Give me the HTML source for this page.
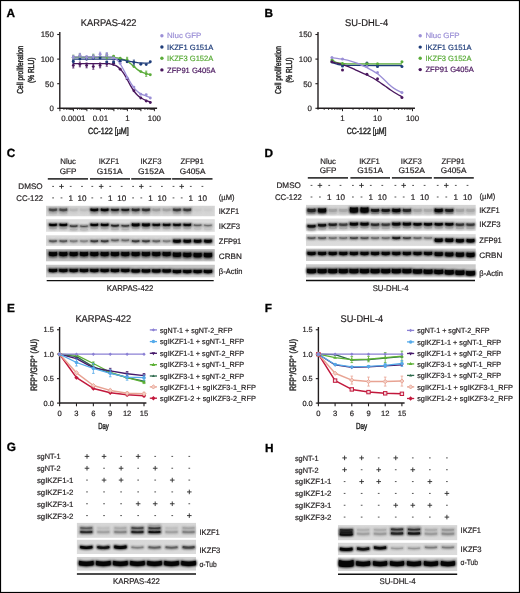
<!DOCTYPE html>
<html><head><meta charset="utf-8"><style>
html,body{margin:0;padding:0;background:#fff;}
svg{display:block;will-change:transform;}
text{font-family:"Liberation Sans", sans-serif;text-rendering:geometricPrecision;}
</style></head><body>
<svg width="520" height="593" viewBox="0 0 520 593">
<rect width="520" height="593" fill="#fff"/>
<text x="6.60" y="17.30" font-size="11.8" font-weight="bold" fill="#000" stroke="#000" stroke-width="0.3">A</text>
<text x="264.60" y="17.20" font-size="11.8" font-weight="bold" fill="#000" stroke="#000" stroke-width="0.3">B</text>
<text x="6.80" y="157.20" font-size="11.8" font-weight="bold" fill="#000" stroke="#000" stroke-width="0.3">C</text>
<text x="264.60" y="157.00" font-size="11.8" font-weight="bold" fill="#000" stroke="#000" stroke-width="0.3">D</text>
<text x="7.10" y="312.00" font-size="11.8" font-weight="bold" fill="#000" stroke="#000" stroke-width="0.3">E</text>
<text x="264.80" y="312.00" font-size="11.8" font-weight="bold" fill="#000" stroke="#000" stroke-width="0.3">F</text>
<text x="6.80" y="451.10" font-size="11.8" font-weight="bold" fill="#000" stroke="#000" stroke-width="0.3">G</text>
<text x="264.90" y="451.50" font-size="11.8" font-weight="bold" fill="#000" stroke="#000" stroke-width="0.3">H</text>
<line x1="59.80" y1="32.00" x2="59.80" y2="108.90" stroke="#231f20" stroke-width="1.4"/>
<line x1="57.20" y1="108.30" x2="59.80" y2="108.30" stroke="#231f20" stroke-width="1.1"/>
<text x="53.80" y="111.10" font-size="7.9" text-anchor="end" fill="#231f20" stroke="#231f20" stroke-width="0.2">0</text>
<line x1="57.20" y1="83.70" x2="59.80" y2="83.70" stroke="#231f20" stroke-width="1.1"/>
<text x="53.80" y="86.50" font-size="7.9" text-anchor="end" fill="#231f20" stroke="#231f20" stroke-width="0.2">50</text>
<line x1="57.20" y1="59.10" x2="59.80" y2="59.10" stroke="#231f20" stroke-width="1.1"/>
<text x="53.80" y="61.90" font-size="7.9" text-anchor="end" fill="#231f20" stroke="#231f20" stroke-width="0.2">100</text>
<line x1="57.20" y1="34.50" x2="59.80" y2="34.50" stroke="#231f20" stroke-width="1.1"/>
<text x="53.80" y="37.30" font-size="7.9" text-anchor="end" fill="#231f20" stroke="#231f20" stroke-width="0.2">150</text>
<line x1="59.10" y1="108.30" x2="157.10" y2="108.30" stroke="#231f20" stroke-width="1.5"/>
<line x1="59.90" y1="108.30" x2="59.90" y2="111.20" stroke="#231f20" stroke-width="1.0"/>
<line x1="63.96" y1="108.30" x2="63.96" y2="110.00" stroke="#231f20" stroke-width="0.8"/>
<line x1="66.34" y1="108.30" x2="66.34" y2="110.00" stroke="#231f20" stroke-width="0.8"/>
<line x1="68.03" y1="108.30" x2="68.03" y2="110.00" stroke="#231f20" stroke-width="0.8"/>
<line x1="69.34" y1="108.30" x2="69.34" y2="110.00" stroke="#231f20" stroke-width="0.8"/>
<line x1="70.41" y1="108.30" x2="70.41" y2="110.00" stroke="#231f20" stroke-width="0.8"/>
<line x1="71.31" y1="108.30" x2="71.31" y2="110.00" stroke="#231f20" stroke-width="0.8"/>
<line x1="72.09" y1="108.30" x2="72.09" y2="110.00" stroke="#231f20" stroke-width="0.8"/>
<line x1="72.78" y1="108.30" x2="72.78" y2="110.00" stroke="#231f20" stroke-width="0.8"/>
<line x1="73.40" y1="108.30" x2="73.40" y2="111.20" stroke="#231f20" stroke-width="1.0"/>
<line x1="77.46" y1="108.30" x2="77.46" y2="110.00" stroke="#231f20" stroke-width="0.8"/>
<line x1="79.84" y1="108.30" x2="79.84" y2="110.00" stroke="#231f20" stroke-width="0.8"/>
<line x1="81.53" y1="108.30" x2="81.53" y2="110.00" stroke="#231f20" stroke-width="0.8"/>
<line x1="82.84" y1="108.30" x2="82.84" y2="110.00" stroke="#231f20" stroke-width="0.8"/>
<line x1="83.91" y1="108.30" x2="83.91" y2="110.00" stroke="#231f20" stroke-width="0.8"/>
<line x1="84.81" y1="108.30" x2="84.81" y2="110.00" stroke="#231f20" stroke-width="0.8"/>
<line x1="85.59" y1="108.30" x2="85.59" y2="110.00" stroke="#231f20" stroke-width="0.8"/>
<line x1="86.28" y1="108.30" x2="86.28" y2="110.00" stroke="#231f20" stroke-width="0.8"/>
<line x1="86.90" y1="108.30" x2="86.90" y2="111.20" stroke="#231f20" stroke-width="1.0"/>
<line x1="90.96" y1="108.30" x2="90.96" y2="110.00" stroke="#231f20" stroke-width="0.8"/>
<line x1="93.34" y1="108.30" x2="93.34" y2="110.00" stroke="#231f20" stroke-width="0.8"/>
<line x1="95.03" y1="108.30" x2="95.03" y2="110.00" stroke="#231f20" stroke-width="0.8"/>
<line x1="96.34" y1="108.30" x2="96.34" y2="110.00" stroke="#231f20" stroke-width="0.8"/>
<line x1="97.41" y1="108.30" x2="97.41" y2="110.00" stroke="#231f20" stroke-width="0.8"/>
<line x1="98.31" y1="108.30" x2="98.31" y2="110.00" stroke="#231f20" stroke-width="0.8"/>
<line x1="99.09" y1="108.30" x2="99.09" y2="110.00" stroke="#231f20" stroke-width="0.8"/>
<line x1="99.78" y1="108.30" x2="99.78" y2="110.00" stroke="#231f20" stroke-width="0.8"/>
<line x1="100.40" y1="108.30" x2="100.40" y2="111.20" stroke="#231f20" stroke-width="1.0"/>
<line x1="104.46" y1="108.30" x2="104.46" y2="110.00" stroke="#231f20" stroke-width="0.8"/>
<line x1="106.84" y1="108.30" x2="106.84" y2="110.00" stroke="#231f20" stroke-width="0.8"/>
<line x1="108.53" y1="108.30" x2="108.53" y2="110.00" stroke="#231f20" stroke-width="0.8"/>
<line x1="109.84" y1="108.30" x2="109.84" y2="110.00" stroke="#231f20" stroke-width="0.8"/>
<line x1="110.91" y1="108.30" x2="110.91" y2="110.00" stroke="#231f20" stroke-width="0.8"/>
<line x1="111.81" y1="108.30" x2="111.81" y2="110.00" stroke="#231f20" stroke-width="0.8"/>
<line x1="112.59" y1="108.30" x2="112.59" y2="110.00" stroke="#231f20" stroke-width="0.8"/>
<line x1="113.28" y1="108.30" x2="113.28" y2="110.00" stroke="#231f20" stroke-width="0.8"/>
<line x1="113.90" y1="108.30" x2="113.90" y2="111.20" stroke="#231f20" stroke-width="1.0"/>
<line x1="117.96" y1="108.30" x2="117.96" y2="110.00" stroke="#231f20" stroke-width="0.8"/>
<line x1="120.34" y1="108.30" x2="120.34" y2="110.00" stroke="#231f20" stroke-width="0.8"/>
<line x1="122.03" y1="108.30" x2="122.03" y2="110.00" stroke="#231f20" stroke-width="0.8"/>
<line x1="123.34" y1="108.30" x2="123.34" y2="110.00" stroke="#231f20" stroke-width="0.8"/>
<line x1="124.41" y1="108.30" x2="124.41" y2="110.00" stroke="#231f20" stroke-width="0.8"/>
<line x1="125.31" y1="108.30" x2="125.31" y2="110.00" stroke="#231f20" stroke-width="0.8"/>
<line x1="126.09" y1="108.30" x2="126.09" y2="110.00" stroke="#231f20" stroke-width="0.8"/>
<line x1="126.78" y1="108.30" x2="126.78" y2="110.00" stroke="#231f20" stroke-width="0.8"/>
<line x1="127.40" y1="108.30" x2="127.40" y2="111.20" stroke="#231f20" stroke-width="1.0"/>
<line x1="131.46" y1="108.30" x2="131.46" y2="110.00" stroke="#231f20" stroke-width="0.8"/>
<line x1="133.84" y1="108.30" x2="133.84" y2="110.00" stroke="#231f20" stroke-width="0.8"/>
<line x1="135.53" y1="108.30" x2="135.53" y2="110.00" stroke="#231f20" stroke-width="0.8"/>
<line x1="136.84" y1="108.30" x2="136.84" y2="110.00" stroke="#231f20" stroke-width="0.8"/>
<line x1="137.91" y1="108.30" x2="137.91" y2="110.00" stroke="#231f20" stroke-width="0.8"/>
<line x1="138.81" y1="108.30" x2="138.81" y2="110.00" stroke="#231f20" stroke-width="0.8"/>
<line x1="139.59" y1="108.30" x2="139.59" y2="110.00" stroke="#231f20" stroke-width="0.8"/>
<line x1="140.28" y1="108.30" x2="140.28" y2="110.00" stroke="#231f20" stroke-width="0.8"/>
<line x1="140.90" y1="108.30" x2="140.90" y2="111.20" stroke="#231f20" stroke-width="1.0"/>
<line x1="144.96" y1="108.30" x2="144.96" y2="110.00" stroke="#231f20" stroke-width="0.8"/>
<line x1="147.34" y1="108.30" x2="147.34" y2="110.00" stroke="#231f20" stroke-width="0.8"/>
<line x1="149.03" y1="108.30" x2="149.03" y2="110.00" stroke="#231f20" stroke-width="0.8"/>
<line x1="150.34" y1="108.30" x2="150.34" y2="110.00" stroke="#231f20" stroke-width="0.8"/>
<line x1="151.41" y1="108.30" x2="151.41" y2="110.00" stroke="#231f20" stroke-width="0.8"/>
<line x1="152.31" y1="108.30" x2="152.31" y2="110.00" stroke="#231f20" stroke-width="0.8"/>
<line x1="153.09" y1="108.30" x2="153.09" y2="110.00" stroke="#231f20" stroke-width="0.8"/>
<line x1="153.78" y1="108.30" x2="153.78" y2="110.00" stroke="#231f20" stroke-width="0.8"/>
<line x1="154.40" y1="108.30" x2="154.40" y2="111.20" stroke="#231f20" stroke-width="1.0"/>
<text x="73.40" y="121.20" font-size="7.9" text-anchor="middle" fill="#231f20" stroke="#231f20" stroke-width="0.2">0.0001</text>
<text x="100.40" y="121.20" font-size="7.9" text-anchor="middle" fill="#231f20" stroke="#231f20" stroke-width="0.2">0.01</text>
<text x="127.40" y="121.20" font-size="7.9" text-anchor="middle" fill="#231f20" stroke="#231f20" stroke-width="0.2">1</text>
<text x="154.40" y="121.20" font-size="7.9" text-anchor="middle" fill="#231f20" stroke="#231f20" stroke-width="0.2">100</text>
<text x="88.00" y="134.2" font-size="9.0" textLength="40.7" lengthAdjust="spacingAndGlyphs" fill="#2a2a2a" stroke="#2a2a2a" stroke-width="0.45">CC-122 [µM]</text>
<text x="80.80" y="26.30" font-size="9.8" textLength="55.7" lengthAdjust="spacingAndGlyphs" fill="#231f20" stroke="#231f20" stroke-width="0.2">KARPAS-422</text>
<text transform="translate(22.60,69.70) rotate(-90)" x="0" y="0" font-size="8.6" text-anchor="middle" textLength="48.0" lengthAdjust="spacingAndGlyphs" fill="#2a2a2a" stroke="#2a2a2a" stroke-width="0.45">Cell proliferation</text>
<text transform="translate(33.60,70.30) rotate(-90)" x="0" y="0" font-size="8.6" text-anchor="middle" textLength="25.3" lengthAdjust="spacingAndGlyphs" fill="#2a2a2a" stroke="#2a2a2a" stroke-width="0.45">(% RLU)</text>
<path d="M73.30,63.60 C78.75,63.60 99.88,63.55 106.00,63.60 C112.12,63.65 108.67,63.70 110.00,63.90 C111.33,64.10 112.75,64.35 114.00,64.80 C115.25,65.25 116.42,65.83 117.50,66.60 C118.58,67.37 119.42,68.20 120.50,69.40 C121.58,70.60 122.90,72.17 124.00,73.80 C125.10,75.43 126.02,77.23 127.10,79.20 C128.18,81.17 129.37,83.63 130.50,85.60 C131.63,87.57 132.73,89.40 133.90,91.00 C135.07,92.60 136.35,94.07 137.50,95.20 C138.65,96.33 139.35,96.90 140.80,97.80 C142.25,98.70 144.62,99.92 146.20,100.60 C147.78,101.28 149.62,101.68 150.30,101.90" fill="none" stroke="#4a175e" stroke-width="1.35" stroke-linejoin="round"/>
<path d="M73.30,57.20 C79.08,57.22 101.22,57.23 108.00,57.30 C114.78,57.37 112.00,57.42 114.00,57.60 C116.00,57.78 118.33,58.07 120.00,58.40 C121.67,58.73 122.82,59.17 124.00,59.60 C125.18,60.03 126.02,60.33 127.10,61.00 C128.18,61.67 129.37,62.67 130.50,63.60 C131.63,64.53 132.73,65.60 133.90,66.60 C135.07,67.60 136.35,68.77 137.50,69.60 C138.65,70.43 139.35,70.93 140.80,71.60 C142.25,72.27 144.62,73.10 146.20,73.60 C147.78,74.10 149.62,74.43 150.30,74.60" fill="none" stroke="#5bac3a" stroke-width="1.35" stroke-linejoin="round"/>
<path d="M73.30,59.10 C79.42,59.12 102.55,59.13 110.00,59.20 C117.45,59.27 115.67,59.33 118.00,59.50 C120.33,59.67 122.00,59.90 124.00,60.20 C126.00,60.50 128.00,60.93 130.00,61.30 C132.00,61.67 134.17,62.12 136.00,62.40 C137.83,62.68 139.30,62.88 141.00,63.00 C142.70,63.12 144.65,63.13 146.20,63.10 C147.75,63.07 149.62,62.85 150.30,62.80" fill="none" stroke="#1f3d7a" stroke-width="1.35" stroke-linejoin="round"/>
<path d="M73.30,56.80 C79.08,56.80 101.55,56.75 108.00,56.80 C114.45,56.85 110.75,56.80 112.00,57.10 C113.25,57.40 114.42,57.88 115.50,58.60 C116.58,59.32 117.50,60.17 118.50,61.40 C119.50,62.63 120.50,64.30 121.50,66.00 C122.50,67.70 123.57,69.83 124.50,71.60 C125.43,73.37 126.10,74.77 127.10,76.60 C128.10,78.43 129.37,80.77 130.50,82.60 C131.63,84.43 132.73,86.13 133.90,87.60 C135.07,89.07 136.35,90.37 137.50,91.40 C138.65,92.43 139.35,93.03 140.80,93.80 C142.25,94.57 144.62,95.37 146.20,96.00 C147.78,96.63 149.62,97.33 150.30,97.60" fill="none" stroke="#9b8fd6" stroke-width="1.35" stroke-linejoin="round"/>
<line x1="73.30" y1="62.80" x2="73.30" y2="68.00" stroke="#4a175e" stroke-width="0.8"/>
<line x1="72.20" y1="62.80" x2="74.40" y2="62.80" stroke="#4a175e" stroke-width="0.8"/>
<line x1="72.20" y1="68.00" x2="74.40" y2="68.00" stroke="#4a175e" stroke-width="0.8"/>
<circle cx="73.30" cy="65.40" r="1.45" fill="#4a175e"/>
<line x1="79.90" y1="62.00" x2="79.90" y2="66.80" stroke="#4a175e" stroke-width="0.8"/>
<line x1="78.80" y1="62.00" x2="81.00" y2="62.00" stroke="#4a175e" stroke-width="0.8"/>
<line x1="78.80" y1="66.80" x2="81.00" y2="66.80" stroke="#4a175e" stroke-width="0.8"/>
<circle cx="79.90" cy="64.40" r="1.45" fill="#4a175e"/>
<line x1="86.60" y1="63.00" x2="86.60" y2="67.80" stroke="#4a175e" stroke-width="0.8"/>
<line x1="85.50" y1="63.00" x2="87.70" y2="63.00" stroke="#4a175e" stroke-width="0.8"/>
<line x1="85.50" y1="67.80" x2="87.70" y2="67.80" stroke="#4a175e" stroke-width="0.8"/>
<circle cx="86.60" cy="65.40" r="1.45" fill="#4a175e"/>
<line x1="93.30" y1="64.00" x2="93.30" y2="69.20" stroke="#4a175e" stroke-width="0.8"/>
<line x1="92.20" y1="64.00" x2="94.40" y2="64.00" stroke="#4a175e" stroke-width="0.8"/>
<line x1="92.20" y1="69.20" x2="94.40" y2="69.20" stroke="#4a175e" stroke-width="0.8"/>
<circle cx="93.30" cy="66.60" r="1.45" fill="#4a175e"/>
<line x1="100.10" y1="63.00" x2="100.10" y2="67.80" stroke="#4a175e" stroke-width="0.8"/>
<line x1="99.00" y1="63.00" x2="101.20" y2="63.00" stroke="#4a175e" stroke-width="0.8"/>
<line x1="99.00" y1="67.80" x2="101.20" y2="67.80" stroke="#4a175e" stroke-width="0.8"/>
<circle cx="100.10" cy="65.40" r="1.45" fill="#4a175e"/>
<line x1="106.80" y1="61.40" x2="106.80" y2="66.20" stroke="#4a175e" stroke-width="0.8"/>
<line x1="105.70" y1="61.40" x2="107.90" y2="61.40" stroke="#4a175e" stroke-width="0.8"/>
<line x1="105.70" y1="66.20" x2="107.90" y2="66.20" stroke="#4a175e" stroke-width="0.8"/>
<circle cx="106.80" cy="63.80" r="1.45" fill="#4a175e"/>
<line x1="113.60" y1="61.00" x2="113.60" y2="65.40" stroke="#4a175e" stroke-width="0.8"/>
<line x1="112.50" y1="61.00" x2="114.70" y2="61.00" stroke="#4a175e" stroke-width="0.8"/>
<line x1="112.50" y1="65.40" x2="114.70" y2="65.40" stroke="#4a175e" stroke-width="0.8"/>
<circle cx="113.60" cy="63.20" r="1.45" fill="#4a175e"/>
<circle cx="120.20" cy="69.20" r="1.45" fill="#4a175e"/>
<circle cx="127.10" cy="78.90" r="1.45" fill="#4a175e"/>
<circle cx="133.90" cy="90.70" r="1.45" fill="#4a175e"/>
<circle cx="140.80" cy="98.00" r="1.45" fill="#4a175e"/>
<circle cx="146.20" cy="101.00" r="1.45" fill="#4a175e"/>
<circle cx="150.30" cy="102.50" r="1.45" fill="#4a175e"/>
<line x1="73.30" y1="55.20" x2="73.30" y2="59.20" stroke="#5bac3a" stroke-width="0.8"/>
<line x1="72.20" y1="55.20" x2="74.40" y2="55.20" stroke="#5bac3a" stroke-width="0.8"/>
<line x1="72.20" y1="59.20" x2="74.40" y2="59.20" stroke="#5bac3a" stroke-width="0.8"/>
<circle cx="73.30" cy="57.20" r="1.45" fill="#5bac3a"/>
<line x1="79.90" y1="53.80" x2="79.90" y2="58.20" stroke="#5bac3a" stroke-width="0.8"/>
<line x1="78.80" y1="53.80" x2="81.00" y2="53.80" stroke="#5bac3a" stroke-width="0.8"/>
<line x1="78.80" y1="58.20" x2="81.00" y2="58.20" stroke="#5bac3a" stroke-width="0.8"/>
<circle cx="79.90" cy="56.00" r="1.45" fill="#5bac3a"/>
<circle cx="86.60" cy="57.20" r="1.45" fill="#5bac3a"/>
<line x1="93.30" y1="54.20" x2="93.30" y2="58.20" stroke="#5bac3a" stroke-width="0.8"/>
<line x1="92.20" y1="54.20" x2="94.40" y2="54.20" stroke="#5bac3a" stroke-width="0.8"/>
<line x1="92.20" y1="58.20" x2="94.40" y2="58.20" stroke="#5bac3a" stroke-width="0.8"/>
<circle cx="93.30" cy="56.20" r="1.45" fill="#5bac3a"/>
<circle cx="100.10" cy="57.00" r="1.45" fill="#5bac3a"/>
<line x1="106.80" y1="53.40" x2="106.80" y2="58.60" stroke="#5bac3a" stroke-width="0.8"/>
<line x1="105.70" y1="53.40" x2="107.90" y2="53.40" stroke="#5bac3a" stroke-width="0.8"/>
<line x1="105.70" y1="58.60" x2="107.90" y2="58.60" stroke="#5bac3a" stroke-width="0.8"/>
<circle cx="106.80" cy="56.00" r="1.45" fill="#5bac3a"/>
<circle cx="113.60" cy="56.20" r="1.45" fill="#5bac3a"/>
<circle cx="120.20" cy="58.20" r="1.45" fill="#5bac3a"/>
<line x1="127.10" y1="57.30" x2="127.10" y2="62.10" stroke="#5bac3a" stroke-width="0.8"/>
<line x1="126.00" y1="57.30" x2="128.20" y2="57.30" stroke="#5bac3a" stroke-width="0.8"/>
<line x1="126.00" y1="62.10" x2="128.20" y2="62.10" stroke="#5bac3a" stroke-width="0.8"/>
<circle cx="127.10" cy="59.70" r="1.45" fill="#5bac3a"/>
<circle cx="133.90" cy="66.60" r="1.45" fill="#5bac3a"/>
<circle cx="140.80" cy="71.60" r="1.45" fill="#5bac3a"/>
<line x1="146.20" y1="71.10" x2="146.20" y2="76.30" stroke="#5bac3a" stroke-width="0.8"/>
<line x1="145.10" y1="71.10" x2="147.30" y2="71.10" stroke="#5bac3a" stroke-width="0.8"/>
<line x1="145.10" y1="76.30" x2="147.30" y2="76.30" stroke="#5bac3a" stroke-width="0.8"/>
<circle cx="146.20" cy="73.70" r="1.45" fill="#5bac3a"/>
<circle cx="150.30" cy="74.80" r="1.45" fill="#5bac3a"/>
<line x1="73.30" y1="59.70" x2="73.30" y2="62.90" stroke="#1f3d7a" stroke-width="0.8"/>
<line x1="72.20" y1="59.70" x2="74.40" y2="59.70" stroke="#1f3d7a" stroke-width="0.8"/>
<line x1="72.20" y1="62.90" x2="74.40" y2="62.90" stroke="#1f3d7a" stroke-width="0.8"/>
<circle cx="73.30" cy="61.30" r="1.45" fill="#1f3d7a"/>
<circle cx="79.90" cy="59.10" r="1.45" fill="#1f3d7a"/>
<circle cx="86.60" cy="59.20" r="1.45" fill="#1f3d7a"/>
<circle cx="93.30" cy="58.50" r="1.45" fill="#1f3d7a"/>
<circle cx="100.10" cy="58.00" r="1.45" fill="#1f3d7a"/>
<circle cx="106.80" cy="62.00" r="1.45" fill="#1f3d7a"/>
<circle cx="113.60" cy="62.00" r="1.45" fill="#1f3d7a"/>
<circle cx="120.20" cy="61.20" r="1.45" fill="#1f3d7a"/>
<circle cx="127.10" cy="61.80" r="1.45" fill="#1f3d7a"/>
<line x1="133.90" y1="60.10" x2="133.90" y2="64.90" stroke="#1f3d7a" stroke-width="0.8"/>
<line x1="132.80" y1="60.10" x2="135.00" y2="60.10" stroke="#1f3d7a" stroke-width="0.8"/>
<line x1="132.80" y1="64.90" x2="135.00" y2="64.90" stroke="#1f3d7a" stroke-width="0.8"/>
<circle cx="133.90" cy="62.50" r="1.45" fill="#1f3d7a"/>
<circle cx="140.80" cy="64.30" r="1.45" fill="#1f3d7a"/>
<circle cx="146.20" cy="64.60" r="1.45" fill="#1f3d7a"/>
<circle cx="150.30" cy="61.80" r="1.45" fill="#1f3d7a"/>
<line x1="73.30" y1="55.40" x2="73.30" y2="59.00" stroke="#9b8fd6" stroke-width="0.8"/>
<line x1="72.20" y1="55.40" x2="74.40" y2="55.40" stroke="#9b8fd6" stroke-width="0.8"/>
<line x1="72.20" y1="59.00" x2="74.40" y2="59.00" stroke="#9b8fd6" stroke-width="0.8"/>
<circle cx="73.30" cy="57.20" r="1.45" fill="#9b8fd6"/>
<line x1="79.90" y1="53.30" x2="79.90" y2="57.30" stroke="#9b8fd6" stroke-width="0.8"/>
<line x1="78.80" y1="53.30" x2="81.00" y2="53.30" stroke="#9b8fd6" stroke-width="0.8"/>
<line x1="78.80" y1="57.30" x2="81.00" y2="57.30" stroke="#9b8fd6" stroke-width="0.8"/>
<circle cx="79.90" cy="55.30" r="1.45" fill="#9b8fd6"/>
<line x1="86.60" y1="55.60" x2="86.60" y2="59.20" stroke="#9b8fd6" stroke-width="0.8"/>
<line x1="85.50" y1="55.60" x2="87.70" y2="55.60" stroke="#9b8fd6" stroke-width="0.8"/>
<line x1="85.50" y1="59.20" x2="87.70" y2="59.20" stroke="#9b8fd6" stroke-width="0.8"/>
<circle cx="86.60" cy="57.40" r="1.45" fill="#9b8fd6"/>
<line x1="93.30" y1="54.70" x2="93.30" y2="58.70" stroke="#9b8fd6" stroke-width="0.8"/>
<line x1="92.20" y1="54.70" x2="94.40" y2="54.70" stroke="#9b8fd6" stroke-width="0.8"/>
<line x1="92.20" y1="58.70" x2="94.40" y2="58.70" stroke="#9b8fd6" stroke-width="0.8"/>
<circle cx="93.30" cy="56.70" r="1.45" fill="#9b8fd6"/>
<line x1="100.10" y1="52.20" x2="100.10" y2="56.20" stroke="#9b8fd6" stroke-width="0.8"/>
<line x1="99.00" y1="52.20" x2="101.20" y2="52.20" stroke="#9b8fd6" stroke-width="0.8"/>
<line x1="99.00" y1="56.20" x2="101.20" y2="56.20" stroke="#9b8fd6" stroke-width="0.8"/>
<circle cx="100.10" cy="54.20" r="1.45" fill="#9b8fd6"/>
<line x1="106.80" y1="52.60" x2="106.80" y2="56.60" stroke="#9b8fd6" stroke-width="0.8"/>
<line x1="105.70" y1="52.60" x2="107.90" y2="52.60" stroke="#9b8fd6" stroke-width="0.8"/>
<line x1="105.70" y1="56.60" x2="107.90" y2="56.60" stroke="#9b8fd6" stroke-width="0.8"/>
<circle cx="106.80" cy="54.60" r="1.45" fill="#9b8fd6"/>
<circle cx="113.60" cy="57.90" r="1.45" fill="#9b8fd6"/>
<circle cx="120.20" cy="63.40" r="1.45" fill="#9b8fd6"/>
<circle cx="127.10" cy="78.00" r="1.45" fill="#9b8fd6"/>
<circle cx="133.90" cy="87.10" r="1.45" fill="#9b8fd6"/>
<circle cx="140.80" cy="94.30" r="1.45" fill="#9b8fd6"/>
<circle cx="146.20" cy="94.80" r="1.45" fill="#9b8fd6"/>
<circle cx="150.30" cy="98.00" r="1.45" fill="#9b8fd6"/>
<circle cx="161.90" cy="35.70" r="1.7" fill="#9b8fd6"/>
<text x="167.10" y="38.40" font-size="7.6" textLength="34.2" lengthAdjust="spacingAndGlyphs" fill="#9b8fd6" stroke="#9b8fd6" stroke-width="0.2">Nluc GFP</text>
<circle cx="161.90" cy="47.00" r="1.7" fill="#1f3d7a"/>
<text x="167.10" y="49.70" font-size="7.6" textLength="46.2" lengthAdjust="spacingAndGlyphs" fill="#1f3d7a" stroke="#1f3d7a" stroke-width="0.2">IKZF1 G151A</text>
<circle cx="161.90" cy="58.30" r="1.7" fill="#5bac3a"/>
<text x="167.10" y="61.00" font-size="7.6" textLength="46.2" lengthAdjust="spacingAndGlyphs" fill="#5bac3a" stroke="#5bac3a" stroke-width="0.2">IKZF3 G152A</text>
<circle cx="161.90" cy="69.90" r="1.7" fill="#4a175e"/>
<text x="167.10" y="72.60" font-size="7.6" textLength="48.4" lengthAdjust="spacingAndGlyphs" fill="#4a175e" stroke="#4a175e" stroke-width="0.2">ZFP91 G405A</text>
<line x1="318.00" y1="32.00" x2="318.00" y2="108.90" stroke="#231f20" stroke-width="1.4"/>
<line x1="315.40" y1="108.30" x2="318.00" y2="108.30" stroke="#231f20" stroke-width="1.1"/>
<text x="312.00" y="111.10" font-size="7.9" text-anchor="end" fill="#231f20" stroke="#231f20" stroke-width="0.2">0</text>
<line x1="315.40" y1="83.70" x2="318.00" y2="83.70" stroke="#231f20" stroke-width="1.1"/>
<text x="312.00" y="86.50" font-size="7.9" text-anchor="end" fill="#231f20" stroke="#231f20" stroke-width="0.2">50</text>
<line x1="315.40" y1="59.10" x2="318.00" y2="59.10" stroke="#231f20" stroke-width="1.1"/>
<text x="312.00" y="61.90" font-size="7.9" text-anchor="end" fill="#231f20" stroke="#231f20" stroke-width="0.2">100</text>
<line x1="315.40" y1="34.50" x2="318.00" y2="34.50" stroke="#231f20" stroke-width="1.1"/>
<text x="312.00" y="37.30" font-size="7.9" text-anchor="end" fill="#231f20" stroke="#231f20" stroke-width="0.2">150</text>
<line x1="317.30" y1="108.30" x2="414.95" y2="108.30" stroke="#231f20" stroke-width="1.5"/>
<line x1="318.04" y1="108.30" x2="318.04" y2="110.00" stroke="#231f20" stroke-width="0.8"/>
<line x1="324.20" y1="108.30" x2="324.20" y2="110.00" stroke="#231f20" stroke-width="0.8"/>
<line x1="328.57" y1="108.30" x2="328.57" y2="110.00" stroke="#231f20" stroke-width="0.8"/>
<line x1="331.96" y1="108.30" x2="331.96" y2="110.00" stroke="#231f20" stroke-width="0.8"/>
<line x1="334.74" y1="108.30" x2="334.74" y2="110.00" stroke="#231f20" stroke-width="0.8"/>
<line x1="337.08" y1="108.30" x2="337.08" y2="110.00" stroke="#231f20" stroke-width="0.8"/>
<line x1="339.11" y1="108.30" x2="339.11" y2="110.00" stroke="#231f20" stroke-width="0.8"/>
<line x1="340.90" y1="108.30" x2="340.90" y2="110.00" stroke="#231f20" stroke-width="0.8"/>
<line x1="342.50" y1="108.30" x2="342.50" y2="111.20" stroke="#231f20" stroke-width="1.0"/>
<line x1="353.04" y1="108.30" x2="353.04" y2="110.00" stroke="#231f20" stroke-width="0.8"/>
<line x1="359.20" y1="108.30" x2="359.20" y2="110.00" stroke="#231f20" stroke-width="0.8"/>
<line x1="363.57" y1="108.30" x2="363.57" y2="110.00" stroke="#231f20" stroke-width="0.8"/>
<line x1="366.96" y1="108.30" x2="366.96" y2="110.00" stroke="#231f20" stroke-width="0.8"/>
<line x1="369.74" y1="108.30" x2="369.74" y2="110.00" stroke="#231f20" stroke-width="0.8"/>
<line x1="372.08" y1="108.30" x2="372.08" y2="110.00" stroke="#231f20" stroke-width="0.8"/>
<line x1="374.11" y1="108.30" x2="374.11" y2="110.00" stroke="#231f20" stroke-width="0.8"/>
<line x1="375.90" y1="108.30" x2="375.90" y2="110.00" stroke="#231f20" stroke-width="0.8"/>
<line x1="377.50" y1="108.30" x2="377.50" y2="111.20" stroke="#231f20" stroke-width="1.0"/>
<line x1="388.04" y1="108.30" x2="388.04" y2="110.00" stroke="#231f20" stroke-width="0.8"/>
<line x1="394.20" y1="108.30" x2="394.20" y2="110.00" stroke="#231f20" stroke-width="0.8"/>
<line x1="398.57" y1="108.30" x2="398.57" y2="110.00" stroke="#231f20" stroke-width="0.8"/>
<line x1="401.96" y1="108.30" x2="401.96" y2="110.00" stroke="#231f20" stroke-width="0.8"/>
<line x1="404.74" y1="108.30" x2="404.74" y2="110.00" stroke="#231f20" stroke-width="0.8"/>
<line x1="407.08" y1="108.30" x2="407.08" y2="110.00" stroke="#231f20" stroke-width="0.8"/>
<line x1="409.11" y1="108.30" x2="409.11" y2="110.00" stroke="#231f20" stroke-width="0.8"/>
<line x1="410.90" y1="108.30" x2="410.90" y2="110.00" stroke="#231f20" stroke-width="0.8"/>
<line x1="412.50" y1="108.30" x2="412.50" y2="111.20" stroke="#231f20" stroke-width="1.0"/>
<text x="342.50" y="121.20" font-size="7.9" text-anchor="middle" fill="#231f20" stroke="#231f20" stroke-width="0.2">1</text>
<text x="377.50" y="121.20" font-size="7.9" text-anchor="middle" fill="#231f20" stroke="#231f20" stroke-width="0.2">10</text>
<text x="412.50" y="121.20" font-size="7.9" text-anchor="middle" fill="#231f20" stroke="#231f20" stroke-width="0.2">100</text>
<text x="346.70" y="134.2" font-size="9.0" textLength="39.8" lengthAdjust="spacingAndGlyphs" fill="#2a2a2a" stroke="#2a2a2a" stroke-width="0.45">CC-122 [µM]</text>
<text x="345.00" y="26.30" font-size="9.8" textLength="43.2" lengthAdjust="spacingAndGlyphs" fill="#231f20" stroke="#231f20" stroke-width="0.2">SU-DHL-4</text>
<text transform="translate(281.20,70.00) rotate(-90)" x="0" y="0" font-size="8.6" text-anchor="middle" textLength="48.0" lengthAdjust="spacingAndGlyphs" fill="#2a2a2a" stroke="#2a2a2a" stroke-width="0.45">Cell proliferation</text>
<text transform="translate(292.30,70.20) rotate(-90)" x="0" y="0" font-size="8.6" text-anchor="middle" textLength="25.3" lengthAdjust="spacingAndGlyphs" fill="#2a2a2a" stroke="#2a2a2a" stroke-width="0.45">(% RLU)</text>
<path d="M332.00,62.60 C332.83,62.87 335.25,63.80 337.00,64.20 C338.75,64.60 339.50,64.80 342.50,65.00 C345.50,65.20 345.08,65.32 355.00,65.40 C364.92,65.48 394.17,65.48 402.00,65.50" fill="none" stroke="#1f3d7a" stroke-width="1.35" stroke-linejoin="round"/>
<path d="M332.00,59.40 C332.67,59.90 334.25,61.72 336.00,62.40 C337.75,63.08 339.33,63.25 342.50,63.50 C345.67,63.75 345.08,63.83 355.00,63.90 C364.92,63.97 394.17,63.90 402.00,63.90" fill="none" stroke="#5bac3a" stroke-width="1.35" stroke-linejoin="round"/>
<path d="M332.00,57.80 C332.83,57.88 335.25,58.07 337.00,58.30 C338.75,58.53 340.33,58.78 342.50,59.20 C344.67,59.62 347.58,60.13 350.00,60.80 C352.42,61.47 354.83,62.37 357.00,63.20 C359.17,64.03 361.33,65.07 363.00,65.80 C364.67,66.53 365.50,66.83 367.00,67.60 C368.50,68.37 370.25,69.37 372.00,70.40 C373.75,71.43 375.67,72.43 377.50,73.80 C379.33,75.17 381.25,77.00 383.00,78.60 C384.75,80.20 386.17,81.77 388.00,83.40 C389.83,85.03 391.67,86.87 394.00,88.40 C396.33,89.93 400.67,91.90 402.00,92.60" fill="none" stroke="#9b8fd6" stroke-width="1.35" stroke-linejoin="round"/>
<path d="M332.00,62.20 C332.83,62.37 335.25,62.80 337.00,63.20 C338.75,63.60 340.50,64.00 342.50,64.60 C344.50,65.20 346.92,65.97 349.00,66.80 C351.08,67.63 353.00,68.67 355.00,69.60 C357.00,70.53 359.00,71.50 361.00,72.40 C363.00,73.30 365.00,74.07 367.00,75.00 C369.00,75.93 371.00,76.87 373.00,78.00 C375.00,79.13 377.00,80.47 379.00,81.80 C381.00,83.13 383.00,84.60 385.00,86.00 C387.00,87.40 389.00,88.87 391.00,90.20 C393.00,91.53 395.17,92.90 397.00,94.00 C398.83,95.10 401.17,96.33 402.00,96.80" fill="none" stroke="#4a175e" stroke-width="1.35" stroke-linejoin="round"/>
<circle cx="331.96" cy="61.81" r="1.5" fill="#1f3d7a"/>
<circle cx="342.50" cy="65.99" r="1.5" fill="#1f3d7a"/>
<circle cx="366.96" cy="63.04" r="1.5" fill="#1f3d7a"/>
<circle cx="377.50" cy="66.48" r="1.5" fill="#1f3d7a"/>
<circle cx="401.96" cy="66.48" r="1.5" fill="#1f3d7a"/>
<circle cx="331.96" cy="60.08" r="1.5" fill="#5bac3a"/>
<circle cx="342.50" cy="63.53" r="1.5" fill="#5bac3a"/>
<circle cx="366.96" cy="63.77" r="1.5" fill="#5bac3a"/>
<circle cx="377.50" cy="63.77" r="1.5" fill="#5bac3a"/>
<circle cx="401.96" cy="61.81" r="1.5" fill="#5bac3a"/>
<circle cx="331.96" cy="57.62" r="1.5" fill="#9b8fd6"/>
<circle cx="342.50" cy="58.90" r="1.5" fill="#9b8fd6"/>
<circle cx="366.96" cy="66.48" r="1.5" fill="#9b8fd6"/>
<circle cx="377.50" cy="72.38" r="1.5" fill="#9b8fd6"/>
<circle cx="401.96" cy="92.56" r="1.5" fill="#9b8fd6"/>
<circle cx="331.96" cy="61.81" r="1.5" fill="#4a175e"/>
<circle cx="342.50" cy="69.92" r="1.5" fill="#4a175e"/>
<circle cx="366.96" cy="74.35" r="1.5" fill="#4a175e"/>
<circle cx="377.50" cy="78.78" r="1.5" fill="#4a175e"/>
<circle cx="401.96" cy="97.48" r="1.5" fill="#4a175e"/>
<circle cx="420.20" cy="35.70" r="1.7" fill="#9b8fd6"/>
<text x="425.40" y="38.40" font-size="7.6" textLength="34.2" lengthAdjust="spacingAndGlyphs" fill="#9b8fd6" stroke="#9b8fd6" stroke-width="0.2">Nluc GFP</text>
<circle cx="420.20" cy="47.10" r="1.7" fill="#1f3d7a"/>
<text x="425.40" y="49.80" font-size="7.6" textLength="46.2" lengthAdjust="spacingAndGlyphs" fill="#1f3d7a" stroke="#1f3d7a" stroke-width="0.2">IKZF1 G151A</text>
<circle cx="420.20" cy="58.20" r="1.7" fill="#5bac3a"/>
<text x="425.40" y="60.90" font-size="7.6" textLength="46.2" lengthAdjust="spacingAndGlyphs" fill="#5bac3a" stroke="#5bac3a" stroke-width="0.2">IKZF3 G152A</text>
<circle cx="420.20" cy="69.60" r="1.7" fill="#4a175e"/>
<text x="425.40" y="72.30" font-size="7.6" textLength="48.4" lengthAdjust="spacingAndGlyphs" fill="#4a175e" stroke="#4a175e" stroke-width="0.2">ZFP91 G405A</text>
<defs><filter id="bl" x="-40%" y="-200%" width="180%" height="500%"><feGaussianBlur stdDeviation="0.9"/></filter><filter id="bl2" x="-40%" y="-200%" width="180%" height="500%"><feGaussianBlur stdDeviation="0.8"/></filter><filter id="bl3" x="-40%" y="-200%" width="180%" height="500%"><feGaussianBlur stdDeviation="0.7"/></filter></defs>
<linearGradient id="g294" x1="0" y1="0" x2="0" y2="1"><stop offset="0" stop-color="#d4d4d4"/><stop offset="1" stop-color="#d8d8d8"/></linearGradient>
<rect x="46.00" y="205.80" width="168.80" height="10.40" fill="url(#g294)"/>
<path d="M48.70,211.55 Q53.00,212.55 57.30,211.55 L57.60,213.40 L57.30,214.45 Q53.00,215.25 48.70,214.45 L48.40,213.40 Z" fill="rgb(186,186,186)" filter="url(#bl)"/>
<path d="M49.40,212.15 Q53.00,213.15 56.60,212.15 L56.90,213.40 L56.60,213.85 Q53.00,214.65 49.40,213.85 L49.10,213.40 Z" fill="rgb(186,186,186)"/>
<path d="M48.70,207.85 Q53.00,208.85 57.30,207.85 L57.60,210.00 L57.30,211.35 Q53.00,212.15 48.70,211.35 L48.40,210.00 Z" fill="rgb(72,72,72)" filter="url(#bl)"/>
<path d="M49.40,208.45 Q53.00,209.45 56.60,208.45 L56.90,210.00 L56.60,210.75 Q53.00,211.55 49.40,210.75 L49.10,210.00 Z" fill="rgb(72,72,72)"/>
<path d="M59.03,211.55 Q63.33,212.55 67.63,211.55 L67.93,213.40 L67.63,214.45 Q63.33,215.25 59.03,214.45 L58.73,213.40 Z" fill="rgb(186,186,186)" filter="url(#bl)"/>
<path d="M59.73,212.15 Q63.33,213.15 66.93,212.15 L67.23,213.40 L66.93,213.85 Q63.33,214.65 59.73,213.85 L59.43,213.40 Z" fill="rgb(186,186,186)"/>
<path d="M59.03,207.85 Q63.33,208.85 67.63,207.85 L67.93,210.00 L67.63,211.35 Q63.33,212.15 59.03,211.35 L58.73,210.00 Z" fill="rgb(72,72,72)" filter="url(#bl)"/>
<path d="M59.73,208.45 Q63.33,209.45 66.93,208.45 L67.23,210.00 L66.93,210.75 Q63.33,211.55 59.73,210.75 L59.43,210.00 Z" fill="rgb(72,72,72)"/>
<path d="M69.36,211.55 Q73.66,212.55 77.96,211.55 L78.26,213.40 L77.96,214.45 Q73.66,215.25 69.36,214.45 L69.06,213.40 Z" fill="rgb(209,209,209)" filter="url(#bl)"/>
<path d="M70.06,212.15 Q73.66,213.15 77.26,212.15 L77.56,213.40 L77.26,213.85 Q73.66,214.65 70.06,213.85 L69.76,213.40 Z" fill="rgb(209,209,209)"/>
<path d="M69.36,207.85 Q73.66,208.85 77.96,207.85 L78.26,210.00 L77.96,211.35 Q73.66,212.15 69.36,211.35 L69.06,210.00 Z" fill="rgb(184,184,184)" filter="url(#bl)"/>
<path d="M70.06,208.45 Q73.66,209.45 77.26,208.45 L77.56,210.00 L77.26,210.75 Q73.66,211.55 70.06,210.75 L69.76,210.00 Z" fill="rgb(184,184,184)"/>
<path d="M79.69,211.55 Q83.99,212.55 88.29,211.55 L88.59,213.40 L88.29,214.45 Q83.99,215.25 79.69,214.45 L79.39,213.40 Z" fill="rgb(210,210,210)" filter="url(#bl)"/>
<path d="M80.39,212.15 Q83.99,213.15 87.59,212.15 L87.89,213.40 L87.59,213.85 Q83.99,214.65 80.39,213.85 L80.09,213.40 Z" fill="rgb(210,210,210)"/>
<path d="M79.69,207.85 Q83.99,208.85 88.29,207.85 L88.59,210.00 L88.29,211.35 Q83.99,212.15 79.69,211.35 L79.39,210.00 Z" fill="rgb(190,190,190)" filter="url(#bl)"/>
<path d="M80.39,208.45 Q83.99,209.45 87.59,208.45 L87.89,210.00 L87.59,210.75 Q83.99,211.55 80.39,210.75 L80.09,210.00 Z" fill="rgb(190,190,190)"/>
<path d="M90.02,211.55 Q94.32,212.55 98.62,211.55 L98.92,213.40 L98.62,214.45 Q94.32,215.25 90.02,214.45 L89.72,213.40 Z" fill="rgb(173,173,173)" filter="url(#bl)"/>
<path d="M90.72,212.15 Q94.32,213.15 97.92,212.15 L98.22,213.40 L97.92,213.85 Q94.32,214.65 90.72,213.85 L90.42,213.40 Z" fill="rgb(173,173,173)"/>
<path d="M90.02,207.85 Q94.32,208.85 98.62,207.85 L98.92,210.00 L98.62,211.35 Q94.32,212.15 90.02,211.35 L89.72,210.00 Z" fill="rgb(5,5,5)" filter="url(#bl)"/>
<path d="M90.72,208.45 Q94.32,209.45 97.92,208.45 L98.22,210.00 L97.92,210.75 Q94.32,211.55 90.72,210.75 L90.42,210.00 Z" fill="rgb(5,5,5)"/>
<path d="M100.35,211.55 Q104.65,212.55 108.95,211.55 L109.25,213.40 L108.95,214.45 Q104.65,215.25 100.35,214.45 L100.05,213.40 Z" fill="rgb(173,173,173)" filter="url(#bl)"/>
<path d="M101.05,212.15 Q104.65,213.15 108.25,212.15 L108.55,213.40 L108.25,213.85 Q104.65,214.65 101.05,213.85 L100.75,213.40 Z" fill="rgb(173,173,173)"/>
<path d="M100.35,207.85 Q104.65,208.85 108.95,207.85 L109.25,210.00 L108.95,211.35 Q104.65,212.15 100.35,211.35 L100.05,210.00 Z" fill="rgb(5,5,5)" filter="url(#bl)"/>
<path d="M101.05,208.45 Q104.65,209.45 108.25,208.45 L108.55,210.00 L108.25,210.75 Q104.65,211.55 101.05,210.75 L100.75,210.00 Z" fill="rgb(5,5,5)"/>
<path d="M110.68,211.55 Q114.98,212.55 119.28,211.55 L119.58,213.40 L119.28,214.45 Q114.98,215.25 110.68,214.45 L110.38,213.40 Z" fill="rgb(176,176,176)" filter="url(#bl)"/>
<path d="M111.38,212.15 Q114.98,213.15 118.58,212.15 L118.88,213.40 L118.58,213.85 Q114.98,214.65 111.38,213.85 L111.08,213.40 Z" fill="rgb(176,176,176)"/>
<path d="M110.68,208.05 Q114.98,209.05 119.28,208.05 L119.58,210.00 L119.28,211.15 Q114.98,211.95 110.68,211.15 L110.38,210.00 Z" fill="rgb(22,22,22)" filter="url(#bl)"/>
<path d="M111.38,208.65 Q114.98,209.65 118.58,208.65 L118.88,210.00 L118.58,210.55 Q114.98,211.35 111.38,210.55 L111.08,210.00 Z" fill="rgb(22,22,22)"/>
<path d="M121.01,211.55 Q125.31,212.55 129.61,211.55 L129.91,213.40 L129.61,214.45 Q125.31,215.25 121.01,214.45 L120.71,213.40 Z" fill="rgb(176,176,176)" filter="url(#bl)"/>
<path d="M121.71,212.15 Q125.31,213.15 128.91,212.15 L129.21,213.40 L128.91,213.85 Q125.31,214.65 121.71,213.85 L121.41,213.40 Z" fill="rgb(176,176,176)"/>
<path d="M121.01,208.05 Q125.31,209.05 129.61,208.05 L129.91,210.00 L129.61,211.15 Q125.31,211.95 121.01,211.15 L120.71,210.00 Z" fill="rgb(22,22,22)" filter="url(#bl)"/>
<path d="M121.71,208.65 Q125.31,209.65 128.91,208.65 L129.21,210.00 L128.91,210.55 Q125.31,211.35 121.71,210.55 L121.41,210.00 Z" fill="rgb(22,22,22)"/>
<path d="M131.34,211.55 Q135.64,212.55 139.94,211.55 L140.24,213.40 L139.94,214.45 Q135.64,215.25 131.34,214.45 L131.04,213.40 Z" fill="rgb(181,181,181)" filter="url(#bl)"/>
<path d="M132.04,212.15 Q135.64,213.15 139.24,212.15 L139.54,213.40 L139.24,213.85 Q135.64,214.65 132.04,213.85 L131.74,213.40 Z" fill="rgb(181,181,181)"/>
<path d="M131.34,207.85 Q135.64,208.85 139.94,207.85 L140.24,210.00 L139.94,211.35 Q135.64,212.15 131.34,211.35 L131.04,210.00 Z" fill="rgb(43,43,43)" filter="url(#bl)"/>
<path d="M132.04,208.45 Q135.64,209.45 139.24,208.45 L139.54,210.00 L139.24,210.75 Q135.64,211.55 132.04,210.75 L131.74,210.00 Z" fill="rgb(43,43,43)"/>
<path d="M141.67,211.55 Q145.97,212.55 150.27,211.55 L150.57,213.40 L150.27,214.45 Q145.97,215.25 141.67,214.45 L141.37,213.40 Z" fill="rgb(181,181,181)" filter="url(#bl)"/>
<path d="M142.37,212.15 Q145.97,213.15 149.57,212.15 L149.87,213.40 L149.57,213.85 Q145.97,214.65 142.37,213.85 L142.07,213.40 Z" fill="rgb(181,181,181)"/>
<path d="M141.67,207.85 Q145.97,208.85 150.27,207.85 L150.57,210.00 L150.27,211.35 Q145.97,212.15 141.67,211.35 L141.37,210.00 Z" fill="rgb(47,47,47)" filter="url(#bl)"/>
<path d="M142.37,208.45 Q145.97,209.45 149.57,208.45 L149.87,210.00 L149.57,210.75 Q145.97,211.55 142.37,210.75 L142.07,210.00 Z" fill="rgb(47,47,47)"/>
<path d="M152.00,211.55 Q156.30,212.55 160.60,211.55 L160.90,213.40 L160.60,214.45 Q156.30,215.25 152.00,214.45 L151.70,213.40 Z" fill="rgb(203,203,203)" filter="url(#bl)"/>
<path d="M152.70,212.15 Q156.30,213.15 159.90,212.15 L160.20,213.40 L159.90,213.85 Q156.30,214.65 152.70,213.85 L152.40,213.40 Z" fill="rgb(203,203,203)"/>
<path d="M152.00,207.85 Q156.30,208.85 160.60,207.85 L160.90,210.00 L160.60,211.35 Q156.30,212.15 152.00,211.35 L151.70,210.00 Z" fill="rgb(156,156,156)" filter="url(#bl)"/>
<path d="M152.70,208.45 Q156.30,209.45 159.90,208.45 L160.20,210.00 L159.90,210.75 Q156.30,211.55 152.70,210.75 L152.40,210.00 Z" fill="rgb(156,156,156)"/>
<path d="M162.33,211.55 Q166.63,212.55 170.93,211.55 L171.23,213.40 L170.93,214.45 Q166.63,215.25 162.33,214.45 L162.03,213.40 Z" fill="rgb(204,204,204)" filter="url(#bl)"/>
<path d="M163.03,212.15 Q166.63,213.15 170.23,212.15 L170.53,213.40 L170.23,213.85 Q166.63,214.65 163.03,213.85 L162.73,213.40 Z" fill="rgb(204,204,204)"/>
<path d="M162.33,207.85 Q166.63,208.85 170.93,207.85 L171.23,210.00 L170.93,211.35 Q166.63,212.15 162.33,211.35 L162.03,210.00 Z" fill="rgb(162,162,162)" filter="url(#bl)"/>
<path d="M163.03,208.45 Q166.63,209.45 170.23,208.45 L170.53,210.00 L170.23,210.75 Q166.63,211.55 163.03,210.75 L162.73,210.00 Z" fill="rgb(162,162,162)"/>
<path d="M172.66,211.55 Q176.96,212.55 181.26,211.55 L181.56,213.40 L181.26,214.45 Q176.96,215.25 172.66,214.45 L172.36,213.40 Z" fill="rgb(184,184,184)" filter="url(#bl)"/>
<path d="M173.36,212.15 Q176.96,213.15 180.56,212.15 L180.86,213.40 L180.56,213.85 Q176.96,214.65 173.36,213.85 L173.06,213.40 Z" fill="rgb(184,184,184)"/>
<path d="M172.66,207.85 Q176.96,208.85 181.26,207.85 L181.56,210.00 L181.26,211.35 Q176.96,212.15 172.66,211.35 L172.36,210.00 Z" fill="rgb(58,58,58)" filter="url(#bl)"/>
<path d="M173.36,208.45 Q176.96,209.45 180.56,208.45 L180.86,210.00 L180.56,210.75 Q176.96,211.55 173.36,210.75 L173.06,210.00 Z" fill="rgb(58,58,58)"/>
<path d="M182.99,211.55 Q187.29,212.55 191.59,211.55 L191.89,213.40 L191.59,214.45 Q187.29,215.25 182.99,214.45 L182.69,213.40 Z" fill="rgb(184,184,184)" filter="url(#bl)"/>
<path d="M183.69,212.15 Q187.29,213.15 190.89,212.15 L191.19,213.40 L190.89,213.85 Q187.29,214.65 183.69,213.85 L183.39,213.40 Z" fill="rgb(184,184,184)"/>
<path d="M182.99,207.85 Q187.29,208.85 191.59,207.85 L191.89,210.00 L191.59,211.35 Q187.29,212.15 182.99,211.35 L182.69,210.00 Z" fill="rgb(58,58,58)" filter="url(#bl)"/>
<path d="M183.69,208.45 Q187.29,209.45 190.89,208.45 L191.19,210.00 L190.89,210.75 Q187.29,211.55 183.69,210.75 L183.39,210.00 Z" fill="rgb(58,58,58)"/>
<path d="M193.32,211.55 Q197.62,212.55 201.92,211.55 L202.22,213.40 L201.92,214.45 Q197.62,215.25 193.32,214.45 L193.02,213.40 Z" fill="rgb(212,212,212)" filter="url(#bl)"/>
<path d="M194.02,212.15 Q197.62,213.15 201.22,212.15 L201.52,213.40 L201.22,213.85 Q197.62,214.65 194.02,213.85 L193.72,213.40 Z" fill="rgb(212,212,212)"/>
<path d="M193.32,207.85 Q197.62,208.85 201.92,207.85 L202.22,210.00 L201.92,211.35 Q197.62,212.15 193.32,211.35 L193.02,210.00 Z" fill="rgb(202,202,202)" filter="url(#bl)"/>
<path d="M194.02,208.45 Q197.62,209.45 201.22,208.45 L201.52,210.00 L201.22,210.75 Q197.62,211.55 194.02,210.75 L193.72,210.00 Z" fill="rgb(202,202,202)"/>
<path d="M203.65,211.55 Q207.95,212.55 212.25,211.55 L212.55,213.40 L212.25,214.45 Q207.95,215.25 203.65,214.45 L203.35,213.40 Z" fill="rgb(213,213,213)" filter="url(#bl)"/>
<path d="M204.35,212.15 Q207.95,213.15 211.55,212.15 L211.85,213.40 L211.55,213.85 Q207.95,214.65 204.35,213.85 L204.05,213.40 Z" fill="rgb(213,213,213)"/>
<path d="M203.65,207.85 Q207.95,208.85 212.25,207.85 L212.55,210.00 L212.25,211.35 Q207.95,212.15 203.65,211.35 L203.35,210.00 Z" fill="rgb(204,204,204)" filter="url(#bl)"/>
<path d="M204.35,208.45 Q207.95,209.45 211.55,208.45 L211.85,210.00 L211.55,210.75 Q207.95,211.55 204.35,210.75 L204.05,210.00 Z" fill="rgb(204,204,204)"/>
<linearGradient id="g360" x1="0" y1="0" x2="0" y2="1"><stop offset="0" stop-color="#dcdcdc"/><stop offset="1" stop-color="#e0e0e0"/></linearGradient>
<rect x="46.00" y="219.20" width="168.80" height="12.60" fill="url(#g360)"/>
<path d="M48.70,226.95 Q53.00,227.95 57.30,226.95 L57.60,228.60 L57.30,229.45 Q53.00,230.25 48.70,229.45 L48.40,228.60 Z" fill="rgb(173,173,173)" filter="url(#bl)"/>
<path d="M49.40,227.55 Q53.00,228.55 56.60,227.55 L56.90,228.60 L56.60,228.85 Q53.00,229.65 49.40,228.85 L49.10,228.60 Z" fill="rgb(173,173,173)"/>
<path d="M48.70,222.95 Q53.00,223.95 57.30,222.95 L57.60,225.00 L57.30,226.25 Q53.00,227.05 48.70,226.25 L48.40,225.00 Z" fill="rgb(5,5,5)" filter="url(#bl)"/>
<path d="M49.40,223.55 Q53.00,224.55 56.60,223.55 L56.90,225.00 L56.60,225.65 Q53.00,226.45 49.40,225.65 L49.10,225.00 Z" fill="rgb(5,5,5)"/>
<path d="M59.03,226.95 Q63.33,227.95 67.63,226.95 L67.93,228.60 L67.63,229.45 Q63.33,230.25 59.03,229.45 L58.73,228.60 Z" fill="rgb(173,173,173)" filter="url(#bl)"/>
<path d="M59.73,227.55 Q63.33,228.55 66.93,227.55 L67.23,228.60 L66.93,228.85 Q63.33,229.65 59.73,228.85 L59.43,228.60 Z" fill="rgb(173,173,173)"/>
<path d="M59.03,222.95 Q63.33,223.95 67.63,222.95 L67.93,225.00 L67.63,226.25 Q63.33,227.05 59.03,226.25 L58.73,225.00 Z" fill="rgb(5,5,5)" filter="url(#bl)"/>
<path d="M59.73,223.55 Q63.33,224.55 66.93,223.55 L67.23,225.00 L66.93,225.65 Q63.33,226.45 59.73,225.65 L59.43,225.00 Z" fill="rgb(5,5,5)"/>
<path d="M69.36,228.15 Q73.66,229.15 77.96,228.15 L78.26,229.80 L77.96,230.65 Q73.66,231.45 69.36,230.65 L69.06,229.80 Z" fill="rgb(182,182,182)" filter="url(#bl)"/>
<path d="M70.06,228.75 Q73.66,229.75 77.26,228.75 L77.56,229.80 L77.26,230.05 Q73.66,230.85 70.06,230.05 L69.76,229.80 Z" fill="rgb(182,182,182)"/>
<path d="M69.36,224.55 Q73.66,225.55 77.96,224.55 L78.26,226.20 L77.96,227.05 Q73.66,227.85 69.36,227.05 L69.06,226.20 Z" fill="rgb(51,51,51)" filter="url(#bl)"/>
<path d="M70.06,225.15 Q73.66,226.15 77.26,225.15 L77.56,226.20 L77.26,226.45 Q73.66,227.25 70.06,226.45 L69.76,226.20 Z" fill="rgb(51,51,51)"/>
<path d="M79.69,228.35 Q83.99,229.35 88.29,228.35 L88.59,230.00 L88.29,230.85 Q83.99,231.65 79.69,230.85 L79.39,230.00 Z" fill="rgb(188,188,188)" filter="url(#bl)"/>
<path d="M80.39,228.95 Q83.99,229.95 87.59,228.95 L87.89,230.00 L87.59,230.25 Q83.99,231.05 80.39,230.25 L80.09,230.00 Z" fill="rgb(188,188,188)"/>
<path d="M79.69,224.85 Q83.99,225.85 88.29,224.85 L88.59,226.40 L88.29,227.15 Q83.99,227.95 79.69,227.15 L79.39,226.40 Z" fill="rgb(78,78,78)" filter="url(#bl)"/>
<path d="M80.39,225.45 Q83.99,226.45 87.59,225.45 L87.89,226.40 L87.59,226.55 Q83.99,227.35 80.39,226.55 L80.09,226.40 Z" fill="rgb(78,78,78)"/>
<path d="M90.02,226.95 Q94.32,227.95 98.62,226.95 L98.92,228.60 L98.62,229.45 Q94.32,230.25 90.02,229.45 L89.72,228.60 Z" fill="rgb(173,173,173)" filter="url(#bl)"/>
<path d="M90.72,227.55 Q94.32,228.55 97.92,227.55 L98.22,228.60 L97.92,228.85 Q94.32,229.65 90.72,228.85 L90.42,228.60 Z" fill="rgb(173,173,173)"/>
<path d="M90.02,222.95 Q94.32,223.95 98.62,222.95 L98.92,225.00 L98.62,226.25 Q94.32,227.05 90.02,226.25 L89.72,225.00 Z" fill="rgb(5,5,5)" filter="url(#bl)"/>
<path d="M90.72,223.55 Q94.32,224.55 97.92,223.55 L98.22,225.00 L97.92,225.65 Q94.32,226.45 90.72,225.65 L90.42,225.00 Z" fill="rgb(5,5,5)"/>
<path d="M100.35,226.95 Q104.65,227.95 108.95,226.95 L109.25,228.60 L108.95,229.45 Q104.65,230.25 100.35,229.45 L100.05,228.60 Z" fill="rgb(173,173,173)" filter="url(#bl)"/>
<path d="M101.05,227.55 Q104.65,228.55 108.25,227.55 L108.55,228.60 L108.25,228.85 Q104.65,229.65 101.05,228.85 L100.75,228.60 Z" fill="rgb(173,173,173)"/>
<path d="M100.35,222.95 Q104.65,223.95 108.95,222.95 L109.25,225.00 L108.95,226.25 Q104.65,227.05 100.35,226.25 L100.05,225.00 Z" fill="rgb(5,5,5)" filter="url(#bl)"/>
<path d="M101.05,223.55 Q104.65,224.55 108.25,223.55 L108.55,225.00 L108.25,225.65 Q104.65,226.45 101.05,225.65 L100.75,225.00 Z" fill="rgb(5,5,5)"/>
<path d="M110.68,227.75 Q114.98,228.75 119.28,227.75 L119.58,229.40 L119.28,230.25 Q114.98,231.05 110.68,230.25 L110.38,229.40 Z" fill="rgb(179,179,179)" filter="url(#bl)"/>
<path d="M111.38,228.35 Q114.98,229.35 118.58,228.35 L118.88,229.40 L118.58,229.65 Q114.98,230.45 111.38,229.65 L111.08,229.40 Z" fill="rgb(179,179,179)"/>
<path d="M110.68,223.95 Q114.98,224.95 119.28,223.95 L119.58,225.80 L119.28,226.85 Q114.98,227.65 110.68,226.85 L110.38,225.80 Z" fill="rgb(36,36,36)" filter="url(#bl)"/>
<path d="M111.38,224.55 Q114.98,225.55 118.58,224.55 L118.88,225.80 L118.58,226.25 Q114.98,227.05 111.38,226.25 L111.08,225.80 Z" fill="rgb(36,36,36)"/>
<path d="M121.01,227.95 Q125.31,228.95 129.61,227.95 L129.91,229.60 L129.61,230.45 Q125.31,231.25 121.01,230.45 L120.71,229.60 Z" fill="rgb(184,184,184)" filter="url(#bl)"/>
<path d="M121.71,228.55 Q125.31,229.55 128.91,228.55 L129.21,229.60 L128.91,229.85 Q125.31,230.65 121.71,229.85 L121.41,229.60 Z" fill="rgb(184,184,184)"/>
<path d="M121.01,224.25 Q125.31,225.25 129.61,224.25 L129.91,226.00 L129.61,226.95 Q125.31,227.75 121.01,226.95 L120.71,226.00 Z" fill="rgb(58,58,58)" filter="url(#bl)"/>
<path d="M121.71,224.85 Q125.31,225.85 128.91,224.85 L129.21,226.00 L128.91,226.35 Q125.31,227.15 121.71,226.35 L121.41,226.00 Z" fill="rgb(58,58,58)"/>
<path d="M131.34,226.95 Q135.64,227.95 139.94,226.95 L140.24,228.60 L139.94,229.45 Q135.64,230.25 131.34,229.45 L131.04,228.60 Z" fill="rgb(173,173,173)" filter="url(#bl)"/>
<path d="M132.04,227.55 Q135.64,228.55 139.24,227.55 L139.54,228.60 L139.24,228.85 Q135.64,229.65 132.04,228.85 L131.74,228.60 Z" fill="rgb(173,173,173)"/>
<path d="M131.34,222.65 Q135.64,223.65 139.94,222.65 L140.24,225.00 L139.94,226.55 Q135.64,227.35 131.34,226.55 L131.04,225.00 Z" fill="rgb(5,5,5)" filter="url(#bl)"/>
<path d="M132.04,223.25 Q135.64,224.25 139.24,223.25 L139.54,225.00 L139.24,225.95 Q135.64,226.75 132.04,225.95 L131.74,225.00 Z" fill="rgb(5,5,5)"/>
<path d="M141.67,226.95 Q145.97,227.95 150.27,226.95 L150.57,228.60 L150.27,229.45 Q145.97,230.25 141.67,229.45 L141.37,228.60 Z" fill="rgb(173,173,173)" filter="url(#bl)"/>
<path d="M142.37,227.55 Q145.97,228.55 149.57,227.55 L149.87,228.60 L149.57,228.85 Q145.97,229.65 142.37,228.85 L142.07,228.60 Z" fill="rgb(173,173,173)"/>
<path d="M141.67,222.65 Q145.97,223.65 150.27,222.65 L150.57,225.00 L150.27,226.55 Q145.97,227.35 141.67,226.55 L141.37,225.00 Z" fill="rgb(5,5,5)" filter="url(#bl)"/>
<path d="M142.37,223.25 Q145.97,224.25 149.57,223.25 L149.87,225.00 L149.57,225.95 Q145.97,226.75 142.37,225.95 L142.07,225.00 Z" fill="rgb(5,5,5)"/>
<path d="M152.00,226.95 Q156.30,227.95 160.60,226.95 L160.90,228.60 L160.60,229.45 Q156.30,230.25 152.00,229.45 L151.70,228.60 Z" fill="rgb(174,174,174)" filter="url(#bl)"/>
<path d="M152.70,227.55 Q156.30,228.55 159.90,227.55 L160.20,228.60 L159.90,228.85 Q156.30,229.65 152.70,228.85 L152.40,228.60 Z" fill="rgb(174,174,174)"/>
<path d="M152.00,222.95 Q156.30,223.95 160.60,222.95 L160.90,225.00 L160.60,226.25 Q156.30,227.05 152.00,226.25 L151.70,225.00 Z" fill="rgb(11,11,11)" filter="url(#bl)"/>
<path d="M152.70,223.55 Q156.30,224.55 159.90,223.55 L160.20,225.00 L159.90,225.65 Q156.30,226.45 152.70,225.65 L152.40,225.00 Z" fill="rgb(11,11,11)"/>
<path d="M162.33,226.95 Q166.63,227.95 170.93,226.95 L171.23,228.60 L170.93,229.45 Q166.63,230.25 162.33,229.45 L162.03,228.60 Z" fill="rgb(174,174,174)" filter="url(#bl)"/>
<path d="M163.03,227.55 Q166.63,228.55 170.23,227.55 L170.53,228.60 L170.23,228.85 Q166.63,229.65 163.03,228.85 L162.73,228.60 Z" fill="rgb(174,174,174)"/>
<path d="M162.33,222.95 Q166.63,223.95 170.93,222.95 L171.23,225.00 L170.93,226.25 Q166.63,227.05 162.33,226.25 L162.03,225.00 Z" fill="rgb(11,11,11)" filter="url(#bl)"/>
<path d="M163.03,223.55 Q166.63,224.55 170.23,223.55 L170.53,225.00 L170.23,225.65 Q166.63,226.45 163.03,225.65 L162.73,225.00 Z" fill="rgb(11,11,11)"/>
<path d="M172.66,226.95 Q176.96,227.95 181.26,226.95 L181.56,228.60 L181.26,229.45 Q176.96,230.25 172.66,229.45 L172.36,228.60 Z" fill="rgb(174,174,174)" filter="url(#bl)"/>
<path d="M173.36,227.55 Q176.96,228.55 180.56,227.55 L180.86,228.60 L180.56,228.85 Q176.96,229.65 173.36,228.85 L173.06,228.60 Z" fill="rgb(174,174,174)"/>
<path d="M172.66,222.95 Q176.96,223.95 181.26,222.95 L181.56,225.00 L181.26,226.25 Q176.96,227.05 172.66,226.25 L172.36,225.00 Z" fill="rgb(11,11,11)" filter="url(#bl)"/>
<path d="M173.36,223.55 Q176.96,224.55 180.56,223.55 L180.86,225.00 L180.56,225.65 Q176.96,226.45 173.36,225.65 L173.06,225.00 Z" fill="rgb(11,11,11)"/>
<path d="M182.99,226.95 Q187.29,227.95 191.59,226.95 L191.89,228.60 L191.59,229.45 Q187.29,230.25 182.99,229.45 L182.69,228.60 Z" fill="rgb(174,174,174)" filter="url(#bl)"/>
<path d="M183.69,227.55 Q187.29,228.55 190.89,227.55 L191.19,228.60 L190.89,228.85 Q187.29,229.65 183.69,228.85 L183.39,228.60 Z" fill="rgb(174,174,174)"/>
<path d="M182.99,222.95 Q187.29,223.95 191.59,222.95 L191.89,225.00 L191.59,226.25 Q187.29,227.05 182.99,226.25 L182.69,225.00 Z" fill="rgb(11,11,11)" filter="url(#bl)"/>
<path d="M183.69,223.55 Q187.29,224.55 190.89,223.55 L191.19,225.00 L190.89,225.65 Q187.29,226.45 183.69,225.65 L183.39,225.00 Z" fill="rgb(11,11,11)"/>
<path d="M193.32,227.35 Q197.62,228.35 201.92,227.35 L202.22,229.00 L201.92,229.85 Q197.62,230.65 193.32,229.85 L193.02,229.00 Z" fill="rgb(192,192,192)" filter="url(#bl)"/>
<path d="M194.02,227.95 Q197.62,228.95 201.22,227.95 L201.52,229.00 L201.22,229.25 Q197.62,230.05 194.02,229.25 L193.72,229.00 Z" fill="rgb(192,192,192)"/>
<path d="M193.32,223.75 Q197.62,224.75 201.92,223.75 L202.22,225.40 L201.92,226.25 Q197.62,227.05 193.32,226.25 L193.02,225.40 Z" fill="rgb(99,99,99)" filter="url(#bl)"/>
<path d="M194.02,224.35 Q197.62,225.35 201.22,224.35 L201.52,225.40 L201.22,225.65 Q197.62,226.45 194.02,225.65 L193.72,225.40 Z" fill="rgb(99,99,99)"/>
<path d="M203.65,227.55 Q207.95,228.55 212.25,227.55 L212.55,229.20 L212.25,230.05 Q207.95,230.85 203.65,230.05 L203.35,229.20 Z" fill="rgb(195,195,195)" filter="url(#bl)"/>
<path d="M204.35,228.15 Q207.95,229.15 211.55,228.15 L211.85,229.20 L211.55,229.45 Q207.95,230.25 204.35,229.45 L204.05,229.20 Z" fill="rgb(195,195,195)"/>
<path d="M203.65,223.95 Q207.95,224.95 212.25,223.95 L212.55,225.60 L212.25,226.45 Q207.95,227.25 203.65,226.45 L203.35,225.60 Z" fill="rgb(114,114,114)" filter="url(#bl)"/>
<path d="M204.35,224.55 Q207.95,225.55 211.55,224.55 L211.85,225.60 L211.55,225.85 Q207.95,226.65 204.35,225.85 L204.05,225.60 Z" fill="rgb(114,114,114)"/>
<linearGradient id="g426" x1="0" y1="0" x2="0" y2="1"><stop offset="0" stop-color="#d8d8d8"/><stop offset="1" stop-color="#dadada"/></linearGradient>
<rect x="46.00" y="235.30" width="168.80" height="10.60" fill="url(#g426)"/>
<path d="M48.80,239.45 Q53.00,240.45 57.20,239.45 L57.50,241.30 L57.20,242.35 Q53.00,243.15 48.80,242.35 L48.50,241.30 Z" fill="rgb(89,89,89)" filter="url(#bl)"/>
<path d="M49.50,240.05 Q53.00,241.05 56.50,240.05 L56.80,241.30 L56.50,241.75 Q53.00,242.55 49.50,241.75 L49.20,241.30 Z" fill="rgb(89,89,89)"/>
<path d="M59.13,239.45 Q63.33,240.45 67.53,239.45 L67.83,241.30 L67.53,242.35 Q63.33,243.15 59.13,242.35 L58.83,241.30 Z" fill="rgb(89,89,89)" filter="url(#bl)"/>
<path d="M59.83,240.05 Q63.33,241.05 66.83,240.05 L67.13,241.30 L66.83,241.75 Q63.33,242.55 59.83,241.75 L59.53,241.30 Z" fill="rgb(89,89,89)"/>
<path d="M69.46,239.45 Q73.66,240.45 77.86,239.45 L78.16,241.30 L77.86,242.35 Q73.66,243.15 69.46,242.35 L69.16,241.30 Z" fill="rgb(127,127,127)" filter="url(#bl)"/>
<path d="M70.16,240.05 Q73.66,241.05 77.16,240.05 L77.46,241.30 L77.16,241.75 Q73.66,242.55 70.16,241.75 L69.86,241.30 Z" fill="rgb(127,127,127)"/>
<path d="M79.79,239.45 Q83.99,240.45 88.19,239.45 L88.49,241.30 L88.19,242.35 Q83.99,243.15 79.79,242.35 L79.49,241.30 Z" fill="rgb(135,135,135)" filter="url(#bl)"/>
<path d="M80.49,240.05 Q83.99,241.05 87.49,240.05 L87.79,241.30 L87.49,241.75 Q83.99,242.55 80.49,241.75 L80.19,241.30 Z" fill="rgb(135,135,135)"/>
<path d="M90.12,239.45 Q94.32,240.45 98.52,239.45 L98.82,241.30 L98.52,242.35 Q94.32,243.15 90.12,242.35 L89.82,241.30 Z" fill="rgb(58,58,58)" filter="url(#bl)"/>
<path d="M90.82,240.05 Q94.32,241.05 97.82,240.05 L98.12,241.30 L97.82,241.75 Q94.32,242.55 90.82,241.75 L90.52,241.30 Z" fill="rgb(58,58,58)"/>
<path d="M100.45,239.45 Q104.65,240.45 108.85,239.45 L109.15,241.30 L108.85,242.35 Q104.65,243.15 100.45,242.35 L100.15,241.30 Z" fill="rgb(58,58,58)" filter="url(#bl)"/>
<path d="M101.15,240.05 Q104.65,241.05 108.15,240.05 L108.45,241.30 L108.15,241.75 Q104.65,242.55 101.15,241.75 L100.85,241.30 Z" fill="rgb(58,58,58)"/>
<path d="M110.78,238.75 Q114.98,239.75 119.18,238.75 L119.48,240.50 L119.18,241.45 Q114.98,242.25 110.78,241.45 L110.48,240.50 Z" fill="rgb(99,99,99)" filter="url(#bl)"/>
<path d="M111.48,239.35 Q114.98,240.35 118.48,239.35 L118.78,240.50 L118.48,240.85 Q114.98,241.65 111.48,240.85 L111.18,240.50 Z" fill="rgb(99,99,99)"/>
<path d="M121.11,238.75 Q125.31,239.75 129.51,238.75 L129.81,240.50 L129.51,241.45 Q125.31,242.25 121.11,241.45 L120.81,240.50 Z" fill="rgb(110,110,110)" filter="url(#bl)"/>
<path d="M121.81,239.35 Q125.31,240.35 128.81,239.35 L129.11,240.50 L128.81,240.85 Q125.31,241.65 121.81,240.85 L121.51,240.50 Z" fill="rgb(110,110,110)"/>
<path d="M131.44,239.45 Q135.64,240.45 139.84,239.45 L140.14,241.30 L139.84,242.35 Q135.64,243.15 131.44,242.35 L131.14,241.30 Z" fill="rgb(58,58,58)" filter="url(#bl)"/>
<path d="M132.14,240.05 Q135.64,241.05 139.14,240.05 L139.44,241.30 L139.14,241.75 Q135.64,242.55 132.14,241.75 L131.84,241.30 Z" fill="rgb(58,58,58)"/>
<path d="M141.77,239.45 Q145.97,240.45 150.17,239.45 L150.47,241.30 L150.17,242.35 Q145.97,243.15 141.77,242.35 L141.47,241.30 Z" fill="rgb(58,58,58)" filter="url(#bl)"/>
<path d="M142.47,240.05 Q145.97,241.05 149.47,240.05 L149.77,241.30 L149.47,241.75 Q145.97,242.55 142.47,241.75 L142.17,241.30 Z" fill="rgb(58,58,58)"/>
<path d="M152.10,239.45 Q156.30,240.45 160.50,239.45 L160.80,241.30 L160.50,242.35 Q156.30,243.15 152.10,242.35 L151.80,241.30 Z" fill="rgb(99,99,99)" filter="url(#bl)"/>
<path d="M152.80,240.05 Q156.30,241.05 159.80,240.05 L160.10,241.30 L159.80,241.75 Q156.30,242.55 152.80,241.75 L152.50,241.30 Z" fill="rgb(99,99,99)"/>
<path d="M162.43,239.45 Q166.63,240.45 170.83,239.45 L171.13,241.30 L170.83,242.35 Q166.63,243.15 162.43,242.35 L162.13,241.30 Z" fill="rgb(127,127,127)" filter="url(#bl)"/>
<path d="M163.13,240.05 Q166.63,241.05 170.13,240.05 L170.43,241.30 L170.13,241.75 Q166.63,242.55 163.13,241.75 L162.83,241.30 Z" fill="rgb(127,127,127)"/>
<path d="M172.76,238.85 Q176.96,239.85 181.16,238.85 L181.46,241.30 L181.16,242.95 Q176.96,243.75 172.76,242.95 L172.46,241.30 Z" fill="rgb(5,5,5)" filter="url(#bl)"/>
<path d="M173.46,239.45 Q176.96,240.45 180.46,239.45 L180.76,241.30 L180.46,242.35 Q176.96,243.15 173.46,242.35 L173.16,241.30 Z" fill="rgb(5,5,5)"/>
<path d="M183.09,238.85 Q187.29,239.85 191.49,238.85 L191.79,241.30 L191.49,242.95 Q187.29,243.75 183.09,242.95 L182.79,241.30 Z" fill="rgb(5,5,5)" filter="url(#bl)"/>
<path d="M183.79,239.45 Q187.29,240.45 190.79,239.45 L191.09,241.30 L190.79,242.35 Q187.29,243.15 183.79,242.35 L183.49,241.30 Z" fill="rgb(5,5,5)"/>
<path d="M193.42,238.85 Q197.62,239.85 201.82,238.85 L202.12,241.30 L201.82,242.95 Q197.62,243.75 193.42,242.95 L193.12,241.30 Z" fill="rgb(5,5,5)" filter="url(#bl)"/>
<path d="M194.12,239.45 Q197.62,240.45 201.12,239.45 L201.42,241.30 L201.12,242.35 Q197.62,243.15 194.12,242.35 L193.82,241.30 Z" fill="rgb(5,5,5)"/>
<path d="M203.75,238.85 Q207.95,239.85 212.15,238.85 L212.45,241.30 L212.15,242.95 Q207.95,243.75 203.75,242.95 L203.45,241.30 Z" fill="rgb(5,5,5)" filter="url(#bl)"/>
<path d="M204.45,239.45 Q207.95,240.45 211.45,239.45 L211.75,241.30 L211.45,242.35 Q207.95,243.15 204.45,242.35 L204.15,241.30 Z" fill="rgb(5,5,5)"/>
<linearGradient id="g460" x1="0" y1="0" x2="0" y2="1"><stop offset="0" stop-color="#b8b8b8"/><stop offset="1" stop-color="#c6c6c6"/></linearGradient>
<rect x="46.00" y="249.10" width="168.80" height="12.20" fill="url(#g460)"/>
<path d="M48.50,255.75 Q53.00,256.75 57.50,255.75 L57.80,257.60 L57.50,258.65 Q53.00,259.45 48.50,258.65 L48.20,257.60 Z" fill="rgb(162,162,162)" filter="url(#bl)"/>
<path d="M49.20,256.35 Q53.00,257.35 56.80,256.35 L57.10,257.60 L56.80,258.05 Q53.00,258.85 49.20,258.05 L48.90,257.60 Z" fill="rgb(162,162,162)"/>
<path d="M48.50,251.25 Q53.00,252.25 57.50,251.25 L57.80,254.20 L57.50,256.35 Q53.00,257.15 48.50,256.35 L48.20,254.20 Z" fill="rgb(5,5,5)" filter="url(#bl)"/>
<path d="M49.20,251.85 Q53.00,252.85 56.80,251.85 L57.10,254.20 L56.80,255.75 Q53.00,256.55 49.20,255.75 L48.90,254.20 Z" fill="rgb(5,5,5)"/>
<path d="M58.83,255.75 Q63.33,256.75 67.83,255.75 L68.13,257.60 L67.83,258.65 Q63.33,259.45 58.83,258.65 L58.53,257.60 Z" fill="rgb(162,162,162)" filter="url(#bl)"/>
<path d="M59.53,256.35 Q63.33,257.35 67.13,256.35 L67.43,257.60 L67.13,258.05 Q63.33,258.85 59.53,258.05 L59.23,257.60 Z" fill="rgb(162,162,162)"/>
<path d="M58.83,251.25 Q63.33,252.25 67.83,251.25 L68.13,254.20 L67.83,256.35 Q63.33,257.15 58.83,256.35 L58.53,254.20 Z" fill="rgb(5,5,5)" filter="url(#bl)"/>
<path d="M59.53,251.85 Q63.33,252.85 67.13,251.85 L67.43,254.20 L67.13,255.75 Q63.33,256.55 59.53,255.75 L59.23,254.20 Z" fill="rgb(5,5,5)"/>
<path d="M69.16,255.75 Q73.66,256.75 78.16,255.75 L78.46,257.60 L78.16,258.65 Q73.66,259.45 69.16,258.65 L68.86,257.60 Z" fill="rgb(162,162,162)" filter="url(#bl)"/>
<path d="M69.86,256.35 Q73.66,257.35 77.46,256.35 L77.76,257.60 L77.46,258.05 Q73.66,258.85 69.86,258.05 L69.56,257.60 Z" fill="rgb(162,162,162)"/>
<path d="M69.16,251.25 Q73.66,252.25 78.16,251.25 L78.46,254.20 L78.16,256.35 Q73.66,257.15 69.16,256.35 L68.86,254.20 Z" fill="rgb(5,5,5)" filter="url(#bl)"/>
<path d="M69.86,251.85 Q73.66,252.85 77.46,251.85 L77.76,254.20 L77.46,255.75 Q73.66,256.55 69.86,255.75 L69.56,254.20 Z" fill="rgb(5,5,5)"/>
<path d="M79.49,255.75 Q83.99,256.75 88.49,255.75 L88.79,257.60 L88.49,258.65 Q83.99,259.45 79.49,258.65 L79.19,257.60 Z" fill="rgb(162,162,162)" filter="url(#bl)"/>
<path d="M80.19,256.35 Q83.99,257.35 87.79,256.35 L88.09,257.60 L87.79,258.05 Q83.99,258.85 80.19,258.05 L79.89,257.60 Z" fill="rgb(162,162,162)"/>
<path d="M79.49,251.25 Q83.99,252.25 88.49,251.25 L88.79,254.20 L88.49,256.35 Q83.99,257.15 79.49,256.35 L79.19,254.20 Z" fill="rgb(5,5,5)" filter="url(#bl)"/>
<path d="M80.19,251.85 Q83.99,252.85 87.79,251.85 L88.09,254.20 L87.79,255.75 Q83.99,256.55 80.19,255.75 L79.89,254.20 Z" fill="rgb(5,5,5)"/>
<path d="M89.82,255.75 Q94.32,256.75 98.82,255.75 L99.12,257.60 L98.82,258.65 Q94.32,259.45 89.82,258.65 L89.52,257.60 Z" fill="rgb(162,162,162)" filter="url(#bl)"/>
<path d="M90.52,256.35 Q94.32,257.35 98.12,256.35 L98.42,257.60 L98.12,258.05 Q94.32,258.85 90.52,258.05 L90.22,257.60 Z" fill="rgb(162,162,162)"/>
<path d="M89.82,251.25 Q94.32,252.25 98.82,251.25 L99.12,254.20 L98.82,256.35 Q94.32,257.15 89.82,256.35 L89.52,254.20 Z" fill="rgb(5,5,5)" filter="url(#bl)"/>
<path d="M90.52,251.85 Q94.32,252.85 98.12,251.85 L98.42,254.20 L98.12,255.75 Q94.32,256.55 90.52,255.75 L90.22,254.20 Z" fill="rgb(5,5,5)"/>
<path d="M100.15,255.75 Q104.65,256.75 109.15,255.75 L109.45,257.60 L109.15,258.65 Q104.65,259.45 100.15,258.65 L99.85,257.60 Z" fill="rgb(162,162,162)" filter="url(#bl)"/>
<path d="M100.85,256.35 Q104.65,257.35 108.45,256.35 L108.75,257.60 L108.45,258.05 Q104.65,258.85 100.85,258.05 L100.55,257.60 Z" fill="rgb(162,162,162)"/>
<path d="M100.15,251.25 Q104.65,252.25 109.15,251.25 L109.45,254.20 L109.15,256.35 Q104.65,257.15 100.15,256.35 L99.85,254.20 Z" fill="rgb(5,5,5)" filter="url(#bl)"/>
<path d="M100.85,251.85 Q104.65,252.85 108.45,251.85 L108.75,254.20 L108.45,255.75 Q104.65,256.55 100.85,255.75 L100.55,254.20 Z" fill="rgb(5,5,5)"/>
<path d="M110.48,255.75 Q114.98,256.75 119.48,255.75 L119.78,257.60 L119.48,258.65 Q114.98,259.45 110.48,258.65 L110.18,257.60 Z" fill="rgb(162,162,162)" filter="url(#bl)"/>
<path d="M111.18,256.35 Q114.98,257.35 118.78,256.35 L119.08,257.60 L118.78,258.05 Q114.98,258.85 111.18,258.05 L110.88,257.60 Z" fill="rgb(162,162,162)"/>
<path d="M110.48,251.25 Q114.98,252.25 119.48,251.25 L119.78,254.20 L119.48,256.35 Q114.98,257.15 110.48,256.35 L110.18,254.20 Z" fill="rgb(5,5,5)" filter="url(#bl)"/>
<path d="M111.18,251.85 Q114.98,252.85 118.78,251.85 L119.08,254.20 L118.78,255.75 Q114.98,256.55 111.18,255.75 L110.88,254.20 Z" fill="rgb(5,5,5)"/>
<path d="M120.81,255.75 Q125.31,256.75 129.81,255.75 L130.11,257.60 L129.81,258.65 Q125.31,259.45 120.81,258.65 L120.51,257.60 Z" fill="rgb(162,162,162)" filter="url(#bl)"/>
<path d="M121.51,256.35 Q125.31,257.35 129.11,256.35 L129.41,257.60 L129.11,258.05 Q125.31,258.85 121.51,258.05 L121.21,257.60 Z" fill="rgb(162,162,162)"/>
<path d="M120.81,251.25 Q125.31,252.25 129.81,251.25 L130.11,254.20 L129.81,256.35 Q125.31,257.15 120.81,256.35 L120.51,254.20 Z" fill="rgb(5,5,5)" filter="url(#bl)"/>
<path d="M121.51,251.85 Q125.31,252.85 129.11,251.85 L129.41,254.20 L129.11,255.75 Q125.31,256.55 121.51,255.75 L121.21,254.20 Z" fill="rgb(5,5,5)"/>
<path d="M131.14,255.75 Q135.64,256.75 140.14,255.75 L140.44,257.60 L140.14,258.65 Q135.64,259.45 131.14,258.65 L130.84,257.60 Z" fill="rgb(162,162,162)" filter="url(#bl)"/>
<path d="M131.84,256.35 Q135.64,257.35 139.44,256.35 L139.74,257.60 L139.44,258.05 Q135.64,258.85 131.84,258.05 L131.54,257.60 Z" fill="rgb(162,162,162)"/>
<path d="M131.14,251.25 Q135.64,252.25 140.14,251.25 L140.44,254.20 L140.14,256.35 Q135.64,257.15 131.14,256.35 L130.84,254.20 Z" fill="rgb(5,5,5)" filter="url(#bl)"/>
<path d="M131.84,251.85 Q135.64,252.85 139.44,251.85 L139.74,254.20 L139.44,255.75 Q135.64,256.55 131.84,255.75 L131.54,254.20 Z" fill="rgb(5,5,5)"/>
<path d="M141.47,255.75 Q145.97,256.75 150.47,255.75 L150.77,257.60 L150.47,258.65 Q145.97,259.45 141.47,258.65 L141.17,257.60 Z" fill="rgb(162,162,162)" filter="url(#bl)"/>
<path d="M142.17,256.35 Q145.97,257.35 149.77,256.35 L150.07,257.60 L149.77,258.05 Q145.97,258.85 142.17,258.05 L141.87,257.60 Z" fill="rgb(162,162,162)"/>
<path d="M141.47,251.25 Q145.97,252.25 150.47,251.25 L150.77,254.20 L150.47,256.35 Q145.97,257.15 141.47,256.35 L141.17,254.20 Z" fill="rgb(5,5,5)" filter="url(#bl)"/>
<path d="M142.17,251.85 Q145.97,252.85 149.77,251.85 L150.07,254.20 L149.77,255.75 Q145.97,256.55 142.17,255.75 L141.87,254.20 Z" fill="rgb(5,5,5)"/>
<path d="M151.80,255.75 Q156.30,256.75 160.80,255.75 L161.10,257.60 L160.80,258.65 Q156.30,259.45 151.80,258.65 L151.50,257.60 Z" fill="rgb(162,162,162)" filter="url(#bl)"/>
<path d="M152.50,256.35 Q156.30,257.35 160.10,256.35 L160.40,257.60 L160.10,258.05 Q156.30,258.85 152.50,258.05 L152.20,257.60 Z" fill="rgb(162,162,162)"/>
<path d="M151.80,251.25 Q156.30,252.25 160.80,251.25 L161.10,254.20 L160.80,256.35 Q156.30,257.15 151.80,256.35 L151.50,254.20 Z" fill="rgb(5,5,5)" filter="url(#bl)"/>
<path d="M152.50,251.85 Q156.30,252.85 160.10,251.85 L160.40,254.20 L160.10,255.75 Q156.30,256.55 152.50,255.75 L152.20,254.20 Z" fill="rgb(5,5,5)"/>
<path d="M162.13,255.75 Q166.63,256.75 171.13,255.75 L171.43,257.60 L171.13,258.65 Q166.63,259.45 162.13,258.65 L161.83,257.60 Z" fill="rgb(162,162,162)" filter="url(#bl)"/>
<path d="M162.83,256.35 Q166.63,257.35 170.43,256.35 L170.73,257.60 L170.43,258.05 Q166.63,258.85 162.83,258.05 L162.53,257.60 Z" fill="rgb(162,162,162)"/>
<path d="M162.13,251.25 Q166.63,252.25 171.13,251.25 L171.43,254.20 L171.13,256.35 Q166.63,257.15 162.13,256.35 L161.83,254.20 Z" fill="rgb(5,5,5)" filter="url(#bl)"/>
<path d="M162.83,251.85 Q166.63,252.85 170.43,251.85 L170.73,254.20 L170.43,255.75 Q166.63,256.55 162.83,255.75 L162.53,254.20 Z" fill="rgb(5,5,5)"/>
<path d="M172.46,256.35 Q176.96,257.35 181.46,256.35 L181.76,258.20 L181.46,259.25 Q176.96,260.05 172.46,259.25 L172.16,258.20 Z" fill="rgb(162,162,162)" filter="url(#bl)"/>
<path d="M173.16,256.95 Q176.96,257.95 180.76,256.95 L181.06,258.20 L180.76,258.65 Q176.96,259.45 173.16,258.65 L172.86,258.20 Z" fill="rgb(162,162,162)"/>
<path d="M172.46,251.65 Q176.96,252.65 181.46,251.65 L181.76,254.80 L181.46,257.15 Q176.96,257.95 172.46,257.15 L172.16,254.80 Z" fill="rgb(5,5,5)" filter="url(#bl)"/>
<path d="M173.16,252.25 Q176.96,253.25 180.76,252.25 L181.06,254.80 L180.76,256.55 Q176.96,257.35 173.16,256.55 L172.86,254.80 Z" fill="rgb(5,5,5)"/>
<path d="M182.79,256.55 Q187.29,257.55 191.79,256.55 L192.09,258.40 L191.79,259.45 Q187.29,260.25 182.79,259.45 L182.49,258.40 Z" fill="rgb(162,162,162)" filter="url(#bl)"/>
<path d="M183.49,257.15 Q187.29,258.15 191.09,257.15 L191.39,258.40 L191.09,258.85 Q187.29,259.65 183.49,258.85 L183.19,258.40 Z" fill="rgb(162,162,162)"/>
<path d="M182.79,251.85 Q187.29,252.85 191.79,251.85 L192.09,255.00 L191.79,257.35 Q187.29,258.15 182.79,257.35 L182.49,255.00 Z" fill="rgb(5,5,5)" filter="url(#bl)"/>
<path d="M183.49,252.45 Q187.29,253.45 191.09,252.45 L191.39,255.00 L191.09,256.75 Q187.29,257.55 183.49,256.75 L183.19,255.00 Z" fill="rgb(5,5,5)"/>
<path d="M193.12,256.75 Q197.62,257.75 202.12,256.75 L202.42,258.60 L202.12,259.65 Q197.62,260.45 193.12,259.65 L192.82,258.60 Z" fill="rgb(162,162,162)" filter="url(#bl)"/>
<path d="M193.82,257.35 Q197.62,258.35 201.42,257.35 L201.72,258.60 L201.42,259.05 Q197.62,259.85 193.82,259.05 L193.52,258.60 Z" fill="rgb(162,162,162)"/>
<path d="M193.12,252.05 Q197.62,253.05 202.12,252.05 L202.42,255.20 L202.12,257.55 Q197.62,258.35 193.12,257.55 L192.82,255.20 Z" fill="rgb(5,5,5)" filter="url(#bl)"/>
<path d="M193.82,252.65 Q197.62,253.65 201.42,252.65 L201.72,255.20 L201.42,256.95 Q197.62,257.75 193.82,256.95 L193.52,255.20 Z" fill="rgb(5,5,5)"/>
<path d="M203.45,256.75 Q207.95,257.75 212.45,256.75 L212.75,258.60 L212.45,259.65 Q207.95,260.45 203.45,259.65 L203.15,258.60 Z" fill="rgb(162,162,162)" filter="url(#bl)"/>
<path d="M204.15,257.35 Q207.95,258.35 211.75,257.35 L212.05,258.60 L211.75,259.05 Q207.95,259.85 204.15,259.05 L203.85,258.60 Z" fill="rgb(162,162,162)"/>
<path d="M203.45,252.05 Q207.95,253.05 212.45,252.05 L212.75,255.20 L212.45,257.55 Q207.95,258.35 203.45,257.55 L203.15,255.20 Z" fill="rgb(5,5,5)" filter="url(#bl)"/>
<path d="M204.15,252.65 Q207.95,253.65 211.75,252.65 L212.05,255.20 L211.75,256.95 Q207.95,257.75 204.15,256.95 L203.85,255.20 Z" fill="rgb(5,5,5)"/>
<linearGradient id="g526" x1="0" y1="0" x2="0" y2="1"><stop offset="0" stop-color="#c4c4c4"/><stop offset="1" stop-color="#d4d4d4"/></linearGradient>
<rect x="46.00" y="264.80" width="168.80" height="12.50" fill="url(#g526)"/>
<path d="M48.40,268.05 Q53.00,269.05 57.60,268.05 L57.90,270.60 L57.60,272.35 Q53.00,273.15 48.40,272.35 L48.10,270.60 Z" fill="rgb(5,5,5)" filter="url(#bl)"/>
<path d="M49.10,268.65 Q53.00,269.65 56.90,268.65 L57.20,270.60 L56.90,271.75 Q53.00,272.55 49.10,271.75 L48.80,270.60 Z" fill="rgb(5,5,5)"/>
<path d="M58.73,268.05 Q63.33,269.05 67.93,268.05 L68.23,270.60 L67.93,272.35 Q63.33,273.15 58.73,272.35 L58.43,270.60 Z" fill="rgb(5,5,5)" filter="url(#bl)"/>
<path d="M59.43,268.65 Q63.33,269.65 67.23,268.65 L67.53,270.60 L67.23,271.75 Q63.33,272.55 59.43,271.75 L59.13,270.60 Z" fill="rgb(5,5,5)"/>
<path d="M69.06,268.05 Q73.66,269.05 78.26,268.05 L78.56,270.60 L78.26,272.35 Q73.66,273.15 69.06,272.35 L68.76,270.60 Z" fill="rgb(5,5,5)" filter="url(#bl)"/>
<path d="M69.76,268.65 Q73.66,269.65 77.56,268.65 L77.86,270.60 L77.56,271.75 Q73.66,272.55 69.76,271.75 L69.46,270.60 Z" fill="rgb(5,5,5)"/>
<path d="M79.39,268.05 Q83.99,269.05 88.59,268.05 L88.89,270.60 L88.59,272.35 Q83.99,273.15 79.39,272.35 L79.09,270.60 Z" fill="rgb(5,5,5)" filter="url(#bl)"/>
<path d="M80.09,268.65 Q83.99,269.65 87.89,268.65 L88.19,270.60 L87.89,271.75 Q83.99,272.55 80.09,271.75 L79.79,270.60 Z" fill="rgb(5,5,5)"/>
<path d="M89.72,268.05 Q94.32,269.05 98.92,268.05 L99.22,270.60 L98.92,272.35 Q94.32,273.15 89.72,272.35 L89.42,270.60 Z" fill="rgb(5,5,5)" filter="url(#bl)"/>
<path d="M90.42,268.65 Q94.32,269.65 98.22,268.65 L98.52,270.60 L98.22,271.75 Q94.32,272.55 90.42,271.75 L90.12,270.60 Z" fill="rgb(5,5,5)"/>
<path d="M100.05,268.05 Q104.65,269.05 109.25,268.05 L109.55,270.60 L109.25,272.35 Q104.65,273.15 100.05,272.35 L99.75,270.60 Z" fill="rgb(5,5,5)" filter="url(#bl)"/>
<path d="M100.75,268.65 Q104.65,269.65 108.55,268.65 L108.85,270.60 L108.55,271.75 Q104.65,272.55 100.75,271.75 L100.45,270.60 Z" fill="rgb(5,5,5)"/>
<path d="M110.38,268.05 Q114.98,269.05 119.58,268.05 L119.88,270.60 L119.58,272.35 Q114.98,273.15 110.38,272.35 L110.08,270.60 Z" fill="rgb(5,5,5)" filter="url(#bl)"/>
<path d="M111.08,268.65 Q114.98,269.65 118.88,268.65 L119.18,270.60 L118.88,271.75 Q114.98,272.55 111.08,271.75 L110.78,270.60 Z" fill="rgb(5,5,5)"/>
<path d="M120.71,268.05 Q125.31,269.05 129.91,268.05 L130.21,270.60 L129.91,272.35 Q125.31,273.15 120.71,272.35 L120.41,270.60 Z" fill="rgb(5,5,5)" filter="url(#bl)"/>
<path d="M121.41,268.65 Q125.31,269.65 129.21,268.65 L129.51,270.60 L129.21,271.75 Q125.31,272.55 121.41,271.75 L121.11,270.60 Z" fill="rgb(5,5,5)"/>
<path d="M131.04,268.45 Q135.64,269.45 140.24,268.45 L140.54,271.00 L140.24,272.75 Q135.64,273.55 131.04,272.75 L130.74,271.00 Z" fill="rgb(5,5,5)" filter="url(#bl)"/>
<path d="M131.74,269.05 Q135.64,270.05 139.54,269.05 L139.84,271.00 L139.54,272.15 Q135.64,272.95 131.74,272.15 L131.44,271.00 Z" fill="rgb(5,5,5)"/>
<path d="M141.37,268.45 Q145.97,269.45 150.57,268.45 L150.87,271.00 L150.57,272.75 Q145.97,273.55 141.37,272.75 L141.07,271.00 Z" fill="rgb(5,5,5)" filter="url(#bl)"/>
<path d="M142.07,269.05 Q145.97,270.05 149.87,269.05 L150.17,271.00 L149.87,272.15 Q145.97,272.95 142.07,272.15 L141.77,271.00 Z" fill="rgb(5,5,5)"/>
<path d="M151.70,268.45 Q156.30,269.45 160.90,268.45 L161.20,271.00 L160.90,272.75 Q156.30,273.55 151.70,272.75 L151.40,271.00 Z" fill="rgb(5,5,5)" filter="url(#bl)"/>
<path d="M152.40,269.05 Q156.30,270.05 160.20,269.05 L160.50,271.00 L160.20,272.15 Q156.30,272.95 152.40,272.15 L152.10,271.00 Z" fill="rgb(5,5,5)"/>
<path d="M162.03,268.45 Q166.63,269.45 171.23,268.45 L171.53,271.00 L171.23,272.75 Q166.63,273.55 162.03,272.75 L161.73,271.00 Z" fill="rgb(5,5,5)" filter="url(#bl)"/>
<path d="M162.73,269.05 Q166.63,270.05 170.53,269.05 L170.83,271.00 L170.53,272.15 Q166.63,272.95 162.73,272.15 L162.43,271.00 Z" fill="rgb(5,5,5)"/>
<path d="M172.36,269.05 Q176.96,270.05 181.56,269.05 L181.86,271.60 L181.56,273.35 Q176.96,274.15 172.36,273.35 L172.06,271.60 Z" fill="rgb(5,5,5)" filter="url(#bl)"/>
<path d="M173.06,269.65 Q176.96,270.65 180.86,269.65 L181.16,271.60 L180.86,272.75 Q176.96,273.55 173.06,272.75 L172.76,271.60 Z" fill="rgb(5,5,5)"/>
<path d="M182.69,269.05 Q187.29,270.05 191.89,269.05 L192.19,271.60 L191.89,273.35 Q187.29,274.15 182.69,273.35 L182.39,271.60 Z" fill="rgb(5,5,5)" filter="url(#bl)"/>
<path d="M183.39,269.65 Q187.29,270.65 191.19,269.65 L191.49,271.60 L191.19,272.75 Q187.29,273.55 183.39,272.75 L183.09,271.60 Z" fill="rgb(5,5,5)"/>
<path d="M193.02,269.05 Q197.62,270.05 202.22,269.05 L202.52,271.60 L202.22,273.35 Q197.62,274.15 193.02,273.35 L192.72,271.60 Z" fill="rgb(5,5,5)" filter="url(#bl)"/>
<path d="M193.72,269.65 Q197.62,270.65 201.52,269.65 L201.82,271.60 L201.52,272.75 Q197.62,273.55 193.72,272.75 L193.42,271.60 Z" fill="rgb(5,5,5)"/>
<path d="M203.35,269.05 Q207.95,270.05 212.55,269.05 L212.85,271.60 L212.55,273.35 Q207.95,274.15 203.35,273.35 L203.05,271.60 Z" fill="rgb(5,5,5)" filter="url(#bl)"/>
<path d="M204.05,269.65 Q207.95,270.65 211.85,269.65 L212.15,271.60 L211.85,272.75 Q207.95,273.55 204.05,272.75 L203.75,271.60 Z" fill="rgb(5,5,5)"/>
<text x="218.80" y="213.50" font-size="7.9" textLength="20.3" lengthAdjust="spacingAndGlyphs" fill="#231f20" stroke="#231f20" stroke-width="0.2">IKZF1</text>
<text x="218.80" y="229.40" font-size="7.9" textLength="21.2" lengthAdjust="spacingAndGlyphs" fill="#231f20" stroke="#231f20" stroke-width="0.2">IKZF3</text>
<text x="218.80" y="243.80" font-size="7.9" textLength="22.5" lengthAdjust="spacingAndGlyphs" fill="#231f20" stroke="#231f20" stroke-width="0.2">ZFP91</text>
<text x="218.80" y="259.40" font-size="7.9" textLength="23.0" lengthAdjust="spacingAndGlyphs" fill="#231f20" stroke="#231f20" stroke-width="0.2">CRBN</text>
<text x="218.80" y="273.60" font-size="7.9" textLength="23.6" lengthAdjust="spacingAndGlyphs" fill="#231f20" stroke="#231f20" stroke-width="0.2">β-Actin</text>
<line x1="46.70" y1="280.60" x2="213.70" y2="280.60" stroke="#111" stroke-width="1.4"/>
<text x="130.10" y="290.80" font-size="8.2" text-anchor="middle" textLength="46.5" lengthAdjust="spacingAndGlyphs" fill="#231f20" stroke="#231f20" stroke-width="0.2">KARPAS-422</text>
<linearGradient id="g567" x1="0" y1="0" x2="0" y2="1"><stop offset="0" stop-color="#d4d4d4"/><stop offset="1" stop-color="#dadada"/></linearGradient>
<rect x="306.00" y="204.90" width="169.70" height="10.70" fill="url(#g567)"/>
<path d="M307.00,212.15 Q311.50,213.15 316.00,212.15 L316.30,213.60 L316.00,214.25 Q311.50,215.05 307.00,214.25 L306.70,213.60 Z" fill="rgb(161,161,161)" filter="url(#bl)"/>
<path d="M307.70,212.75 Q311.50,213.75 315.30,212.75 L315.60,213.60 L315.30,213.65 Q311.50,214.45 307.70,213.65 L307.40,213.60 Z" fill="rgb(161,161,161)"/>
<path d="M307.00,207.95 Q311.50,208.95 316.00,207.95 L316.30,210.60 L316.00,212.45 Q311.50,213.25 307.00,212.45 L306.70,210.60 Z" fill="rgb(36,36,36)" filter="url(#bl)"/>
<path d="M307.70,208.55 Q311.50,209.55 315.30,208.55 L315.60,210.60 L315.30,211.85 Q311.50,212.65 307.70,211.85 L307.40,210.60 Z" fill="rgb(36,36,36)"/>
<path d="M317.60,212.15 Q322.10,213.15 326.60,212.15 L326.90,213.60 L326.60,214.25 Q322.10,215.05 317.60,214.25 L317.30,213.60 Z" fill="rgb(152,152,152)" filter="url(#bl)"/>
<path d="M318.30,212.75 Q322.10,213.75 325.90,212.75 L326.20,213.60 L325.90,213.65 Q322.10,214.45 318.30,213.65 L318.00,213.60 Z" fill="rgb(152,152,152)"/>
<path d="M317.60,207.65 Q322.10,208.65 326.60,207.65 L326.90,210.60 L326.60,212.75 Q322.10,213.55 317.60,212.75 L317.30,210.60 Z" fill="rgb(5,5,5)" filter="url(#bl)"/>
<path d="M318.30,208.25 Q322.10,209.25 325.90,208.25 L326.20,210.60 L325.90,212.15 Q322.10,212.95 318.30,212.15 L318.00,210.60 Z" fill="rgb(5,5,5)"/>
<path d="M328.20,212.15 Q332.70,213.15 337.20,212.15 L337.50,213.60 L337.20,214.25 Q332.70,215.05 328.20,214.25 L327.90,213.60 Z" fill="rgb(199,199,199)" filter="url(#bl)"/>
<path d="M328.90,212.75 Q332.70,213.75 336.50,212.75 L336.80,213.60 L336.50,213.65 Q332.70,214.45 328.90,213.65 L328.60,213.60 Z" fill="rgb(199,199,199)"/>
<path d="M328.20,208.25 Q332.70,209.25 337.20,208.25 L337.50,210.60 L337.20,212.15 Q332.70,212.95 328.20,212.15 L327.90,210.60 Z" fill="rgb(162,162,162)" filter="url(#bl)"/>
<path d="M328.90,208.85 Q332.70,209.85 336.50,208.85 L336.80,210.60 L336.50,211.55 Q332.70,212.35 328.90,211.55 L328.60,210.60 Z" fill="rgb(162,162,162)"/>
<path d="M338.80,212.15 Q343.30,213.15 347.80,212.15 L348.10,213.60 L347.80,214.25 Q343.30,215.05 338.80,214.25 L338.50,213.60 Z" fill="rgb(201,201,201)" filter="url(#bl)"/>
<path d="M339.50,212.75 Q343.30,213.75 347.10,212.75 L347.40,213.60 L347.10,213.65 Q343.30,214.45 339.50,213.65 L339.20,213.60 Z" fill="rgb(201,201,201)"/>
<path d="M338.80,208.25 Q343.30,209.25 347.80,208.25 L348.10,210.60 L347.80,212.15 Q343.30,212.95 338.80,212.15 L338.50,210.60 Z" fill="rgb(169,169,169)" filter="url(#bl)"/>
<path d="M339.50,208.85 Q343.30,209.85 347.10,208.85 L347.40,210.60 L347.10,211.55 Q343.30,212.35 339.50,211.55 L339.20,210.60 Z" fill="rgb(169,169,169)"/>
<path d="M349.40,211.75 Q353.90,212.75 358.40,211.75 L358.70,213.20 L358.40,213.85 Q353.90,214.65 349.40,213.85 L349.10,213.20 Z" fill="rgb(152,152,152)" filter="url(#bl)"/>
<path d="M350.10,212.35 Q353.90,213.35 357.70,212.35 L358.00,213.20 L357.70,213.25 Q353.90,214.05 350.10,213.25 L349.80,213.20 Z" fill="rgb(152,152,152)"/>
<path d="M349.40,206.75 Q353.90,207.75 358.40,206.75 L358.70,210.20 L358.40,212.85 Q353.90,213.65 349.40,212.85 L349.10,210.20 Z" fill="rgb(5,5,5)" filter="url(#bl)"/>
<path d="M350.10,207.35 Q353.90,208.35 357.70,207.35 L358.00,210.20 L357.70,212.25 Q353.90,213.05 350.10,212.25 L349.80,210.20 Z" fill="rgb(5,5,5)"/>
<path d="M360.00,211.75 Q364.50,212.75 369.00,211.75 L369.30,213.20 L369.00,213.85 Q364.50,214.65 360.00,213.85 L359.70,213.20 Z" fill="rgb(152,152,152)" filter="url(#bl)"/>
<path d="M360.70,212.35 Q364.50,213.35 368.30,212.35 L368.60,213.20 L368.30,213.25 Q364.50,214.05 360.70,213.25 L360.40,213.20 Z" fill="rgb(152,152,152)"/>
<path d="M360.00,206.75 Q364.50,207.75 369.00,206.75 L369.30,210.20 L369.00,212.85 Q364.50,213.65 360.00,212.85 L359.70,210.20 Z" fill="rgb(5,5,5)" filter="url(#bl)"/>
<path d="M360.70,207.35 Q364.50,208.35 368.30,207.35 L368.60,210.20 L368.30,212.25 Q364.50,213.05 360.70,212.25 L360.40,210.20 Z" fill="rgb(5,5,5)"/>
<path d="M370.60,212.15 Q375.10,213.15 379.60,212.15 L379.90,213.60 L379.60,214.25 Q375.10,215.05 370.60,214.25 L370.30,213.60 Z" fill="rgb(157,157,157)" filter="url(#bl)"/>
<path d="M371.30,212.75 Q375.10,213.75 378.90,212.75 L379.20,213.60 L378.90,213.65 Q375.10,214.45 371.30,213.65 L371.00,213.60 Z" fill="rgb(157,157,157)"/>
<path d="M370.60,208.25 Q375.10,209.25 379.60,208.25 L379.90,210.60 L379.60,212.15 Q375.10,212.95 370.60,212.15 L370.30,210.60 Z" fill="rgb(22,22,22)" filter="url(#bl)"/>
<path d="M371.30,208.85 Q375.10,209.85 378.90,208.85 L379.20,210.60 L378.90,211.55 Q375.10,212.35 371.30,211.55 L371.00,210.60 Z" fill="rgb(22,22,22)"/>
<path d="M381.20,212.15 Q385.70,213.15 390.20,212.15 L390.50,213.60 L390.20,214.25 Q385.70,215.05 381.20,214.25 L380.90,213.60 Z" fill="rgb(157,157,157)" filter="url(#bl)"/>
<path d="M381.90,212.75 Q385.70,213.75 389.50,212.75 L389.80,213.60 L389.50,213.65 Q385.70,214.45 381.90,213.65 L381.60,213.60 Z" fill="rgb(157,157,157)"/>
<path d="M381.20,208.25 Q385.70,209.25 390.20,208.25 L390.50,210.60 L390.20,212.15 Q385.70,212.95 381.20,212.15 L380.90,210.60 Z" fill="rgb(22,22,22)" filter="url(#bl)"/>
<path d="M381.90,208.85 Q385.70,209.85 389.50,208.85 L389.80,210.60 L389.50,211.55 Q385.70,212.35 381.90,211.55 L381.60,210.60 Z" fill="rgb(22,22,22)"/>
<path d="M391.80,212.15 Q396.30,213.15 400.80,212.15 L401.10,213.60 L400.80,214.25 Q396.30,215.05 391.80,214.25 L391.50,213.60 Z" fill="rgb(152,152,152)" filter="url(#bl)"/>
<path d="M392.50,212.75 Q396.30,213.75 400.10,212.75 L400.40,213.60 L400.10,213.65 Q396.30,214.45 392.50,213.65 L392.20,213.60 Z" fill="rgb(152,152,152)"/>
<path d="M391.80,207.95 Q396.30,208.95 400.80,207.95 L401.10,210.60 L400.80,212.45 Q396.30,213.25 391.80,212.45 L391.50,210.60 Z" fill="rgb(5,5,5)" filter="url(#bl)"/>
<path d="M392.50,208.55 Q396.30,209.55 400.10,208.55 L400.40,210.60 L400.10,211.85 Q396.30,212.65 392.50,211.85 L392.20,210.60 Z" fill="rgb(5,5,5)"/>
<path d="M402.40,212.15 Q406.90,213.15 411.40,212.15 L411.70,213.60 L411.40,214.25 Q406.90,215.05 402.40,214.25 L402.10,213.60 Z" fill="rgb(161,161,161)" filter="url(#bl)"/>
<path d="M403.10,212.75 Q406.90,213.75 410.70,212.75 L411.00,213.60 L410.70,213.65 Q406.90,214.45 403.10,213.65 L402.80,213.60 Z" fill="rgb(161,161,161)"/>
<path d="M402.40,208.25 Q406.90,209.25 411.40,208.25 L411.70,210.60 L411.40,212.15 Q406.90,212.95 402.40,212.15 L402.10,210.60 Z" fill="rgb(36,36,36)" filter="url(#bl)"/>
<path d="M403.10,208.85 Q406.90,209.85 410.70,208.85 L411.00,210.60 L410.70,211.55 Q406.90,212.35 403.10,211.55 L402.80,210.60 Z" fill="rgb(36,36,36)"/>
<path d="M413.00,212.15 Q417.50,213.15 422.00,212.15 L422.30,213.60 L422.00,214.25 Q417.50,215.05 413.00,214.25 L412.70,213.60 Z" fill="rgb(199,199,199)" filter="url(#bl)"/>
<path d="M413.70,212.75 Q417.50,213.75 421.30,212.75 L421.60,213.60 L421.30,213.65 Q417.50,214.45 413.70,213.65 L413.40,213.60 Z" fill="rgb(199,199,199)"/>
<path d="M413.00,208.25 Q417.50,209.25 422.00,208.25 L422.30,210.60 L422.00,212.15 Q417.50,212.95 413.00,212.15 L412.70,210.60 Z" fill="rgb(162,162,162)" filter="url(#bl)"/>
<path d="M413.70,208.85 Q417.50,209.85 421.30,208.85 L421.60,210.60 L421.30,211.55 Q417.50,212.35 413.70,211.55 L413.40,210.60 Z" fill="rgb(162,162,162)"/>
<path d="M423.60,212.15 Q428.10,213.15 432.60,212.15 L432.90,213.60 L432.60,214.25 Q428.10,215.05 423.60,214.25 L423.30,213.60 Z" fill="rgb(201,201,201)" filter="url(#bl)"/>
<path d="M424.30,212.75 Q428.10,213.75 431.90,212.75 L432.20,213.60 L431.90,213.65 Q428.10,214.45 424.30,213.65 L424.00,213.60 Z" fill="rgb(201,201,201)"/>
<path d="M423.60,208.25 Q428.10,209.25 432.60,208.25 L432.90,210.60 L432.60,212.15 Q428.10,212.95 423.60,212.15 L423.30,210.60 Z" fill="rgb(169,169,169)" filter="url(#bl)"/>
<path d="M424.30,208.85 Q428.10,209.85 431.90,208.85 L432.20,210.60 L431.90,211.55 Q428.10,212.35 424.30,211.55 L424.00,210.60 Z" fill="rgb(169,169,169)"/>
<path d="M434.20,212.15 Q438.70,213.15 443.20,212.15 L443.50,213.60 L443.20,214.25 Q438.70,215.05 434.20,214.25 L433.90,213.60 Z" fill="rgb(152,152,152)" filter="url(#bl)"/>
<path d="M434.90,212.75 Q438.70,213.75 442.50,212.75 L442.80,213.60 L442.50,213.65 Q438.70,214.45 434.90,213.65 L434.60,213.60 Z" fill="rgb(152,152,152)"/>
<path d="M434.20,207.95 Q438.70,208.95 443.20,207.95 L443.50,210.60 L443.20,212.45 Q438.70,213.25 434.20,212.45 L433.90,210.60 Z" fill="rgb(5,5,5)" filter="url(#bl)"/>
<path d="M434.90,208.55 Q438.70,209.55 442.50,208.55 L442.80,210.60 L442.50,211.85 Q438.70,212.65 434.90,211.85 L434.60,210.60 Z" fill="rgb(5,5,5)"/>
<path d="M444.80,212.15 Q449.30,213.15 453.80,212.15 L454.10,213.60 L453.80,214.25 Q449.30,215.05 444.80,214.25 L444.50,213.60 Z" fill="rgb(158,158,158)" filter="url(#bl)"/>
<path d="M445.50,212.75 Q449.30,213.75 453.10,212.75 L453.40,213.60 L453.10,213.65 Q449.30,214.45 445.50,213.65 L445.20,213.60 Z" fill="rgb(158,158,158)"/>
<path d="M444.80,208.25 Q449.30,209.25 453.80,208.25 L454.10,210.60 L453.80,212.15 Q449.30,212.95 444.80,212.15 L444.50,210.60 Z" fill="rgb(26,26,26)" filter="url(#bl)"/>
<path d="M445.50,208.85 Q449.30,209.85 453.10,208.85 L453.40,210.60 L453.10,211.55 Q449.30,212.35 445.50,211.55 L445.20,210.60 Z" fill="rgb(26,26,26)"/>
<path d="M455.40,212.15 Q459.90,213.15 464.40,212.15 L464.70,213.60 L464.40,214.25 Q459.90,215.05 455.40,214.25 L455.10,213.60 Z" fill="rgb(199,199,199)" filter="url(#bl)"/>
<path d="M456.10,212.75 Q459.90,213.75 463.70,212.75 L464.00,213.60 L463.70,213.65 Q459.90,214.45 456.10,213.65 L455.80,213.60 Z" fill="rgb(199,199,199)"/>
<path d="M455.40,208.25 Q459.90,209.25 464.40,208.25 L464.70,210.60 L464.40,212.15 Q459.90,212.95 455.40,212.15 L455.10,210.60 Z" fill="rgb(162,162,162)" filter="url(#bl)"/>
<path d="M456.10,208.85 Q459.90,209.85 463.70,208.85 L464.00,210.60 L463.70,211.55 Q459.90,212.35 456.10,211.55 L455.80,210.60 Z" fill="rgb(162,162,162)"/>
<path d="M466.00,212.15 Q470.50,213.15 475.00,212.15 L475.30,213.60 L475.00,214.25 Q470.50,215.05 466.00,214.25 L465.70,213.60 Z" fill="rgb(201,201,201)" filter="url(#bl)"/>
<path d="M466.70,212.75 Q470.50,213.75 474.30,212.75 L474.60,213.60 L474.30,213.65 Q470.50,214.45 466.70,213.65 L466.40,213.60 Z" fill="rgb(201,201,201)"/>
<path d="M466.00,208.25 Q470.50,209.25 475.00,208.25 L475.30,210.60 L475.00,212.15 Q470.50,212.95 466.00,212.15 L465.70,210.60 Z" fill="rgb(169,169,169)" filter="url(#bl)"/>
<path d="M466.70,208.85 Q470.50,209.85 474.30,208.85 L474.60,210.60 L474.30,211.55 Q470.50,212.35 466.70,211.55 L466.40,210.60 Z" fill="rgb(169,169,169)"/>
<linearGradient id="g633" x1="0" y1="0" x2="0" y2="1"><stop offset="0" stop-color="#dcdcdc"/><stop offset="1" stop-color="#e0e0e0"/></linearGradient>
<rect x="306.00" y="218.50" width="169.70" height="12.30" fill="url(#g633)"/>
<path d="M307.00,228.35 Q311.50,229.35 316.00,228.35 L316.30,230.00 L316.00,230.85 Q311.50,231.65 307.00,230.85 L306.70,230.00 Z" fill="rgb(165,165,165)" filter="url(#bl)"/>
<path d="M307.70,228.95 Q311.50,229.95 315.30,228.95 L315.60,230.00 L315.30,230.25 Q311.50,231.05 307.70,230.25 L307.40,230.00 Z" fill="rgb(165,165,165)"/>
<path d="M307.00,224.25 Q311.50,225.25 316.00,224.25 L316.30,226.40 L316.00,227.75 Q311.50,228.55 307.00,227.75 L306.70,226.40 Z" fill="rgb(16,16,16)" filter="url(#bl)"/>
<path d="M307.70,224.85 Q311.50,225.85 315.30,224.85 L315.60,226.40 L315.30,227.15 Q311.50,227.95 307.70,227.15 L307.40,226.40 Z" fill="rgb(16,16,16)"/>
<path d="M317.60,227.35 Q322.10,228.35 326.60,227.35 L326.90,229.00 L326.60,229.85 Q322.10,230.65 317.60,229.85 L317.30,229.00 Z" fill="rgb(165,165,165)" filter="url(#bl)"/>
<path d="M318.30,227.95 Q322.10,228.95 325.90,227.95 L326.20,229.00 L325.90,229.25 Q322.10,230.05 318.30,229.25 L318.00,229.00 Z" fill="rgb(165,165,165)"/>
<path d="M317.60,223.25 Q322.10,224.25 326.60,223.25 L326.90,225.40 L326.60,226.75 Q322.10,227.55 317.60,226.75 L317.30,225.40 Z" fill="rgb(16,16,16)" filter="url(#bl)"/>
<path d="M318.30,223.85 Q322.10,224.85 325.90,223.85 L326.20,225.40 L325.90,226.15 Q322.10,226.95 318.30,226.15 L318.00,225.40 Z" fill="rgb(16,16,16)"/>
<path d="M328.20,226.75 Q332.70,227.75 337.20,226.75 L337.50,228.40 L337.20,229.25 Q332.70,230.05 328.20,229.25 L327.90,228.40 Z" fill="rgb(169,169,169)" filter="url(#bl)"/>
<path d="M328.90,227.35 Q332.70,228.35 336.50,227.35 L336.80,228.40 L336.50,228.65 Q332.70,229.45 328.90,228.65 L328.60,228.40 Z" fill="rgb(169,169,169)"/>
<path d="M328.20,222.65 Q332.70,223.65 337.20,222.65 L337.50,224.80 L337.20,226.15 Q332.70,226.95 328.20,226.15 L327.90,224.80 Z" fill="rgb(30,30,30)" filter="url(#bl)"/>
<path d="M328.90,223.25 Q332.70,224.25 336.50,223.25 L336.80,224.80 L336.50,225.55 Q332.70,226.35 328.90,225.55 L328.60,224.80 Z" fill="rgb(30,30,30)"/>
<path d="M338.80,226.75 Q343.30,227.75 347.80,226.75 L348.10,228.40 L347.80,229.25 Q343.30,230.05 338.80,229.25 L338.50,228.40 Z" fill="rgb(177,177,177)" filter="url(#bl)"/>
<path d="M339.50,227.35 Q343.30,228.35 347.10,227.35 L347.40,228.40 L347.10,228.65 Q343.30,229.45 339.50,228.65 L339.20,228.40 Z" fill="rgb(177,177,177)"/>
<path d="M338.80,222.65 Q343.30,223.65 347.80,222.65 L348.10,224.80 L347.80,226.15 Q343.30,226.95 338.80,226.15 L338.50,224.80 Z" fill="rgb(64,64,64)" filter="url(#bl)"/>
<path d="M339.50,223.25 Q343.30,224.25 347.10,223.25 L347.40,224.80 L347.10,225.55 Q343.30,226.35 339.50,225.55 L339.20,224.80 Z" fill="rgb(64,64,64)"/>
<path d="M349.40,226.15 Q353.90,227.15 358.40,226.15 L358.70,227.80 L358.40,228.65 Q353.90,229.45 349.40,228.65 L349.10,227.80 Z" fill="rgb(162,162,162)" filter="url(#bl)"/>
<path d="M350.10,226.75 Q353.90,227.75 357.70,226.75 L358.00,227.80 L357.70,228.05 Q353.90,228.85 350.10,228.05 L349.80,227.80 Z" fill="rgb(162,162,162)"/>
<path d="M349.40,221.85 Q353.90,222.85 358.40,221.85 L358.70,224.20 L358.40,225.75 Q353.90,226.55 349.40,225.75 L349.10,224.20 Z" fill="rgb(5,5,5)" filter="url(#bl)"/>
<path d="M350.10,222.45 Q353.90,223.45 357.70,222.45 L358.00,224.20 L357.70,225.15 Q353.90,225.95 350.10,225.15 L349.80,224.20 Z" fill="rgb(5,5,5)"/>
<path d="M360.00,226.15 Q364.50,227.15 369.00,226.15 L369.30,227.80 L369.00,228.65 Q364.50,229.45 360.00,228.65 L359.70,227.80 Z" fill="rgb(162,162,162)" filter="url(#bl)"/>
<path d="M360.70,226.75 Q364.50,227.75 368.30,226.75 L368.60,227.80 L368.30,228.05 Q364.50,228.85 360.70,228.05 L360.40,227.80 Z" fill="rgb(162,162,162)"/>
<path d="M360.00,221.85 Q364.50,222.85 369.00,221.85 L369.30,224.20 L369.00,225.75 Q364.50,226.55 360.00,225.75 L359.70,224.20 Z" fill="rgb(5,5,5)" filter="url(#bl)"/>
<path d="M360.70,222.45 Q364.50,223.45 368.30,222.45 L368.60,224.20 L368.30,225.15 Q364.50,225.95 360.70,225.15 L360.40,224.20 Z" fill="rgb(5,5,5)"/>
<path d="M370.60,226.75 Q375.10,227.75 379.60,226.75 L379.90,228.40 L379.60,229.25 Q375.10,230.05 370.60,229.25 L370.30,228.40 Z" fill="rgb(172,172,172)" filter="url(#bl)"/>
<path d="M371.30,227.35 Q375.10,228.35 378.90,227.35 L379.20,228.40 L378.90,228.65 Q375.10,229.45 371.30,228.65 L371.00,228.40 Z" fill="rgb(172,172,172)"/>
<path d="M370.60,222.65 Q375.10,223.65 379.60,222.65 L379.90,224.80 L379.60,226.15 Q375.10,226.95 370.60,226.15 L370.30,224.80 Z" fill="rgb(43,43,43)" filter="url(#bl)"/>
<path d="M371.30,223.25 Q375.10,224.25 378.90,223.25 L379.20,224.80 L378.90,225.55 Q375.10,226.35 371.30,225.55 L371.00,224.80 Z" fill="rgb(43,43,43)"/>
<path d="M381.20,226.75 Q385.70,227.75 390.20,226.75 L390.50,228.40 L390.20,229.25 Q385.70,230.05 381.20,229.25 L380.90,228.40 Z" fill="rgb(176,176,176)" filter="url(#bl)"/>
<path d="M381.90,227.35 Q385.70,228.35 389.50,227.35 L389.80,228.40 L389.50,228.65 Q385.70,229.45 381.90,228.65 L381.60,228.40 Z" fill="rgb(176,176,176)"/>
<path d="M381.20,222.65 Q385.70,223.65 390.20,222.65 L390.50,224.80 L390.20,226.15 Q385.70,226.95 381.20,226.15 L380.90,224.80 Z" fill="rgb(58,58,58)" filter="url(#bl)"/>
<path d="M381.90,223.25 Q385.70,224.25 389.50,223.25 L389.80,224.80 L389.50,225.55 Q385.70,226.35 381.90,225.55 L381.60,224.80 Z" fill="rgb(58,58,58)"/>
<path d="M391.80,226.15 Q396.30,227.15 400.80,226.15 L401.10,227.80 L400.80,228.65 Q396.30,229.45 391.80,228.65 L391.50,227.80 Z" fill="rgb(162,162,162)" filter="url(#bl)"/>
<path d="M392.50,226.75 Q396.30,227.75 400.10,226.75 L400.40,227.80 L400.10,228.05 Q396.30,228.85 392.50,228.05 L392.20,227.80 Z" fill="rgb(162,162,162)"/>
<path d="M391.80,221.85 Q396.30,222.85 400.80,221.85 L401.10,224.20 L400.80,225.75 Q396.30,226.55 391.80,225.75 L391.50,224.20 Z" fill="rgb(5,5,5)" filter="url(#bl)"/>
<path d="M392.50,222.45 Q396.30,223.45 400.10,222.45 L400.40,224.20 L400.10,225.15 Q396.30,225.95 392.50,225.15 L392.20,224.20 Z" fill="rgb(5,5,5)"/>
<path d="M402.40,226.15 Q406.90,227.15 411.40,226.15 L411.70,227.80 L411.40,228.65 Q406.90,229.45 402.40,228.65 L402.10,227.80 Z" fill="rgb(162,162,162)" filter="url(#bl)"/>
<path d="M403.10,226.75 Q406.90,227.75 410.70,226.75 L411.00,227.80 L410.70,228.05 Q406.90,228.85 403.10,228.05 L402.80,227.80 Z" fill="rgb(162,162,162)"/>
<path d="M402.40,221.85 Q406.90,222.85 411.40,221.85 L411.70,224.20 L411.40,225.75 Q406.90,226.55 402.40,225.75 L402.10,224.20 Z" fill="rgb(5,5,5)" filter="url(#bl)"/>
<path d="M403.10,222.45 Q406.90,223.45 410.70,222.45 L411.00,224.20 L410.70,225.15 Q406.90,225.95 403.10,225.15 L402.80,224.20 Z" fill="rgb(5,5,5)"/>
<path d="M413.00,226.35 Q417.50,227.35 422.00,226.35 L422.30,228.00 L422.00,228.85 Q417.50,229.65 413.00,228.85 L412.70,228.00 Z" fill="rgb(162,162,162)" filter="url(#bl)"/>
<path d="M413.70,226.95 Q417.50,227.95 421.30,226.95 L421.60,228.00 L421.30,228.25 Q417.50,229.05 413.70,228.25 L413.40,228.00 Z" fill="rgb(162,162,162)"/>
<path d="M413.00,222.15 Q417.50,223.15 422.00,222.15 L422.30,224.40 L422.00,225.85 Q417.50,226.65 413.00,225.85 L412.70,224.40 Z" fill="rgb(5,5,5)" filter="url(#bl)"/>
<path d="M413.70,222.75 Q417.50,223.75 421.30,222.75 L421.60,224.40 L421.30,225.25 Q417.50,226.05 413.70,225.25 L413.40,224.40 Z" fill="rgb(5,5,5)"/>
<path d="M423.60,226.35 Q428.10,227.35 432.60,226.35 L432.90,228.00 L432.60,228.85 Q428.10,229.65 423.60,228.85 L423.30,228.00 Z" fill="rgb(162,162,162)" filter="url(#bl)"/>
<path d="M424.30,226.95 Q428.10,227.95 431.90,226.95 L432.20,228.00 L431.90,228.25 Q428.10,229.05 424.30,228.25 L424.00,228.00 Z" fill="rgb(162,162,162)"/>
<path d="M423.60,222.15 Q428.10,223.15 432.60,222.15 L432.90,224.40 L432.60,225.85 Q428.10,226.65 423.60,225.85 L423.30,224.40 Z" fill="rgb(5,5,5)" filter="url(#bl)"/>
<path d="M424.30,222.75 Q428.10,223.75 431.90,222.75 L432.20,224.40 L431.90,225.25 Q428.10,226.05 424.30,225.25 L424.00,224.40 Z" fill="rgb(5,5,5)"/>
<path d="M434.20,226.35 Q438.70,227.35 443.20,226.35 L443.50,228.00 L443.20,228.85 Q438.70,229.65 434.20,228.85 L433.90,228.00 Z" fill="rgb(162,162,162)" filter="url(#bl)"/>
<path d="M434.90,226.95 Q438.70,227.95 442.50,226.95 L442.80,228.00 L442.50,228.25 Q438.70,229.05 434.90,228.25 L434.60,228.00 Z" fill="rgb(162,162,162)"/>
<path d="M434.20,222.15 Q438.70,223.15 443.20,222.15 L443.50,224.40 L443.20,225.85 Q438.70,226.65 434.20,225.85 L433.90,224.40 Z" fill="rgb(5,5,5)" filter="url(#bl)"/>
<path d="M434.90,222.75 Q438.70,223.75 442.50,222.75 L442.80,224.40 L442.50,225.25 Q438.70,226.05 434.90,225.25 L434.60,224.40 Z" fill="rgb(5,5,5)"/>
<path d="M444.80,226.35 Q449.30,227.35 453.80,226.35 L454.10,228.00 L453.80,228.85 Q449.30,229.65 444.80,228.85 L444.50,228.00 Z" fill="rgb(162,162,162)" filter="url(#bl)"/>
<path d="M445.50,226.95 Q449.30,227.95 453.10,226.95 L453.40,228.00 L453.10,228.25 Q449.30,229.05 445.50,228.25 L445.20,228.00 Z" fill="rgb(162,162,162)"/>
<path d="M444.80,222.15 Q449.30,223.15 453.80,222.15 L454.10,224.40 L453.80,225.85 Q449.30,226.65 444.80,225.85 L444.50,224.40 Z" fill="rgb(5,5,5)" filter="url(#bl)"/>
<path d="M445.50,222.75 Q449.30,223.75 453.10,222.75 L453.40,224.40 L453.10,225.25 Q449.30,226.05 445.50,225.25 L445.20,224.40 Z" fill="rgb(5,5,5)"/>
<path d="M455.40,226.75 Q459.90,227.75 464.40,226.75 L464.70,228.40 L464.40,229.25 Q459.90,230.05 455.40,229.25 L455.10,228.40 Z" fill="rgb(174,174,174)" filter="url(#bl)"/>
<path d="M456.10,227.35 Q459.90,228.35 463.70,227.35 L464.00,228.40 L463.70,228.65 Q459.90,229.45 456.10,228.65 L455.80,228.40 Z" fill="rgb(174,174,174)"/>
<path d="M455.40,222.65 Q459.90,223.65 464.40,222.65 L464.70,224.80 L464.40,226.15 Q459.90,226.95 455.40,226.15 L455.10,224.80 Z" fill="rgb(51,51,51)" filter="url(#bl)"/>
<path d="M456.10,223.25 Q459.90,224.25 463.70,223.25 L464.00,224.80 L463.70,225.55 Q459.90,226.35 456.10,225.55 L455.80,224.80 Z" fill="rgb(51,51,51)"/>
<path d="M466.00,226.75 Q470.50,227.75 475.00,226.75 L475.30,228.40 L475.00,229.25 Q470.50,230.05 466.00,229.25 L465.70,228.40 Z" fill="rgb(176,176,176)" filter="url(#bl)"/>
<path d="M466.70,227.35 Q470.50,228.35 474.30,227.35 L474.60,228.40 L474.30,228.65 Q470.50,229.45 466.70,228.65 L466.40,228.40 Z" fill="rgb(176,176,176)"/>
<path d="M466.00,222.65 Q470.50,223.65 475.00,222.65 L475.30,224.80 L475.00,226.15 Q470.50,226.95 466.00,226.15 L465.70,224.80 Z" fill="rgb(58,58,58)" filter="url(#bl)"/>
<path d="M466.70,223.25 Q470.50,224.25 474.30,223.25 L474.60,224.80 L474.30,225.55 Q470.50,226.35 466.70,225.55 L466.40,224.80 Z" fill="rgb(58,58,58)"/>
<linearGradient id="g699" x1="0" y1="0" x2="0" y2="1"><stop offset="0" stop-color="#d8d8d8"/><stop offset="1" stop-color="#dcdcdc"/></linearGradient>
<rect x="306.00" y="234.20" width="169.70" height="11.70" fill="url(#g699)"/>
<path d="M307.10,236.45 Q311.50,237.45 315.90,236.45 L316.20,238.20 L315.90,239.15 Q311.50,239.95 307.10,239.15 L306.80,238.20 Z" fill="rgb(85,85,85)" filter="url(#bl)"/>
<path d="M307.80,237.05 Q311.50,238.05 315.20,237.05 L315.50,238.20 L315.20,238.55 Q311.50,239.35 307.80,238.55 L307.50,238.20 Z" fill="rgb(85,85,85)"/>
<path d="M317.70,236.45 Q322.10,237.45 326.50,236.45 L326.80,238.20 L326.50,239.15 Q322.10,239.95 317.70,239.15 L317.40,238.20 Z" fill="rgb(85,85,85)" filter="url(#bl)"/>
<path d="M318.40,237.05 Q322.10,238.05 325.80,237.05 L326.10,238.20 L325.80,238.55 Q322.10,239.35 318.40,238.55 L318.10,238.20 Z" fill="rgb(85,85,85)"/>
<path d="M328.30,236.45 Q332.70,237.45 337.10,236.45 L337.40,238.20 L337.10,239.15 Q332.70,239.95 328.30,239.15 L328.00,238.20 Z" fill="rgb(110,110,110)" filter="url(#bl)"/>
<path d="M329.00,237.05 Q332.70,238.05 336.40,237.05 L336.70,238.20 L336.40,238.55 Q332.70,239.35 329.00,238.55 L328.70,238.20 Z" fill="rgb(110,110,110)"/>
<path d="M338.90,236.45 Q343.30,237.45 347.70,236.45 L348.00,238.20 L347.70,239.15 Q343.30,239.95 338.90,239.15 L338.60,238.20 Z" fill="rgb(110,110,110)" filter="url(#bl)"/>
<path d="M339.60,237.05 Q343.30,238.05 347.00,237.05 L347.30,238.20 L347.00,238.55 Q343.30,239.35 339.60,238.55 L339.30,238.20 Z" fill="rgb(110,110,110)"/>
<path d="M349.50,236.45 Q353.90,237.45 358.30,236.45 L358.60,238.20 L358.30,239.15 Q353.90,239.95 349.50,239.15 L349.20,238.20 Z" fill="rgb(64,64,64)" filter="url(#bl)"/>
<path d="M350.20,237.05 Q353.90,238.05 357.60,237.05 L357.90,238.20 L357.60,238.55 Q353.90,239.35 350.20,238.55 L349.90,238.20 Z" fill="rgb(64,64,64)"/>
<path d="M360.10,236.45 Q364.50,237.45 368.90,236.45 L369.20,238.20 L368.90,239.15 Q364.50,239.95 360.10,239.15 L359.80,238.20 Z" fill="rgb(78,78,78)" filter="url(#bl)"/>
<path d="M360.80,237.05 Q364.50,238.05 368.20,237.05 L368.50,238.20 L368.20,238.55 Q364.50,239.35 360.80,238.55 L360.50,238.20 Z" fill="rgb(78,78,78)"/>
<path d="M370.70,236.45 Q375.10,237.45 379.50,236.45 L379.80,238.20 L379.50,239.15 Q375.10,239.95 370.70,239.15 L370.40,238.20 Z" fill="rgb(106,106,106)" filter="url(#bl)"/>
<path d="M371.40,237.05 Q375.10,238.05 378.80,237.05 L379.10,238.20 L378.80,238.55 Q375.10,239.35 371.40,238.55 L371.10,238.20 Z" fill="rgb(106,106,106)"/>
<path d="M381.30,236.45 Q385.70,237.45 390.10,236.45 L390.40,238.20 L390.10,239.15 Q385.70,239.95 381.30,239.15 L381.00,238.20 Z" fill="rgb(106,106,106)" filter="url(#bl)"/>
<path d="M382.00,237.05 Q385.70,238.05 389.40,237.05 L389.70,238.20 L389.40,238.55 Q385.70,239.35 382.00,238.55 L381.70,238.20 Z" fill="rgb(106,106,106)"/>
<path d="M391.90,236.25 Q396.30,237.25 400.70,236.25 L401.00,238.20 L400.70,239.35 Q396.30,240.15 391.90,239.35 L391.60,238.20 Z" fill="rgb(26,26,26)" filter="url(#bl)"/>
<path d="M392.60,236.85 Q396.30,237.85 400.00,236.85 L400.30,238.20 L400.00,238.75 Q396.30,239.55 392.60,238.75 L392.30,238.20 Z" fill="rgb(26,26,26)"/>
<path d="M402.50,236.45 Q406.90,237.45 411.30,236.45 L411.60,238.20 L411.30,239.15 Q406.90,239.95 402.50,239.15 L402.20,238.20 Z" fill="rgb(58,58,58)" filter="url(#bl)"/>
<path d="M403.20,237.05 Q406.90,238.05 410.60,237.05 L410.90,238.20 L410.60,238.55 Q406.90,239.35 403.20,238.55 L402.90,238.20 Z" fill="rgb(58,58,58)"/>
<path d="M413.10,236.45 Q417.50,237.45 421.90,236.45 L422.20,238.20 L421.90,239.15 Q417.50,239.95 413.10,239.15 L412.80,238.20 Z" fill="rgb(99,99,99)" filter="url(#bl)"/>
<path d="M413.80,237.05 Q417.50,238.05 421.20,237.05 L421.50,238.20 L421.20,238.55 Q417.50,239.35 413.80,238.55 L413.50,238.20 Z" fill="rgb(99,99,99)"/>
<path d="M423.70,236.45 Q428.10,237.45 432.50,236.45 L432.80,238.20 L432.50,239.15 Q428.10,239.95 423.70,239.15 L423.40,238.20 Z" fill="rgb(120,120,120)" filter="url(#bl)"/>
<path d="M424.40,237.05 Q428.10,238.05 431.80,237.05 L432.10,238.20 L431.80,238.55 Q428.10,239.35 424.40,238.55 L424.10,238.20 Z" fill="rgb(120,120,120)"/>
<path d="M434.30,237.75 Q438.70,238.75 443.10,237.75 L443.40,240.40 L443.10,242.25 Q438.70,243.05 434.30,242.25 L434.00,240.40 Z" fill="rgb(5,5,5)" filter="url(#bl)"/>
<path d="M435.00,238.35 Q438.70,239.35 442.40,238.35 L442.70,240.40 L442.40,241.65 Q438.70,242.45 435.00,241.65 L434.70,240.40 Z" fill="rgb(5,5,5)"/>
<path d="M444.90,237.75 Q449.30,238.75 453.70,237.75 L454.00,240.40 L453.70,242.25 Q449.30,243.05 444.90,242.25 L444.60,240.40 Z" fill="rgb(5,5,5)" filter="url(#bl)"/>
<path d="M445.60,238.35 Q449.30,239.35 453.00,238.35 L453.30,240.40 L453.00,241.65 Q449.30,242.45 445.60,241.65 L445.30,240.40 Z" fill="rgb(5,5,5)"/>
<path d="M455.50,238.15 Q459.90,239.15 464.30,238.15 L464.60,240.80 L464.30,242.65 Q459.90,243.45 455.50,242.65 L455.20,240.80 Z" fill="rgb(5,5,5)" filter="url(#bl)"/>
<path d="M456.20,238.75 Q459.90,239.75 463.60,238.75 L463.90,240.80 L463.60,242.05 Q459.90,242.85 456.20,242.05 L455.90,240.80 Z" fill="rgb(5,5,5)"/>
<path d="M466.10,238.15 Q470.50,239.15 474.90,238.15 L475.20,240.80 L474.90,242.65 Q470.50,243.45 466.10,242.65 L465.80,240.80 Z" fill="rgb(5,5,5)" filter="url(#bl)"/>
<path d="M466.80,238.75 Q470.50,239.75 474.20,238.75 L474.50,240.80 L474.20,242.05 Q470.50,242.85 466.80,242.05 L466.50,240.80 Z" fill="rgb(5,5,5)"/>
<linearGradient id="g733" x1="0" y1="0" x2="0" y2="1"><stop offset="0" stop-color="#c2c2c2"/><stop offset="1" stop-color="#cccccc"/></linearGradient>
<rect x="306.00" y="248.60" width="169.70" height="12.40" fill="url(#g733)"/>
<path d="M307.00,251.05 Q311.50,252.05 316.00,251.05 L316.30,253.60 L316.00,255.35 Q311.50,256.15 307.00,255.35 L306.70,253.60 Z" fill="rgb(5,5,5)" filter="url(#bl)"/>
<path d="M307.70,251.65 Q311.50,252.65 315.30,251.65 L315.60,253.60 L315.30,254.75 Q311.50,255.55 307.70,254.75 L307.40,253.60 Z" fill="rgb(5,5,5)"/>
<path d="M317.60,251.05 Q322.10,252.05 326.60,251.05 L326.90,253.60 L326.60,255.35 Q322.10,256.15 317.60,255.35 L317.30,253.60 Z" fill="rgb(5,5,5)" filter="url(#bl)"/>
<path d="M318.30,251.65 Q322.10,252.65 325.90,251.65 L326.20,253.60 L325.90,254.75 Q322.10,255.55 318.30,254.75 L318.00,253.60 Z" fill="rgb(5,5,5)"/>
<path d="M328.20,251.05 Q332.70,252.05 337.20,251.05 L337.50,253.60 L337.20,255.35 Q332.70,256.15 328.20,255.35 L327.90,253.60 Z" fill="rgb(5,5,5)" filter="url(#bl)"/>
<path d="M328.90,251.65 Q332.70,252.65 336.50,251.65 L336.80,253.60 L336.50,254.75 Q332.70,255.55 328.90,254.75 L328.60,253.60 Z" fill="rgb(5,5,5)"/>
<path d="M338.80,251.05 Q343.30,252.05 347.80,251.05 L348.10,253.60 L347.80,255.35 Q343.30,256.15 338.80,255.35 L338.50,253.60 Z" fill="rgb(5,5,5)" filter="url(#bl)"/>
<path d="M339.50,251.65 Q343.30,252.65 347.10,251.65 L347.40,253.60 L347.10,254.75 Q343.30,255.55 339.50,254.75 L339.20,253.60 Z" fill="rgb(5,5,5)"/>
<path d="M349.40,251.05 Q353.90,252.05 358.40,251.05 L358.70,253.60 L358.40,255.35 Q353.90,256.15 349.40,255.35 L349.10,253.60 Z" fill="rgb(5,5,5)" filter="url(#bl)"/>
<path d="M350.10,251.65 Q353.90,252.65 357.70,251.65 L358.00,253.60 L357.70,254.75 Q353.90,255.55 350.10,254.75 L349.80,253.60 Z" fill="rgb(5,5,5)"/>
<path d="M360.00,251.05 Q364.50,252.05 369.00,251.05 L369.30,253.60 L369.00,255.35 Q364.50,256.15 360.00,255.35 L359.70,253.60 Z" fill="rgb(5,5,5)" filter="url(#bl)"/>
<path d="M360.70,251.65 Q364.50,252.65 368.30,251.65 L368.60,253.60 L368.30,254.75 Q364.50,255.55 360.70,254.75 L360.40,253.60 Z" fill="rgb(5,5,5)"/>
<path d="M370.60,251.05 Q375.10,252.05 379.60,251.05 L379.90,253.60 L379.60,255.35 Q375.10,256.15 370.60,255.35 L370.30,253.60 Z" fill="rgb(5,5,5)" filter="url(#bl)"/>
<path d="M371.30,251.65 Q375.10,252.65 378.90,251.65 L379.20,253.60 L378.90,254.75 Q375.10,255.55 371.30,254.75 L371.00,253.60 Z" fill="rgb(5,5,5)"/>
<path d="M381.20,251.05 Q385.70,252.05 390.20,251.05 L390.50,253.60 L390.20,255.35 Q385.70,256.15 381.20,255.35 L380.90,253.60 Z" fill="rgb(5,5,5)" filter="url(#bl)"/>
<path d="M381.90,251.65 Q385.70,252.65 389.50,251.65 L389.80,253.60 L389.50,254.75 Q385.70,255.55 381.90,254.75 L381.60,253.60 Z" fill="rgb(5,5,5)"/>
<path d="M391.80,251.05 Q396.30,252.05 400.80,251.05 L401.10,253.60 L400.80,255.35 Q396.30,256.15 391.80,255.35 L391.50,253.60 Z" fill="rgb(5,5,5)" filter="url(#bl)"/>
<path d="M392.50,251.65 Q396.30,252.65 400.10,251.65 L400.40,253.60 L400.10,254.75 Q396.30,255.55 392.50,254.75 L392.20,253.60 Z" fill="rgb(5,5,5)"/>
<path d="M402.40,251.05 Q406.90,252.05 411.40,251.05 L411.70,253.60 L411.40,255.35 Q406.90,256.15 402.40,255.35 L402.10,253.60 Z" fill="rgb(5,5,5)" filter="url(#bl)"/>
<path d="M403.10,251.65 Q406.90,252.65 410.70,251.65 L411.00,253.60 L410.70,254.75 Q406.90,255.55 403.10,254.75 L402.80,253.60 Z" fill="rgb(5,5,5)"/>
<path d="M413.00,251.05 Q417.50,252.05 422.00,251.05 L422.30,253.60 L422.00,255.35 Q417.50,256.15 413.00,255.35 L412.70,253.60 Z" fill="rgb(5,5,5)" filter="url(#bl)"/>
<path d="M413.70,251.65 Q417.50,252.65 421.30,251.65 L421.60,253.60 L421.30,254.75 Q417.50,255.55 413.70,254.75 L413.40,253.60 Z" fill="rgb(5,5,5)"/>
<path d="M423.60,251.05 Q428.10,252.05 432.60,251.05 L432.90,253.60 L432.60,255.35 Q428.10,256.15 423.60,255.35 L423.30,253.60 Z" fill="rgb(5,5,5)" filter="url(#bl)"/>
<path d="M424.30,251.65 Q428.10,252.65 431.90,251.65 L432.20,253.60 L431.90,254.75 Q428.10,255.55 424.30,254.75 L424.00,253.60 Z" fill="rgb(5,5,5)"/>
<path d="M434.20,251.35 Q438.70,252.35 443.20,251.35 L443.50,254.20 L443.20,256.25 Q438.70,257.05 434.20,256.25 L433.90,254.20 Z" fill="rgb(5,5,5)" filter="url(#bl)"/>
<path d="M434.90,251.95 Q438.70,252.95 442.50,251.95 L442.80,254.20 L442.50,255.65 Q438.70,256.45 434.90,255.65 L434.60,254.20 Z" fill="rgb(5,5,5)"/>
<path d="M444.80,251.55 Q449.30,252.55 453.80,251.55 L454.10,254.50 L453.80,256.65 Q449.30,257.45 444.80,256.65 L444.50,254.50 Z" fill="rgb(5,5,5)" filter="url(#bl)"/>
<path d="M445.50,252.15 Q449.30,253.15 453.10,252.15 L453.40,254.50 L453.10,256.05 Q449.30,256.85 445.50,256.05 L445.20,254.50 Z" fill="rgb(5,5,5)"/>
<path d="M455.40,251.75 Q459.90,252.75 464.40,251.75 L464.70,254.80 L464.40,257.05 Q459.90,257.85 455.40,257.05 L455.10,254.80 Z" fill="rgb(5,5,5)" filter="url(#bl)"/>
<path d="M456.10,252.35 Q459.90,253.35 463.70,252.35 L464.00,254.80 L463.70,256.45 Q459.90,257.25 456.10,256.45 L455.80,254.80 Z" fill="rgb(5,5,5)"/>
<path d="M466.00,251.85 Q470.50,252.85 475.00,251.85 L475.30,255.00 L475.00,257.35 Q470.50,258.15 466.00,257.35 L465.70,255.00 Z" fill="rgb(5,5,5)" filter="url(#bl)"/>
<path d="M466.70,252.45 Q470.50,253.45 474.30,252.45 L474.60,255.00 L474.30,256.75 Q470.50,257.55 466.70,256.75 L466.40,255.00 Z" fill="rgb(5,5,5)"/>
<linearGradient id="g767" x1="0" y1="0" x2="0" y2="1"><stop offset="0" stop-color="#c8c8c8"/><stop offset="1" stop-color="#d2d2d2"/></linearGradient>
<rect x="306.00" y="264.30" width="169.70" height="13.10" fill="url(#g767)"/>
<path d="M306.60,268.05 Q311.50,269.05 316.40,268.05 L316.70,271.20 L316.40,273.55 Q311.50,274.35 306.60,273.55 L306.30,271.20 Z" fill="rgb(5,5,5)" filter="url(#bl)"/>
<path d="M307.30,268.65 Q311.50,269.65 315.70,268.65 L316.00,271.20 L315.70,272.95 Q311.50,273.75 307.30,272.95 L307.00,271.20 Z" fill="rgb(5,5,5)"/>
<path d="M317.20,268.05 Q322.10,269.05 327.00,268.05 L327.30,271.20 L327.00,273.55 Q322.10,274.35 317.20,273.55 L316.90,271.20 Z" fill="rgb(5,5,5)" filter="url(#bl)"/>
<path d="M317.90,268.65 Q322.10,269.65 326.30,268.65 L326.60,271.20 L326.30,272.95 Q322.10,273.75 317.90,272.95 L317.60,271.20 Z" fill="rgb(5,5,5)"/>
<path d="M327.80,268.05 Q332.70,269.05 337.60,268.05 L337.90,271.20 L337.60,273.55 Q332.70,274.35 327.80,273.55 L327.50,271.20 Z" fill="rgb(5,5,5)" filter="url(#bl)"/>
<path d="M328.50,268.65 Q332.70,269.65 336.90,268.65 L337.20,271.20 L336.90,272.95 Q332.70,273.75 328.50,272.95 L328.20,271.20 Z" fill="rgb(5,5,5)"/>
<path d="M338.40,268.05 Q343.30,269.05 348.20,268.05 L348.50,271.20 L348.20,273.55 Q343.30,274.35 338.40,273.55 L338.10,271.20 Z" fill="rgb(5,5,5)" filter="url(#bl)"/>
<path d="M339.10,268.65 Q343.30,269.65 347.50,268.65 L347.80,271.20 L347.50,272.95 Q343.30,273.75 339.10,272.95 L338.80,271.20 Z" fill="rgb(5,5,5)"/>
<path d="M349.00,268.05 Q353.90,269.05 358.80,268.05 L359.10,271.20 L358.80,273.55 Q353.90,274.35 349.00,273.55 L348.70,271.20 Z" fill="rgb(5,5,5)" filter="url(#bl)"/>
<path d="M349.70,268.65 Q353.90,269.65 358.10,268.65 L358.40,271.20 L358.10,272.95 Q353.90,273.75 349.70,272.95 L349.40,271.20 Z" fill="rgb(5,5,5)"/>
<path d="M359.60,268.05 Q364.50,269.05 369.40,268.05 L369.70,271.20 L369.40,273.55 Q364.50,274.35 359.60,273.55 L359.30,271.20 Z" fill="rgb(5,5,5)" filter="url(#bl)"/>
<path d="M360.30,268.65 Q364.50,269.65 368.70,268.65 L369.00,271.20 L368.70,272.95 Q364.50,273.75 360.30,272.95 L360.00,271.20 Z" fill="rgb(5,5,5)"/>
<path d="M370.20,268.05 Q375.10,269.05 380.00,268.05 L380.30,271.20 L380.00,273.55 Q375.10,274.35 370.20,273.55 L369.90,271.20 Z" fill="rgb(5,5,5)" filter="url(#bl)"/>
<path d="M370.90,268.65 Q375.10,269.65 379.30,268.65 L379.60,271.20 L379.30,272.95 Q375.10,273.75 370.90,272.95 L370.60,271.20 Z" fill="rgb(5,5,5)"/>
<path d="M380.80,268.05 Q385.70,269.05 390.60,268.05 L390.90,271.20 L390.60,273.55 Q385.70,274.35 380.80,273.55 L380.50,271.20 Z" fill="rgb(5,5,5)" filter="url(#bl)"/>
<path d="M381.50,268.65 Q385.70,269.65 389.90,268.65 L390.20,271.20 L389.90,272.95 Q385.70,273.75 381.50,272.95 L381.20,271.20 Z" fill="rgb(5,5,5)"/>
<path d="M391.40,268.05 Q396.30,269.05 401.20,268.05 L401.50,271.20 L401.20,273.55 Q396.30,274.35 391.40,273.55 L391.10,271.20 Z" fill="rgb(5,5,5)" filter="url(#bl)"/>
<path d="M392.10,268.65 Q396.30,269.65 400.50,268.65 L400.80,271.20 L400.50,272.95 Q396.30,273.75 392.10,272.95 L391.80,271.20 Z" fill="rgb(5,5,5)"/>
<path d="M402.00,268.05 Q406.90,269.05 411.80,268.05 L412.10,271.20 L411.80,273.55 Q406.90,274.35 402.00,273.55 L401.70,271.20 Z" fill="rgb(5,5,5)" filter="url(#bl)"/>
<path d="M402.70,268.65 Q406.90,269.65 411.10,268.65 L411.40,271.20 L411.10,272.95 Q406.90,273.75 402.70,272.95 L402.40,271.20 Z" fill="rgb(5,5,5)"/>
<path d="M412.60,268.45 Q417.50,269.45 422.40,268.45 L422.70,271.60 L422.40,273.95 Q417.50,274.75 412.60,273.95 L412.30,271.60 Z" fill="rgb(5,5,5)" filter="url(#bl)"/>
<path d="M413.30,269.05 Q417.50,270.05 421.70,269.05 L422.00,271.60 L421.70,273.35 Q417.50,274.15 413.30,273.35 L413.00,271.60 Z" fill="rgb(5,5,5)"/>
<path d="M423.20,268.65 Q428.10,269.65 433.00,268.65 L433.30,271.80 L433.00,274.15 Q428.10,274.95 423.20,274.15 L422.90,271.80 Z" fill="rgb(5,5,5)" filter="url(#bl)"/>
<path d="M423.90,269.25 Q428.10,270.25 432.30,269.25 L432.60,271.80 L432.30,273.55 Q428.10,274.35 423.90,273.55 L423.60,271.80 Z" fill="rgb(5,5,5)"/>
<path d="M433.80,268.85 Q438.70,269.85 443.60,268.85 L443.90,272.00 L443.60,274.35 Q438.70,275.15 433.80,274.35 L433.50,272.00 Z" fill="rgb(5,5,5)" filter="url(#bl)"/>
<path d="M434.50,269.45 Q438.70,270.45 442.90,269.45 L443.20,272.00 L442.90,273.75 Q438.70,274.55 434.50,273.75 L434.20,272.00 Z" fill="rgb(5,5,5)"/>
<path d="M444.40,269.15 Q449.30,270.15 454.20,269.15 L454.50,272.40 L454.20,274.85 Q449.30,275.65 444.40,274.85 L444.10,272.40 Z" fill="rgb(5,5,5)" filter="url(#bl)"/>
<path d="M445.10,269.75 Q449.30,270.75 453.50,269.75 L453.80,272.40 L453.50,274.25 Q449.30,275.05 445.10,274.25 L444.80,272.40 Z" fill="rgb(5,5,5)"/>
<path d="M455.00,269.55 Q459.90,270.55 464.80,269.55 L465.10,272.80 L464.80,275.25 Q459.90,276.05 455.00,275.25 L454.70,272.80 Z" fill="rgb(5,5,5)" filter="url(#bl)"/>
<path d="M455.70,270.15 Q459.90,271.15 464.10,270.15 L464.40,272.80 L464.10,274.65 Q459.90,275.45 455.70,274.65 L455.40,272.80 Z" fill="rgb(5,5,5)"/>
<path d="M465.60,270.15 Q470.50,271.15 475.40,270.15 L475.70,273.40 L475.40,275.85 Q470.50,276.65 465.60,275.85 L465.30,273.40 Z" fill="rgb(5,5,5)" filter="url(#bl)"/>
<path d="M466.30,270.75 Q470.50,271.75 474.70,270.75 L475.00,273.40 L474.70,275.25 Q470.50,276.05 466.30,275.25 L466.00,273.40 Z" fill="rgb(5,5,5)"/>
<text x="479.30" y="212.80" font-size="7.9" textLength="20.3" lengthAdjust="spacingAndGlyphs" fill="#231f20" stroke="#231f20" stroke-width="0.2">IKZF1</text>
<text x="479.30" y="226.60" font-size="7.9" textLength="21.2" lengthAdjust="spacingAndGlyphs" fill="#231f20" stroke="#231f20" stroke-width="0.2">IKZF3</text>
<text x="479.30" y="242.80" font-size="7.9" textLength="22.5" lengthAdjust="spacingAndGlyphs" fill="#231f20" stroke="#231f20" stroke-width="0.2">ZFP91</text>
<text x="479.30" y="257.80" font-size="7.9" textLength="23.0" lengthAdjust="spacingAndGlyphs" fill="#231f20" stroke="#231f20" stroke-width="0.2">CRBN</text>
<text x="479.30" y="275.60" font-size="7.9" textLength="23.6" lengthAdjust="spacingAndGlyphs" fill="#231f20" stroke="#231f20" stroke-width="0.2">β-Actin</text>
<line x1="306.00" y1="280.50" x2="475.00" y2="280.50" stroke="#111" stroke-width="1.4"/>
<text x="390.60" y="290.80" font-size="8.2" text-anchor="middle" textLength="35.9" lengthAdjust="spacingAndGlyphs" fill="#231f20" stroke="#231f20" stroke-width="0.2">SU-DHL-4</text>
<line x1="59.60" y1="327.00" x2="59.60" y2="403.80" stroke="#231f20" stroke-width="1.4"/>
<line x1="57.00" y1="403.10" x2="59.60" y2="403.10" stroke="#231f20" stroke-width="1.1"/>
<text x="53.90" y="405.80" font-size="7.4" text-anchor="end" fill="#231f20" stroke="#231f20" stroke-width="0.2">0.0</text>
<line x1="57.00" y1="378.65" x2="59.60" y2="378.65" stroke="#231f20" stroke-width="1.1"/>
<text x="53.90" y="381.35" font-size="7.4" text-anchor="end" fill="#231f20" stroke="#231f20" stroke-width="0.2">0.5</text>
<line x1="57.00" y1="354.20" x2="59.60" y2="354.20" stroke="#231f20" stroke-width="1.1"/>
<text x="53.90" y="356.90" font-size="7.4" text-anchor="end" fill="#231f20" stroke="#231f20" stroke-width="0.2">1.0</text>
<line x1="57.00" y1="329.75" x2="59.60" y2="329.75" stroke="#231f20" stroke-width="1.1"/>
<text x="53.90" y="332.45" font-size="7.4" text-anchor="end" fill="#231f20" stroke="#231f20" stroke-width="0.2">1.5</text>
<line x1="58.90" y1="403.10" x2="146.40" y2="403.10" stroke="#231f20" stroke-width="1.5"/>
<line x1="59.60" y1="403.10" x2="59.60" y2="406.30" stroke="#231f20" stroke-width="1.1"/>
<text x="59.60" y="416.40" font-size="7.6" text-anchor="middle" fill="#231f20" stroke="#231f20" stroke-width="0.2">0</text>
<line x1="76.48" y1="403.10" x2="76.48" y2="406.30" stroke="#231f20" stroke-width="1.1"/>
<text x="76.48" y="416.40" font-size="7.6" text-anchor="middle" fill="#231f20" stroke="#231f20" stroke-width="0.2">3</text>
<line x1="93.36" y1="403.10" x2="93.36" y2="406.30" stroke="#231f20" stroke-width="1.1"/>
<text x="93.36" y="416.40" font-size="7.6" text-anchor="middle" fill="#231f20" stroke="#231f20" stroke-width="0.2">6</text>
<line x1="110.24" y1="403.10" x2="110.24" y2="406.30" stroke="#231f20" stroke-width="1.1"/>
<text x="110.24" y="416.40" font-size="7.6" text-anchor="middle" fill="#231f20" stroke="#231f20" stroke-width="0.2">9</text>
<line x1="127.12" y1="403.10" x2="127.12" y2="406.30" stroke="#231f20" stroke-width="1.1"/>
<text x="127.12" y="416.40" font-size="7.6" text-anchor="middle" fill="#231f20" stroke="#231f20" stroke-width="0.2">12</text>
<line x1="144.00" y1="403.10" x2="144.00" y2="406.30" stroke="#231f20" stroke-width="1.1"/>
<text x="144.00" y="416.40" font-size="7.6" text-anchor="middle" fill="#231f20" stroke="#231f20" stroke-width="0.2">15</text>
<text x="98.20" y="428.6" font-size="8.8" textLength="10.6" lengthAdjust="spacingAndGlyphs" fill="#2a2a2a" stroke="#2a2a2a" stroke-width="0.45">Day</text>
<text x="75.40" y="321.50" font-size="9.8" textLength="55.8" lengthAdjust="spacingAndGlyphs" fill="#231f20" stroke="#231f20" stroke-width="0.2">KARPAS-422</text>
<polyline points="59.60,354.20 76.48,377.67 93.36,388.43 110.24,392.83 127.12,394.79 144.00,395.77" fill="none" stroke="#c2183c" stroke-width="1.5" stroke-linejoin="round"/>
<polyline points="59.60,354.20 76.48,372.78 93.36,385.50 110.24,390.39 127.12,393.32 144.00,393.81" fill="none" stroke="#e8a393" stroke-width="1.5" stroke-linejoin="round"/>
<polyline points="59.60,354.20 76.48,356.65 93.36,366.91 110.24,372.78 127.12,377.67 144.00,381.10" fill="none" stroke="#2d6a4c" stroke-width="1.3" stroke-linejoin="round"/>
<polyline points="59.60,354.20 76.48,355.18 93.36,363.49 110.24,372.29 127.12,377.67 144.00,382.07" fill="none" stroke="#5cb035" stroke-width="1.3" stroke-linejoin="round"/>
<polyline points="59.60,354.20 76.48,358.60 93.36,367.89 110.24,370.83 127.12,373.76 144.00,375.72" fill="none" stroke="#45186a" stroke-width="1.3" stroke-linejoin="round"/>
<polyline points="59.60,354.20 76.48,362.51 93.36,368.38 110.24,373.27 127.12,377.18 144.00,377.67" fill="none" stroke="#55aaea" stroke-width="1.3" stroke-linejoin="round"/>
<polyline points="59.60,354.20 76.48,354.20 93.36,354.20 110.24,354.20 127.12,354.20 144.00,354.20" fill="none" stroke="#8b80d4" stroke-width="1.3" stroke-linejoin="round"/>
<path d="M57.40,354.20 L59.60,352.00 L61.80,354.20 L59.60,356.40Z" fill="#c2183c"/>
<path d="M74.28,377.67 L76.48,375.47 L78.68,377.67 L76.48,379.87Z" fill="#c2183c"/>
<path d="M91.16,388.43 L93.36,386.23 L95.56,388.43 L93.36,390.63Z" fill="#c2183c"/>
<path d="M108.04,392.83 L110.24,390.63 L112.44,392.83 L110.24,395.03Z" fill="#c2183c"/>
<line x1="127.12" y1="393.79" x2="127.12" y2="395.79" stroke="#c2183c" stroke-width="0.8"/>
<line x1="125.82" y1="393.79" x2="128.42" y2="393.79" stroke="#c2183c" stroke-width="0.8"/>
<line x1="125.82" y1="395.79" x2="128.42" y2="395.79" stroke="#c2183c" stroke-width="0.8"/>
<path d="M124.92,394.79 L127.12,392.59 L129.32,394.79 L127.12,396.99Z" fill="#c2183c"/>
<line x1="144.00" y1="394.77" x2="144.00" y2="396.77" stroke="#c2183c" stroke-width="0.8"/>
<line x1="142.70" y1="394.77" x2="145.31" y2="394.77" stroke="#c2183c" stroke-width="0.8"/>
<line x1="142.70" y1="396.77" x2="145.31" y2="396.77" stroke="#c2183c" stroke-width="0.8"/>
<path d="M141.81,395.77 L144.00,393.57 L146.20,395.77 L144.00,397.97Z" fill="#c2183c"/>
<path d="M57.50,354.20 L59.60,352.10 L61.70,354.20 L59.60,356.30Z" fill="#f3cfc6" stroke="#e8a393" stroke-width="0.9"/>
<path d="M74.38,372.78 L76.48,370.68 L78.58,372.78 L76.48,374.88Z" fill="#f3cfc6" stroke="#e8a393" stroke-width="0.9"/>
<line x1="93.36" y1="384.50" x2="93.36" y2="386.50" stroke="#e8a393" stroke-width="0.8"/>
<line x1="92.06" y1="384.50" x2="94.66" y2="384.50" stroke="#e8a393" stroke-width="0.8"/>
<line x1="92.06" y1="386.50" x2="94.66" y2="386.50" stroke="#e8a393" stroke-width="0.8"/>
<path d="M91.26,385.50 L93.36,383.40 L95.46,385.50 L93.36,387.60Z" fill="#f3cfc6" stroke="#e8a393" stroke-width="0.9"/>
<line x1="110.24" y1="389.19" x2="110.24" y2="391.59" stroke="#e8a393" stroke-width="0.8"/>
<line x1="108.94" y1="389.19" x2="111.54" y2="389.19" stroke="#e8a393" stroke-width="0.8"/>
<line x1="108.94" y1="391.59" x2="111.54" y2="391.59" stroke="#e8a393" stroke-width="0.8"/>
<path d="M108.14,390.39 L110.24,388.29 L112.34,390.39 L110.24,392.49Z" fill="#f3cfc6" stroke="#e8a393" stroke-width="0.9"/>
<line x1="127.12" y1="391.82" x2="127.12" y2="394.82" stroke="#e8a393" stroke-width="0.8"/>
<line x1="125.82" y1="391.82" x2="128.42" y2="391.82" stroke="#e8a393" stroke-width="0.8"/>
<line x1="125.82" y1="394.82" x2="128.42" y2="394.82" stroke="#e8a393" stroke-width="0.8"/>
<path d="M125.02,393.32 L127.12,391.22 L129.22,393.32 L127.12,395.42Z" fill="#f3cfc6" stroke="#e8a393" stroke-width="0.9"/>
<line x1="144.00" y1="392.31" x2="144.00" y2="395.31" stroke="#e8a393" stroke-width="0.8"/>
<line x1="142.70" y1="392.31" x2="145.31" y2="392.31" stroke="#e8a393" stroke-width="0.8"/>
<line x1="142.70" y1="395.31" x2="145.31" y2="395.31" stroke="#e8a393" stroke-width="0.8"/>
<path d="M141.91,393.81 L144.00,391.71 L146.10,393.81 L144.00,395.91Z" fill="#f3cfc6" stroke="#e8a393" stroke-width="0.9"/>
<path d="M58.10,355.20 L61.10,355.20 L59.60,352.70Z" fill="#2d6a4c"/>
<path d="M74.98,357.65 L77.98,357.65 L76.48,355.15Z" fill="#2d6a4c"/>
<path d="M91.86,367.91 L94.86,367.91 L93.36,365.41Z" fill="#2d6a4c"/>
<path d="M108.74,373.78 L111.74,373.78 L110.24,371.28Z" fill="#2d6a4c"/>
<path d="M125.62,378.67 L128.62,378.67 L127.12,376.17Z" fill="#2d6a4c"/>
<path d="M142.50,382.10 L145.50,382.10 L144.00,379.60Z" fill="#2d6a4c"/>
<path d="M57.70,355.40 L61.50,355.40 L59.60,352.30Z" fill="#5cb035"/>
<path d="M74.58,356.38 L78.38,356.38 L76.48,353.28Z" fill="#5cb035"/>
<line x1="93.36" y1="361.99" x2="93.36" y2="364.99" stroke="#5cb035" stroke-width="0.8"/>
<line x1="92.06" y1="361.99" x2="94.66" y2="361.99" stroke="#5cb035" stroke-width="0.8"/>
<line x1="92.06" y1="364.99" x2="94.66" y2="364.99" stroke="#5cb035" stroke-width="0.8"/>
<path d="M91.46,364.69 L95.26,364.69 L93.36,361.59Z" fill="#5cb035"/>
<path d="M108.34,373.49 L112.14,373.49 L110.24,370.39Z" fill="#5cb035"/>
<path d="M125.22,378.87 L129.02,378.87 L127.12,375.77Z" fill="#5cb035"/>
<line x1="144.00" y1="380.57" x2="144.00" y2="383.57" stroke="#5cb035" stroke-width="0.8"/>
<line x1="142.70" y1="380.57" x2="145.31" y2="380.57" stroke="#5cb035" stroke-width="0.8"/>
<line x1="142.70" y1="383.57" x2="145.31" y2="383.57" stroke="#5cb035" stroke-width="0.8"/>
<path d="M142.10,383.27 L145.91,383.27 L144.00,380.17Z" fill="#5cb035"/>
<path d="M57.70,353.10 L61.50,353.10 L59.60,356.10Z" fill="#45186a"/>
<path d="M74.58,357.50 L78.38,357.50 L76.48,360.50Z" fill="#45186a"/>
<path d="M91.46,366.79 L95.26,366.79 L93.36,369.79Z" fill="#45186a"/>
<line x1="110.24" y1="368.33" x2="110.24" y2="373.33" stroke="#45186a" stroke-width="0.8"/>
<line x1="108.94" y1="368.33" x2="111.54" y2="368.33" stroke="#45186a" stroke-width="0.8"/>
<line x1="108.94" y1="373.33" x2="111.54" y2="373.33" stroke="#45186a" stroke-width="0.8"/>
<path d="M108.34,369.73 L112.14,369.73 L110.24,372.73Z" fill="#45186a"/>
<line x1="127.12" y1="371.56" x2="127.12" y2="375.96" stroke="#45186a" stroke-width="0.8"/>
<line x1="125.82" y1="371.56" x2="128.42" y2="371.56" stroke="#45186a" stroke-width="0.8"/>
<line x1="125.82" y1="375.96" x2="128.42" y2="375.96" stroke="#45186a" stroke-width="0.8"/>
<path d="M125.22,372.66 L129.02,372.66 L127.12,375.66Z" fill="#45186a"/>
<line x1="144.00" y1="373.52" x2="144.00" y2="377.92" stroke="#45186a" stroke-width="0.8"/>
<line x1="142.70" y1="373.52" x2="145.31" y2="373.52" stroke="#45186a" stroke-width="0.8"/>
<line x1="142.70" y1="377.92" x2="145.31" y2="377.92" stroke="#45186a" stroke-width="0.8"/>
<path d="M142.10,374.62 L145.91,374.62 L144.00,377.62Z" fill="#45186a"/>
<circle cx="59.60" cy="354.20" r="1.75" fill="#55aaea"/>
<line x1="76.48" y1="359.01" x2="76.48" y2="366.01" stroke="#55aaea" stroke-width="0.8"/>
<line x1="75.18" y1="359.01" x2="77.78" y2="359.01" stroke="#55aaea" stroke-width="0.8"/>
<line x1="75.18" y1="366.01" x2="77.78" y2="366.01" stroke="#55aaea" stroke-width="0.8"/>
<circle cx="76.48" cy="362.51" r="1.75" fill="#55aaea"/>
<line x1="93.36" y1="363.38" x2="93.36" y2="373.38" stroke="#55aaea" stroke-width="0.8"/>
<line x1="92.06" y1="363.38" x2="94.66" y2="363.38" stroke="#55aaea" stroke-width="0.8"/>
<line x1="92.06" y1="373.38" x2="94.66" y2="373.38" stroke="#55aaea" stroke-width="0.8"/>
<circle cx="93.36" cy="368.38" r="1.75" fill="#55aaea"/>
<line x1="110.24" y1="369.77" x2="110.24" y2="376.77" stroke="#55aaea" stroke-width="0.8"/>
<line x1="108.94" y1="369.77" x2="111.54" y2="369.77" stroke="#55aaea" stroke-width="0.8"/>
<line x1="108.94" y1="376.77" x2="111.54" y2="376.77" stroke="#55aaea" stroke-width="0.8"/>
<circle cx="110.24" cy="373.27" r="1.75" fill="#55aaea"/>
<line x1="127.12" y1="374.18" x2="127.12" y2="380.18" stroke="#55aaea" stroke-width="0.8"/>
<line x1="125.82" y1="374.18" x2="128.42" y2="374.18" stroke="#55aaea" stroke-width="0.8"/>
<line x1="125.82" y1="380.18" x2="128.42" y2="380.18" stroke="#55aaea" stroke-width="0.8"/>
<circle cx="127.12" cy="377.18" r="1.75" fill="#55aaea"/>
<line x1="144.00" y1="375.17" x2="144.00" y2="380.17" stroke="#55aaea" stroke-width="0.8"/>
<line x1="142.70" y1="375.17" x2="145.31" y2="375.17" stroke="#55aaea" stroke-width="0.8"/>
<line x1="142.70" y1="380.17" x2="145.31" y2="380.17" stroke="#55aaea" stroke-width="0.8"/>
<circle cx="144.00" cy="377.67" r="1.75" fill="#55aaea"/>
<path d="M57.90,354.20 L59.60,352.50 L61.30,354.20 L59.60,355.90Z" fill="#8b80d4"/>
<path d="M74.78,354.20 L76.48,352.50 L78.18,354.20 L76.48,355.90Z" fill="#8b80d4"/>
<path d="M91.66,354.20 L93.36,352.50 L95.06,354.20 L93.36,355.90Z" fill="#8b80d4"/>
<path d="M108.54,354.20 L110.24,352.50 L111.94,354.20 L110.24,355.90Z" fill="#8b80d4"/>
<path d="M125.42,354.20 L127.12,352.50 L128.82,354.20 L127.12,355.90Z" fill="#8b80d4"/>
<path d="M142.31,354.20 L144.00,352.50 L145.70,354.20 L144.00,355.90Z" fill="#8b80d4"/>
<line x1="149.80" y1="329.90" x2="157.00" y2="329.90" stroke="#8b80d4" stroke-width="1.3"/>
<path d="M151.70,329.90 L153.40,328.20 L155.10,329.90 L153.40,331.60Z" fill="#8b80d4"/>
<text x="160.00" y="332.50" font-size="7.4" textLength="72.4" lengthAdjust="spacingAndGlyphs" fill="#231f20" stroke="#231f20" stroke-width="0.2">sgNT-1 + sgNT-2_RFP</text>
<line x1="149.80" y1="341.60" x2="157.00" y2="341.60" stroke="#55aaea" stroke-width="1.3"/>
<circle cx="153.40" cy="341.60" r="1.75" fill="#55aaea"/>
<text x="160.00" y="344.20" font-size="7.4" textLength="84.0" lengthAdjust="spacingAndGlyphs" fill="#231f20" stroke="#231f20" stroke-width="0.2">sgIKZF1-1 + sgNT-1_RFP</text>
<line x1="149.80" y1="353.30" x2="157.00" y2="353.30" stroke="#45186a" stroke-width="1.3"/>
<path d="M151.50,352.20 L155.30,352.20 L153.40,355.20Z" fill="#45186a"/>
<text x="160.00" y="355.90" font-size="7.4" textLength="84.0" lengthAdjust="spacingAndGlyphs" fill="#231f20" stroke="#231f20" stroke-width="0.2">sgIKZF1-1 + sgNT-2_RFP</text>
<line x1="149.80" y1="364.70" x2="157.00" y2="364.70" stroke="#5cb035" stroke-width="1.3"/>
<path d="M151.50,365.90 L155.30,365.90 L153.40,362.80Z" fill="#5cb035"/>
<text x="160.00" y="367.30" font-size="7.4" textLength="84.0" lengthAdjust="spacingAndGlyphs" fill="#231f20" stroke="#231f20" stroke-width="0.2">sgIKZF3-1 + sgNT-1_RFP</text>
<line x1="149.80" y1="376.00" x2="157.00" y2="376.00" stroke="#2d6a4c" stroke-width="1.3"/>
<path d="M151.90,377.00 L154.90,377.00 L153.40,374.50Z" fill="#2d6a4c"/>
<text x="160.00" y="378.60" font-size="7.4" textLength="84.0" lengthAdjust="spacingAndGlyphs" fill="#231f20" stroke="#231f20" stroke-width="0.2">sgIKZF3-1 + sgNT-2_RFP</text>
<line x1="149.80" y1="386.90" x2="157.00" y2="386.90" stroke="#e8a393" stroke-width="1.3"/>
<path d="M151.30,386.90 L153.40,384.80 L155.50,386.90 L153.40,389.00Z" fill="#f3cfc6" stroke="#e8a393" stroke-width="0.9"/>
<text x="160.00" y="389.50" font-size="7.4" textLength="95.8" lengthAdjust="spacingAndGlyphs" fill="#231f20" stroke="#231f20" stroke-width="0.2">sgIKZF1-1 + sgIKZF3-1_RFP</text>
<line x1="149.80" y1="398.20" x2="157.00" y2="398.20" stroke="#c2183c" stroke-width="1.3"/>
<path d="M151.20,398.20 L153.40,396.00 L155.60,398.20 L153.40,400.40Z" fill="#c2183c"/>
<text x="160.00" y="400.80" font-size="7.4" textLength="95.8" lengthAdjust="spacingAndGlyphs" fill="#231f20" stroke="#231f20" stroke-width="0.2">sgIKZF1-2 + sgIKZF3-2_RFP</text>
<text transform="translate(37.40,365.0) rotate(-90)" font-size="9.2" text-anchor="middle" textLength="52" lengthAdjust="spacingAndGlyphs" fill="#2a2a2a" stroke="#2a2a2a" stroke-width="0.45">RFP<tspan font-size="6" dy="-3">+</tspan><tspan dy="3">/GFP</tspan><tspan font-size="6" dy="-3">+</tspan><tspan dy="3"> (AU)</tspan></text>
<line x1="318.40" y1="327.00" x2="318.40" y2="403.80" stroke="#231f20" stroke-width="1.4"/>
<line x1="315.80" y1="403.10" x2="318.40" y2="403.10" stroke="#231f20" stroke-width="1.1"/>
<text x="312.70" y="405.80" font-size="7.4" text-anchor="end" fill="#231f20" stroke="#231f20" stroke-width="0.2">0.0</text>
<line x1="315.80" y1="378.65" x2="318.40" y2="378.65" stroke="#231f20" stroke-width="1.1"/>
<text x="312.70" y="381.35" font-size="7.4" text-anchor="end" fill="#231f20" stroke="#231f20" stroke-width="0.2">0.5</text>
<line x1="315.80" y1="354.20" x2="318.40" y2="354.20" stroke="#231f20" stroke-width="1.1"/>
<text x="312.70" y="356.90" font-size="7.4" text-anchor="end" fill="#231f20" stroke="#231f20" stroke-width="0.2">1.0</text>
<line x1="315.80" y1="329.75" x2="318.40" y2="329.75" stroke="#231f20" stroke-width="1.1"/>
<text x="312.70" y="332.45" font-size="7.4" text-anchor="end" fill="#231f20" stroke="#231f20" stroke-width="0.2">1.5</text>
<line x1="317.70" y1="403.10" x2="404.60" y2="403.10" stroke="#231f20" stroke-width="1.5"/>
<line x1="318.40" y1="403.10" x2="318.40" y2="406.30" stroke="#231f20" stroke-width="1.1"/>
<text x="318.40" y="416.40" font-size="7.6" text-anchor="middle" fill="#231f20" stroke="#231f20" stroke-width="0.2">0</text>
<line x1="335.10" y1="403.10" x2="335.10" y2="406.30" stroke="#231f20" stroke-width="1.1"/>
<text x="335.10" y="416.40" font-size="7.6" text-anchor="middle" fill="#231f20" stroke="#231f20" stroke-width="0.2">3</text>
<line x1="351.80" y1="403.10" x2="351.80" y2="406.30" stroke="#231f20" stroke-width="1.1"/>
<text x="351.80" y="416.40" font-size="7.6" text-anchor="middle" fill="#231f20" stroke="#231f20" stroke-width="0.2">6</text>
<line x1="368.50" y1="403.10" x2="368.50" y2="406.30" stroke="#231f20" stroke-width="1.1"/>
<text x="368.50" y="416.40" font-size="7.6" text-anchor="middle" fill="#231f20" stroke="#231f20" stroke-width="0.2">9</text>
<line x1="385.20" y1="403.10" x2="385.20" y2="406.30" stroke="#231f20" stroke-width="1.1"/>
<text x="385.20" y="416.40" font-size="7.6" text-anchor="middle" fill="#231f20" stroke="#231f20" stroke-width="0.2">12</text>
<line x1="401.90" y1="403.10" x2="401.90" y2="406.30" stroke="#231f20" stroke-width="1.1"/>
<text x="401.90" y="416.40" font-size="7.6" text-anchor="middle" fill="#231f20" stroke="#231f20" stroke-width="0.2">15</text>
<text x="356.00" y="428.6" font-size="8.8" textLength="11.3" lengthAdjust="spacingAndGlyphs" fill="#2a2a2a" stroke="#2a2a2a" stroke-width="0.45">Day</text>
<text x="340.50" y="321.50" font-size="9.8" textLength="42.6" lengthAdjust="spacingAndGlyphs" fill="#231f20" stroke="#231f20" stroke-width="0.2">SU-DHL-4</text>
<polyline points="318.40,354.20 335.10,380.61 351.80,389.41 368.50,392.10 385.20,393.32 401.90,393.81" fill="none" stroke="#c2183c" stroke-width="1.5" stroke-linejoin="round"/>
<polyline points="318.40,354.20 335.10,373.27 351.80,380.12 368.50,381.58 385.20,381.58 401.90,381.10" fill="none" stroke="#e8a393" stroke-width="1.5" stroke-linejoin="round"/>
<polyline points="318.40,354.20 335.10,354.69 351.80,360.07 368.50,359.58 385.20,358.11 401.90,356.65" fill="none" stroke="#2d6a4c" stroke-width="1.3" stroke-linejoin="round"/>
<polyline points="318.40,354.20 335.10,357.62 351.80,359.58 368.50,359.09 385.20,357.62 401.90,356.16" fill="none" stroke="#5cb035" stroke-width="1.3" stroke-linejoin="round"/>
<polyline points="318.40,354.20 335.10,364.96 351.80,367.40 368.50,366.91 385.20,365.94 401.90,364.96" fill="none" stroke="#45186a" stroke-width="1.3" stroke-linejoin="round"/>
<polyline points="318.40,354.20 335.10,364.47 351.80,366.91 368.50,366.43 385.20,365.45 401.90,363.49" fill="none" stroke="#55aaea" stroke-width="1.3" stroke-linejoin="round"/>
<polyline points="318.40,354.20 335.10,354.20 351.80,354.20 368.50,354.20 385.20,354.20 401.90,354.20" fill="none" stroke="#8b80d4" stroke-width="1.3" stroke-linejoin="round"/>
<rect x="316.70" y="352.50" width="3.4" height="3.4" fill="#f4d6dc" stroke="#c2183c" stroke-width="1"/>
<rect x="333.40" y="378.91" width="3.4" height="3.4" fill="#f4d6dc" stroke="#c2183c" stroke-width="1"/>
<rect x="350.10" y="387.71" width="3.4" height="3.4" fill="#f4d6dc" stroke="#c2183c" stroke-width="1"/>
<rect x="366.80" y="390.40" width="3.4" height="3.4" fill="#f4d6dc" stroke="#c2183c" stroke-width="1"/>
<rect x="383.50" y="391.62" width="3.4" height="3.4" fill="#f4d6dc" stroke="#c2183c" stroke-width="1"/>
<rect x="400.20" y="392.11" width="3.4" height="3.4" fill="#f4d6dc" stroke="#c2183c" stroke-width="1"/>
<path d="M316.30,354.20 L318.40,352.10 L320.50,354.20 L318.40,356.30Z" fill="#f3cfc6" stroke="#e8a393" stroke-width="0.9"/>
<path d="M333.00,373.27 L335.10,371.17 L337.20,373.27 L335.10,375.37Z" fill="#f3cfc6" stroke="#e8a393" stroke-width="0.9"/>
<line x1="351.80" y1="376.12" x2="351.80" y2="384.12" stroke="#e8a393" stroke-width="0.8"/>
<line x1="350.50" y1="376.12" x2="353.10" y2="376.12" stroke="#e8a393" stroke-width="0.8"/>
<line x1="350.50" y1="384.12" x2="353.10" y2="384.12" stroke="#e8a393" stroke-width="0.8"/>
<path d="M349.70,380.12 L351.80,378.02 L353.90,380.12 L351.80,382.22Z" fill="#f3cfc6" stroke="#e8a393" stroke-width="0.9"/>
<line x1="368.50" y1="377.08" x2="368.50" y2="386.08" stroke="#e8a393" stroke-width="0.8"/>
<line x1="367.20" y1="377.08" x2="369.80" y2="377.08" stroke="#e8a393" stroke-width="0.8"/>
<line x1="367.20" y1="386.08" x2="369.80" y2="386.08" stroke="#e8a393" stroke-width="0.8"/>
<path d="M366.40,381.58 L368.50,379.48 L370.60,381.58 L368.50,383.68Z" fill="#f3cfc6" stroke="#e8a393" stroke-width="0.9"/>
<line x1="385.20" y1="377.08" x2="385.20" y2="386.08" stroke="#e8a393" stroke-width="0.8"/>
<line x1="383.90" y1="377.08" x2="386.50" y2="377.08" stroke="#e8a393" stroke-width="0.8"/>
<line x1="383.90" y1="386.08" x2="386.50" y2="386.08" stroke="#e8a393" stroke-width="0.8"/>
<path d="M383.10,381.58 L385.20,379.48 L387.30,381.58 L385.20,383.68Z" fill="#f3cfc6" stroke="#e8a393" stroke-width="0.9"/>
<line x1="401.90" y1="376.10" x2="401.90" y2="386.10" stroke="#e8a393" stroke-width="0.8"/>
<line x1="400.60" y1="376.10" x2="403.20" y2="376.10" stroke="#e8a393" stroke-width="0.8"/>
<line x1="400.60" y1="386.10" x2="403.20" y2="386.10" stroke="#e8a393" stroke-width="0.8"/>
<path d="M399.80,381.10 L401.90,379.00 L404.00,381.10 L401.90,383.20Z" fill="#f3cfc6" stroke="#e8a393" stroke-width="0.9"/>
<path d="M316.90,355.20 L319.90,355.20 L318.40,352.70Z" fill="#2d6a4c"/>
<path d="M333.60,355.69 L336.60,355.69 L335.10,353.19Z" fill="#2d6a4c"/>
<path d="M350.30,361.07 L353.30,361.07 L351.80,358.57Z" fill="#2d6a4c"/>
<path d="M367.00,360.58 L370.00,360.58 L368.50,358.08Z" fill="#2d6a4c"/>
<path d="M383.70,359.11 L386.70,359.11 L385.20,356.61Z" fill="#2d6a4c"/>
<path d="M400.40,357.65 L403.40,357.65 L401.90,355.15Z" fill="#2d6a4c"/>
<path d="M316.50,355.40 L320.30,355.40 L318.40,352.30Z" fill="#5cb035"/>
<path d="M333.20,358.82 L337.00,358.82 L335.10,355.72Z" fill="#5cb035"/>
<line x1="351.80" y1="356.58" x2="351.80" y2="362.58" stroke="#5cb035" stroke-width="0.8"/>
<line x1="350.50" y1="356.58" x2="353.10" y2="356.58" stroke="#5cb035" stroke-width="0.8"/>
<line x1="350.50" y1="362.58" x2="353.10" y2="362.58" stroke="#5cb035" stroke-width="0.8"/>
<path d="M349.90,360.78 L353.70,360.78 L351.80,357.68Z" fill="#5cb035"/>
<line x1="368.50" y1="356.39" x2="368.50" y2="361.79" stroke="#5cb035" stroke-width="0.8"/>
<line x1="367.20" y1="356.39" x2="369.80" y2="356.39" stroke="#5cb035" stroke-width="0.8"/>
<line x1="367.20" y1="361.79" x2="369.80" y2="361.79" stroke="#5cb035" stroke-width="0.8"/>
<path d="M366.60,360.29 L370.40,360.29 L368.50,357.19Z" fill="#5cb035"/>
<line x1="385.20" y1="352.62" x2="385.20" y2="362.62" stroke="#5cb035" stroke-width="0.8"/>
<line x1="383.90" y1="352.62" x2="386.50" y2="352.62" stroke="#5cb035" stroke-width="0.8"/>
<line x1="383.90" y1="362.62" x2="386.50" y2="362.62" stroke="#5cb035" stroke-width="0.8"/>
<path d="M383.30,358.82 L387.10,358.82 L385.20,355.72Z" fill="#5cb035"/>
<line x1="401.90" y1="351.16" x2="401.90" y2="361.16" stroke="#5cb035" stroke-width="0.8"/>
<line x1="400.60" y1="351.16" x2="403.20" y2="351.16" stroke="#5cb035" stroke-width="0.8"/>
<line x1="400.60" y1="361.16" x2="403.20" y2="361.16" stroke="#5cb035" stroke-width="0.8"/>
<path d="M400.00,357.36 L403.80,357.36 L401.90,354.26Z" fill="#5cb035"/>
<path d="M316.50,353.10 L320.30,353.10 L318.40,356.10Z" fill="#45186a"/>
<path d="M333.20,363.86 L337.00,363.86 L335.10,366.86Z" fill="#45186a"/>
<path d="M349.90,366.30 L353.70,366.30 L351.80,369.30Z" fill="#45186a"/>
<path d="M366.60,365.81 L370.40,365.81 L368.50,368.81Z" fill="#45186a"/>
<path d="M383.30,364.84 L387.10,364.84 L385.20,367.84Z" fill="#45186a"/>
<path d="M400.00,363.86 L403.80,363.86 L401.90,366.86Z" fill="#45186a"/>
<circle cx="318.40" cy="354.20" r="1.75" fill="#55aaea"/>
<circle cx="335.10" cy="364.47" r="1.75" fill="#55aaea"/>
<circle cx="351.80" cy="366.91" r="1.75" fill="#55aaea"/>
<circle cx="368.50" cy="366.43" r="1.75" fill="#55aaea"/>
<line x1="385.20" y1="363.45" x2="385.20" y2="367.45" stroke="#55aaea" stroke-width="0.8"/>
<line x1="383.90" y1="363.45" x2="386.50" y2="363.45" stroke="#55aaea" stroke-width="0.8"/>
<line x1="383.90" y1="367.45" x2="386.50" y2="367.45" stroke="#55aaea" stroke-width="0.8"/>
<circle cx="385.20" cy="365.45" r="1.75" fill="#55aaea"/>
<line x1="401.90" y1="360.49" x2="401.90" y2="366.49" stroke="#55aaea" stroke-width="0.8"/>
<line x1="400.60" y1="360.49" x2="403.20" y2="360.49" stroke="#55aaea" stroke-width="0.8"/>
<line x1="400.60" y1="366.49" x2="403.20" y2="366.49" stroke="#55aaea" stroke-width="0.8"/>
<circle cx="401.90" cy="363.49" r="1.75" fill="#55aaea"/>
<path d="M316.70,354.20 L318.40,352.50 L320.10,354.20 L318.40,355.90Z" fill="#8b80d4"/>
<path d="M333.40,354.20 L335.10,352.50 L336.80,354.20 L335.10,355.90Z" fill="#8b80d4"/>
<path d="M350.10,354.20 L351.80,352.50 L353.50,354.20 L351.80,355.90Z" fill="#8b80d4"/>
<path d="M366.80,354.20 L368.50,352.50 L370.20,354.20 L368.50,355.90Z" fill="#8b80d4"/>
<path d="M383.50,354.20 L385.20,352.50 L386.90,354.20 L385.20,355.90Z" fill="#8b80d4"/>
<path d="M400.20,354.20 L401.90,352.50 L403.60,354.20 L401.90,355.90Z" fill="#8b80d4"/>
<line x1="407.00" y1="330.40" x2="414.20" y2="330.40" stroke="#8b80d4" stroke-width="1.3"/>
<path d="M408.90,330.40 L410.60,328.70 L412.30,330.40 L410.60,332.10Z" fill="#8b80d4"/>
<text x="417.20" y="333.00" font-size="7.4" textLength="72.4" lengthAdjust="spacingAndGlyphs" fill="#231f20" stroke="#231f20" stroke-width="0.2">sgNT-1 + sgNT-2_RFP</text>
<line x1="407.00" y1="341.90" x2="414.20" y2="341.90" stroke="#55aaea" stroke-width="1.3"/>
<circle cx="410.60" cy="341.90" r="1.75" fill="#55aaea"/>
<text x="417.20" y="344.50" font-size="7.4" textLength="84.0" lengthAdjust="spacingAndGlyphs" fill="#231f20" stroke="#231f20" stroke-width="0.2">sgIKZF1-1 + sgNT-1_RFP</text>
<line x1="407.00" y1="353.50" x2="414.20" y2="353.50" stroke="#45186a" stroke-width="1.3"/>
<path d="M408.70,352.40 L412.50,352.40 L410.60,355.40Z" fill="#45186a"/>
<text x="417.20" y="356.10" font-size="7.4" textLength="84.0" lengthAdjust="spacingAndGlyphs" fill="#231f20" stroke="#231f20" stroke-width="0.2">sgIKZF1-1 + sgNT-2_RFP</text>
<line x1="407.00" y1="363.90" x2="414.20" y2="363.90" stroke="#5cb035" stroke-width="1.3"/>
<path d="M408.70,365.10 L412.50,365.10 L410.60,362.00Z" fill="#5cb035"/>
<text x="417.20" y="366.50" font-size="7.4" textLength="84.0" lengthAdjust="spacingAndGlyphs" fill="#231f20" stroke="#231f20" stroke-width="0.2">sgIKZF3-1 + sgNT-1_RFP</text>
<line x1="407.00" y1="375.40" x2="414.20" y2="375.40" stroke="#2d6a4c" stroke-width="1.3"/>
<path d="M409.10,376.40 L412.10,376.40 L410.60,373.90Z" fill="#2d6a4c"/>
<text x="417.20" y="378.00" font-size="7.4" textLength="84.0" lengthAdjust="spacingAndGlyphs" fill="#231f20" stroke="#231f20" stroke-width="0.2">sgIKZF3-1 + sgNT-2_RFP</text>
<line x1="407.00" y1="386.90" x2="414.20" y2="386.90" stroke="#e8a393" stroke-width="1.3"/>
<path d="M408.50,386.90 L410.60,384.80 L412.70,386.90 L410.60,389.00Z" fill="#f3cfc6" stroke="#e8a393" stroke-width="0.9"/>
<text x="417.20" y="389.50" font-size="7.4" textLength="95.8" lengthAdjust="spacingAndGlyphs" fill="#231f20" stroke="#231f20" stroke-width="0.2">sgIKZF1-1 + sgIKZF3-1_RFP</text>
<line x1="407.00" y1="398.50" x2="414.20" y2="398.50" stroke="#c2183c" stroke-width="1.3"/>
<path d="M408.40,398.50 L410.60,396.30 L412.80,398.50 L410.60,400.70Z" fill="#c2183c"/>
<text x="417.20" y="401.10" font-size="7.4" textLength="95.8" lengthAdjust="spacingAndGlyphs" fill="#231f20" stroke="#231f20" stroke-width="0.2">sgIKZF1-2 + sgIKZF3-2_RFP</text>
<text transform="translate(296.20,365.0) rotate(-90)" font-size="9.2" text-anchor="middle" textLength="52" lengthAdjust="spacingAndGlyphs" fill="#2a2a2a" stroke="#2a2a2a" stroke-width="0.45">RFP<tspan font-size="6" dy="-3">+</tspan><tspan dy="3">/GFP</tspan><tspan font-size="6" dy="-3">+</tspan><tspan dy="3"> (AU)</tspan></text>
<text x="36.90" y="459.30" font-size="7.6" textLength="23.7" lengthAdjust="spacingAndGlyphs" fill="#231f20" stroke="#231f20" stroke-width="0.2">sgNT-1</text>
<line x1="84.70" y1="456.40" x2="89.30" y2="456.40" stroke="#333" stroke-width="0.95"/>
<line x1="87.00" y1="454.10" x2="87.00" y2="458.70" stroke="#333" stroke-width="0.95"/>
<line x1="101.75" y1="456.40" x2="106.35" y2="456.40" stroke="#333" stroke-width="0.95"/>
<line x1="104.05" y1="454.10" x2="104.05" y2="458.70" stroke="#333" stroke-width="0.95"/>
<line x1="120.25" y1="456.40" x2="121.95" y2="456.40" stroke="#555" stroke-width="1.0"/>
<line x1="135.85" y1="456.40" x2="140.45" y2="456.40" stroke="#333" stroke-width="0.95"/>
<line x1="138.15" y1="454.10" x2="138.15" y2="458.70" stroke="#333" stroke-width="0.95"/>
<line x1="154.35" y1="456.40" x2="156.05" y2="456.40" stroke="#555" stroke-width="1.0"/>
<line x1="171.40" y1="456.40" x2="173.10" y2="456.40" stroke="#555" stroke-width="1.0"/>
<line x1="188.45" y1="456.40" x2="190.15" y2="456.40" stroke="#555" stroke-width="1.0"/>
<text x="36.90" y="471.14" font-size="7.6" textLength="23.7" lengthAdjust="spacingAndGlyphs" fill="#231f20" stroke="#231f20" stroke-width="0.2">sgNT-2</text>
<line x1="84.70" y1="468.24" x2="89.30" y2="468.24" stroke="#333" stroke-width="0.95"/>
<line x1="87.00" y1="465.94" x2="87.00" y2="470.54" stroke="#333" stroke-width="0.95"/>
<line x1="103.20" y1="468.24" x2="104.90" y2="468.24" stroke="#555" stroke-width="1.0"/>
<line x1="118.80" y1="468.24" x2="123.40" y2="468.24" stroke="#333" stroke-width="0.95"/>
<line x1="121.10" y1="465.94" x2="121.10" y2="470.54" stroke="#333" stroke-width="0.95"/>
<line x1="137.30" y1="468.24" x2="139.00" y2="468.24" stroke="#555" stroke-width="1.0"/>
<line x1="152.90" y1="468.24" x2="157.50" y2="468.24" stroke="#333" stroke-width="0.95"/>
<line x1="155.20" y1="465.94" x2="155.20" y2="470.54" stroke="#333" stroke-width="0.95"/>
<line x1="171.40" y1="468.24" x2="173.10" y2="468.24" stroke="#555" stroke-width="1.0"/>
<line x1="188.45" y1="468.24" x2="190.15" y2="468.24" stroke="#555" stroke-width="1.0"/>
<text x="36.90" y="482.98" font-size="7.6" textLength="36.6" lengthAdjust="spacingAndGlyphs" fill="#231f20" stroke="#231f20" stroke-width="0.2">sgIKZF1-1</text>
<line x1="86.15" y1="480.08" x2="87.85" y2="480.08" stroke="#555" stroke-width="1.0"/>
<line x1="101.75" y1="480.08" x2="106.35" y2="480.08" stroke="#333" stroke-width="0.95"/>
<line x1="104.05" y1="477.78" x2="104.05" y2="482.38" stroke="#333" stroke-width="0.95"/>
<line x1="118.80" y1="480.08" x2="123.40" y2="480.08" stroke="#333" stroke-width="0.95"/>
<line x1="121.10" y1="477.78" x2="121.10" y2="482.38" stroke="#333" stroke-width="0.95"/>
<line x1="137.30" y1="480.08" x2="139.00" y2="480.08" stroke="#555" stroke-width="1.0"/>
<line x1="154.35" y1="480.08" x2="156.05" y2="480.08" stroke="#555" stroke-width="1.0"/>
<line x1="169.95" y1="480.08" x2="174.55" y2="480.08" stroke="#333" stroke-width="0.95"/>
<line x1="172.25" y1="477.78" x2="172.25" y2="482.38" stroke="#333" stroke-width="0.95"/>
<line x1="188.45" y1="480.08" x2="190.15" y2="480.08" stroke="#555" stroke-width="1.0"/>
<text x="36.90" y="494.82" font-size="7.6" textLength="36.6" lengthAdjust="spacingAndGlyphs" fill="#231f20" stroke="#231f20" stroke-width="0.2">sgIKZF1-2</text>
<line x1="86.15" y1="491.92" x2="87.85" y2="491.92" stroke="#555" stroke-width="1.0"/>
<line x1="103.20" y1="491.92" x2="104.90" y2="491.92" stroke="#555" stroke-width="1.0"/>
<line x1="120.25" y1="491.92" x2="121.95" y2="491.92" stroke="#555" stroke-width="1.0"/>
<line x1="137.30" y1="491.92" x2="139.00" y2="491.92" stroke="#555" stroke-width="1.0"/>
<line x1="154.35" y1="491.92" x2="156.05" y2="491.92" stroke="#555" stroke-width="1.0"/>
<line x1="171.40" y1="491.92" x2="173.10" y2="491.92" stroke="#555" stroke-width="1.0"/>
<line x1="187.00" y1="491.92" x2="191.60" y2="491.92" stroke="#333" stroke-width="0.95"/>
<line x1="189.30" y1="489.62" x2="189.30" y2="494.22" stroke="#333" stroke-width="0.95"/>
<text x="36.90" y="506.66" font-size="7.6" textLength="36.6" lengthAdjust="spacingAndGlyphs" fill="#231f20" stroke="#231f20" stroke-width="0.2">sgIKZF3-1</text>
<line x1="86.15" y1="503.76" x2="87.85" y2="503.76" stroke="#555" stroke-width="1.0"/>
<line x1="103.20" y1="503.76" x2="104.90" y2="503.76" stroke="#555" stroke-width="1.0"/>
<line x1="120.25" y1="503.76" x2="121.95" y2="503.76" stroke="#555" stroke-width="1.0"/>
<line x1="135.85" y1="503.76" x2="140.45" y2="503.76" stroke="#333" stroke-width="0.95"/>
<line x1="138.15" y1="501.46" x2="138.15" y2="506.06" stroke="#333" stroke-width="0.95"/>
<line x1="152.90" y1="503.76" x2="157.50" y2="503.76" stroke="#333" stroke-width="0.95"/>
<line x1="155.20" y1="501.46" x2="155.20" y2="506.06" stroke="#333" stroke-width="0.95"/>
<line x1="169.95" y1="503.76" x2="174.55" y2="503.76" stroke="#333" stroke-width="0.95"/>
<line x1="172.25" y1="501.46" x2="172.25" y2="506.06" stroke="#333" stroke-width="0.95"/>
<line x1="188.45" y1="503.76" x2="190.15" y2="503.76" stroke="#555" stroke-width="1.0"/>
<text x="36.90" y="518.50" font-size="7.6" textLength="36.6" lengthAdjust="spacingAndGlyphs" fill="#231f20" stroke="#231f20" stroke-width="0.2">sgIKZF3-2</text>
<line x1="86.15" y1="515.60" x2="87.85" y2="515.60" stroke="#555" stroke-width="1.0"/>
<line x1="103.20" y1="515.60" x2="104.90" y2="515.60" stroke="#555" stroke-width="1.0"/>
<line x1="120.25" y1="515.60" x2="121.95" y2="515.60" stroke="#555" stroke-width="1.0"/>
<line x1="137.30" y1="515.60" x2="139.00" y2="515.60" stroke="#555" stroke-width="1.0"/>
<line x1="154.35" y1="515.60" x2="156.05" y2="515.60" stroke="#555" stroke-width="1.0"/>
<line x1="171.40" y1="515.60" x2="173.10" y2="515.60" stroke="#555" stroke-width="1.0"/>
<line x1="187.00" y1="515.60" x2="191.60" y2="515.60" stroke="#333" stroke-width="0.95"/>
<line x1="189.30" y1="513.30" x2="189.30" y2="517.90" stroke="#333" stroke-width="0.95"/>
<text x="294.90" y="460.80" font-size="7.6" textLength="23.7" lengthAdjust="spacingAndGlyphs" fill="#231f20" stroke="#231f20" stroke-width="0.2">sgNT-1</text>
<line x1="342.30" y1="457.90" x2="346.90" y2="457.90" stroke="#333" stroke-width="0.95"/>
<line x1="344.60" y1="455.60" x2="344.60" y2="460.20" stroke="#333" stroke-width="0.95"/>
<line x1="359.35" y1="457.90" x2="363.95" y2="457.90" stroke="#333" stroke-width="0.95"/>
<line x1="361.65" y1="455.60" x2="361.65" y2="460.20" stroke="#333" stroke-width="0.95"/>
<line x1="377.85" y1="457.90" x2="379.55" y2="457.90" stroke="#555" stroke-width="1.0"/>
<line x1="393.45" y1="457.90" x2="398.05" y2="457.90" stroke="#333" stroke-width="0.95"/>
<line x1="395.75" y1="455.60" x2="395.75" y2="460.20" stroke="#333" stroke-width="0.95"/>
<line x1="411.95" y1="457.90" x2="413.65" y2="457.90" stroke="#555" stroke-width="1.0"/>
<line x1="429.00" y1="457.90" x2="430.70" y2="457.90" stroke="#555" stroke-width="1.0"/>
<line x1="446.05" y1="457.90" x2="447.75" y2="457.90" stroke="#555" stroke-width="1.0"/>
<text x="294.90" y="472.64" font-size="7.6" textLength="23.7" lengthAdjust="spacingAndGlyphs" fill="#231f20" stroke="#231f20" stroke-width="0.2">sgNT-2</text>
<line x1="342.30" y1="469.74" x2="346.90" y2="469.74" stroke="#333" stroke-width="0.95"/>
<line x1="344.60" y1="467.44" x2="344.60" y2="472.04" stroke="#333" stroke-width="0.95"/>
<line x1="360.80" y1="469.74" x2="362.50" y2="469.74" stroke="#555" stroke-width="1.0"/>
<line x1="376.40" y1="469.74" x2="381.00" y2="469.74" stroke="#333" stroke-width="0.95"/>
<line x1="378.70" y1="467.44" x2="378.70" y2="472.04" stroke="#333" stroke-width="0.95"/>
<line x1="394.90" y1="469.74" x2="396.60" y2="469.74" stroke="#555" stroke-width="1.0"/>
<line x1="410.50" y1="469.74" x2="415.10" y2="469.74" stroke="#333" stroke-width="0.95"/>
<line x1="412.80" y1="467.44" x2="412.80" y2="472.04" stroke="#333" stroke-width="0.95"/>
<line x1="429.00" y1="469.74" x2="430.70" y2="469.74" stroke="#555" stroke-width="1.0"/>
<line x1="446.05" y1="469.74" x2="447.75" y2="469.74" stroke="#555" stroke-width="1.0"/>
<text x="294.90" y="484.48" font-size="7.6" textLength="36.6" lengthAdjust="spacingAndGlyphs" fill="#231f20" stroke="#231f20" stroke-width="0.2">sgIKZF1-1</text>
<line x1="343.75" y1="481.58" x2="345.45" y2="481.58" stroke="#555" stroke-width="1.0"/>
<line x1="359.35" y1="481.58" x2="363.95" y2="481.58" stroke="#333" stroke-width="0.95"/>
<line x1="361.65" y1="479.28" x2="361.65" y2="483.88" stroke="#333" stroke-width="0.95"/>
<line x1="376.40" y1="481.58" x2="381.00" y2="481.58" stroke="#333" stroke-width="0.95"/>
<line x1="378.70" y1="479.28" x2="378.70" y2="483.88" stroke="#333" stroke-width="0.95"/>
<line x1="394.90" y1="481.58" x2="396.60" y2="481.58" stroke="#555" stroke-width="1.0"/>
<line x1="411.95" y1="481.58" x2="413.65" y2="481.58" stroke="#555" stroke-width="1.0"/>
<line x1="427.55" y1="481.58" x2="432.15" y2="481.58" stroke="#333" stroke-width="0.95"/>
<line x1="429.85" y1="479.28" x2="429.85" y2="483.88" stroke="#333" stroke-width="0.95"/>
<line x1="446.05" y1="481.58" x2="447.75" y2="481.58" stroke="#555" stroke-width="1.0"/>
<text x="294.90" y="496.32" font-size="7.6" textLength="36.6" lengthAdjust="spacingAndGlyphs" fill="#231f20" stroke="#231f20" stroke-width="0.2">sgIKZF1-2</text>
<line x1="343.75" y1="493.42" x2="345.45" y2="493.42" stroke="#555" stroke-width="1.0"/>
<line x1="360.80" y1="493.42" x2="362.50" y2="493.42" stroke="#555" stroke-width="1.0"/>
<line x1="377.85" y1="493.42" x2="379.55" y2="493.42" stroke="#555" stroke-width="1.0"/>
<line x1="394.90" y1="493.42" x2="396.60" y2="493.42" stroke="#555" stroke-width="1.0"/>
<line x1="411.95" y1="493.42" x2="413.65" y2="493.42" stroke="#555" stroke-width="1.0"/>
<line x1="429.00" y1="493.42" x2="430.70" y2="493.42" stroke="#555" stroke-width="1.0"/>
<line x1="444.60" y1="493.42" x2="449.20" y2="493.42" stroke="#333" stroke-width="0.95"/>
<line x1="446.90" y1="491.12" x2="446.90" y2="495.72" stroke="#333" stroke-width="0.95"/>
<text x="294.90" y="508.16" font-size="7.6" textLength="36.6" lengthAdjust="spacingAndGlyphs" fill="#231f20" stroke="#231f20" stroke-width="0.2">sgIKZF3-1</text>
<line x1="343.75" y1="505.26" x2="345.45" y2="505.26" stroke="#555" stroke-width="1.0"/>
<line x1="360.80" y1="505.26" x2="362.50" y2="505.26" stroke="#555" stroke-width="1.0"/>
<line x1="377.85" y1="505.26" x2="379.55" y2="505.26" stroke="#555" stroke-width="1.0"/>
<line x1="393.45" y1="505.26" x2="398.05" y2="505.26" stroke="#333" stroke-width="0.95"/>
<line x1="395.75" y1="502.96" x2="395.75" y2="507.56" stroke="#333" stroke-width="0.95"/>
<line x1="410.50" y1="505.26" x2="415.10" y2="505.26" stroke="#333" stroke-width="0.95"/>
<line x1="412.80" y1="502.96" x2="412.80" y2="507.56" stroke="#333" stroke-width="0.95"/>
<line x1="427.55" y1="505.26" x2="432.15" y2="505.26" stroke="#333" stroke-width="0.95"/>
<line x1="429.85" y1="502.96" x2="429.85" y2="507.56" stroke="#333" stroke-width="0.95"/>
<line x1="446.05" y1="505.26" x2="447.75" y2="505.26" stroke="#555" stroke-width="1.0"/>
<text x="294.90" y="520.00" font-size="7.6" textLength="36.6" lengthAdjust="spacingAndGlyphs" fill="#231f20" stroke="#231f20" stroke-width="0.2">sgIKZF3-2</text>
<line x1="343.75" y1="517.10" x2="345.45" y2="517.10" stroke="#555" stroke-width="1.0"/>
<line x1="360.80" y1="517.10" x2="362.50" y2="517.10" stroke="#555" stroke-width="1.0"/>
<line x1="377.85" y1="517.10" x2="379.55" y2="517.10" stroke="#555" stroke-width="1.0"/>
<line x1="394.90" y1="517.10" x2="396.60" y2="517.10" stroke="#555" stroke-width="1.0"/>
<line x1="411.95" y1="517.10" x2="413.65" y2="517.10" stroke="#555" stroke-width="1.0"/>
<line x1="429.00" y1="517.10" x2="430.70" y2="517.10" stroke="#555" stroke-width="1.0"/>
<line x1="444.60" y1="517.10" x2="449.20" y2="517.10" stroke="#333" stroke-width="0.95"/>
<line x1="446.90" y1="514.80" x2="446.90" y2="519.40" stroke="#333" stroke-width="0.95"/>
<linearGradient id="g1200" x1="0" y1="0" x2="0" y2="1"><stop offset="0" stop-color="#d6d6d6"/><stop offset="1" stop-color="#dadada"/></linearGradient>
<rect x="76.90" y="522.90" width="119.10" height="14.90" fill="url(#g1200)"/>
<path d="M79.80,526.55 Q86.30,527.35 92.80,526.55 L93.10,528.20 L92.80,529.21 Q86.30,529.85 79.80,529.21 L79.50,528.20 Z" fill="rgb(89,89,89)" filter="url(#bl)"/>
<path d="M80.60,527.25 Q86.30,528.05 92.00,527.25 L92.30,528.20 L92.00,528.51 Q86.30,529.15 80.60,528.51 L80.30,528.20 Z" fill="rgb(89,89,89)"/>
<path d="M79.80,530.35 Q86.30,531.15 92.80,530.35 L93.10,532.20 L92.80,533.41 Q86.30,534.05 79.80,533.41 L79.50,532.20 Z" fill="rgb(43,43,43)" filter="url(#bl)"/>
<path d="M80.60,531.05 Q86.30,531.85 92.00,531.05 L92.30,532.20 L92.00,532.71 Q86.30,533.35 80.60,532.71 L80.30,532.20 Z" fill="rgb(43,43,43)"/>
<path d="M96.85,526.55 Q103.35,527.35 109.85,526.55 L110.15,528.20 L109.85,529.21 Q103.35,529.85 96.85,529.21 L96.55,528.20 Z" fill="rgb(190,190,190)" filter="url(#bl)"/>
<path d="M97.65,527.25 Q103.35,528.05 109.05,527.25 L109.35,528.20 L109.05,528.51 Q103.35,529.15 97.65,528.51 L97.35,528.20 Z" fill="rgb(190,190,190)"/>
<path d="M96.85,530.35 Q103.35,531.15 109.85,530.35 L110.15,532.20 L109.85,533.41 Q103.35,534.05 96.85,533.41 L96.55,532.20 Z" fill="rgb(162,162,162)" filter="url(#bl)"/>
<path d="M97.65,531.05 Q103.35,531.85 109.05,531.05 L109.35,532.20 L109.05,532.71 Q103.35,533.35 97.65,532.71 L97.35,532.20 Z" fill="rgb(162,162,162)"/>
<path d="M113.90,526.55 Q120.40,527.35 126.90,526.55 L127.20,528.20 L126.90,529.21 Q120.40,529.85 113.90,529.21 L113.60,528.20 Z" fill="rgb(169,169,169)" filter="url(#bl)"/>
<path d="M114.70,527.25 Q120.40,528.05 126.10,527.25 L126.40,528.20 L126.10,528.51 Q120.40,529.15 114.70,528.51 L114.40,528.20 Z" fill="rgb(169,169,169)"/>
<path d="M113.90,530.35 Q120.40,531.15 126.90,530.35 L127.20,532.20 L126.90,533.41 Q120.40,534.05 113.90,533.41 L113.60,532.20 Z" fill="rgb(135,135,135)" filter="url(#bl)"/>
<path d="M114.70,531.05 Q120.40,531.85 126.10,531.05 L126.40,532.20 L126.10,532.71 Q120.40,533.35 114.70,532.71 L114.40,532.20 Z" fill="rgb(135,135,135)"/>
<path d="M130.95,526.55 Q137.45,527.35 143.95,526.55 L144.25,528.20 L143.95,529.21 Q137.45,529.85 130.95,529.21 L130.65,528.20 Z" fill="rgb(64,64,64)" filter="url(#bl)"/>
<path d="M131.75,527.25 Q137.45,528.05 143.15,527.25 L143.45,528.20 L143.15,528.51 Q137.45,529.15 131.75,528.51 L131.45,528.20 Z" fill="rgb(64,64,64)"/>
<path d="M130.95,530.35 Q137.45,531.15 143.95,530.35 L144.25,532.20 L143.95,533.41 Q137.45,534.05 130.95,533.41 L130.65,532.20 Z" fill="rgb(36,36,36)" filter="url(#bl)"/>
<path d="M131.75,531.05 Q137.45,531.85 143.15,531.05 L143.45,532.20 L143.15,532.71 Q137.45,533.35 131.75,532.71 L131.45,532.20 Z" fill="rgb(36,36,36)"/>
<path d="M148.00,526.55 Q154.50,527.35 161.00,526.55 L161.30,528.20 L161.00,529.21 Q154.50,529.85 148.00,529.21 L147.70,528.20 Z" fill="rgb(47,47,47)" filter="url(#bl)"/>
<path d="M148.80,527.25 Q154.50,528.05 160.20,527.25 L160.50,528.20 L160.20,528.51 Q154.50,529.15 148.80,528.51 L148.50,528.20 Z" fill="rgb(47,47,47)"/>
<path d="M148.00,530.35 Q154.50,531.15 161.00,530.35 L161.30,532.20 L161.00,533.41 Q154.50,534.05 148.00,533.41 L147.70,532.20 Z" fill="rgb(16,16,16)" filter="url(#bl)"/>
<path d="M148.80,531.05 Q154.50,531.85 160.20,531.05 L160.50,532.20 L160.20,532.71 Q154.50,533.35 148.80,532.71 L148.50,532.20 Z" fill="rgb(16,16,16)"/>
<path d="M148.30,524.35 Q154.50,524.95 160.70,524.35 L161.00,525.40 L160.70,525.97 Q154.50,526.45 148.30,525.97 L148.00,525.40 Z" fill="rgb(152,152,152)" filter="url(#bl)"/>
<path d="M149.30,524.89 Q154.50,525.49 159.70,524.89 L160.00,525.40 L159.70,525.43 Q154.50,525.91 149.30,525.43 L149.00,525.40 Z" fill="rgb(152,152,152)"/>
<path d="M165.05,526.55 Q171.55,527.35 178.05,526.55 L178.35,528.20 L178.05,529.21 Q171.55,529.85 165.05,529.21 L164.75,528.20 Z" fill="rgb(190,190,190)" filter="url(#bl)"/>
<path d="M165.85,527.25 Q171.55,528.05 177.25,527.25 L177.55,528.20 L177.25,528.51 Q171.55,529.15 165.85,528.51 L165.55,528.20 Z" fill="rgb(190,190,190)"/>
<path d="M165.05,530.35 Q171.55,531.15 178.05,530.35 L178.35,532.20 L178.05,533.41 Q171.55,534.05 165.05,533.41 L164.75,532.20 Z" fill="rgb(162,162,162)" filter="url(#bl)"/>
<path d="M165.85,531.05 Q171.55,531.85 177.25,531.05 L177.55,532.20 L177.25,532.71 Q171.55,533.35 165.85,532.71 L165.55,532.20 Z" fill="rgb(162,162,162)"/>
<path d="M182.10,526.55 Q188.60,527.35 195.10,526.55 L195.40,528.20 L195.10,529.21 Q188.60,529.85 182.10,529.21 L181.80,528.20 Z" fill="rgb(162,162,162)" filter="url(#bl)"/>
<path d="M182.90,527.25 Q188.60,528.05 194.30,527.25 L194.60,528.20 L194.30,528.51 Q188.60,529.15 182.90,528.51 L182.60,528.20 Z" fill="rgb(162,162,162)"/>
<path d="M182.10,530.35 Q188.60,531.15 195.10,530.35 L195.40,532.20 L195.10,533.41 Q188.60,534.05 182.10,533.41 L181.80,532.20 Z" fill="rgb(131,131,131)" filter="url(#bl)"/>
<path d="M182.90,531.05 Q188.60,531.85 194.30,531.05 L194.60,532.20 L194.30,532.71 Q188.60,533.35 182.90,532.71 L182.60,532.20 Z" fill="rgb(131,131,131)"/>
<linearGradient id="g1232" x1="0" y1="0" x2="0" y2="1"><stop offset="0" stop-color="#d8d8d8"/><stop offset="1" stop-color="#dcdcdc"/></linearGradient>
<rect x="76.90" y="539.80" width="119.10" height="14.20" fill="url(#g1232)"/>
<path d="M79.70,545.25 Q86.30,546.85 92.90,545.25 L93.20,547.70 L92.90,548.87 Q86.30,550.15 79.70,548.87 L79.40,547.70 Z" fill="rgb(5,5,5)" filter="url(#bl)"/>
<path d="M80.40,545.85 Q86.30,547.45 92.20,545.85 L92.50,547.70 L92.20,548.27 Q86.30,549.55 80.40,548.27 L80.10,547.70 Z" fill="rgb(5,5,5)"/>
<path d="M96.85,545.35 Q103.35,546.95 109.85,545.35 L110.15,547.70 L109.85,548.77 Q103.35,550.05 96.85,548.77 L96.55,547.70 Z" fill="rgb(16,16,16)" filter="url(#bl)"/>
<path d="M97.55,545.95 Q103.35,547.55 109.15,545.95 L109.45,547.70 L109.15,548.17 Q103.35,549.45 97.55,548.17 L97.25,547.70 Z" fill="rgb(16,16,16)"/>
<path d="M113.80,544.85 Q120.40,546.45 127.00,544.85 L127.30,547.50 L127.00,548.87 Q120.40,550.15 113.80,548.87 L113.50,547.50 Z" fill="rgb(5,5,5)" filter="url(#bl)"/>
<path d="M114.50,545.45 Q120.40,547.05 126.30,545.45 L126.60,547.50 L126.30,548.27 Q120.40,549.55 114.50,548.27 L114.20,547.50 Z" fill="rgb(5,5,5)"/>
<path d="M131.05,545.85 Q137.45,547.05 143.85,545.85 L144.15,547.70 L143.85,548.59 Q137.45,549.55 131.05,548.59 L130.75,547.70 Z" fill="rgb(131,131,131)" filter="url(#bl)"/>
<path d="M131.75,546.45 Q137.45,547.65 143.15,546.45 L143.45,547.70 L143.15,547.99 Q137.45,548.95 131.75,547.99 L131.45,547.70 Z" fill="rgb(131,131,131)"/>
<path d="M148.10,545.75 Q154.50,546.95 160.90,545.75 L161.20,547.70 L160.90,548.69 Q154.50,549.65 148.10,548.69 L147.80,547.70 Z" fill="rgb(99,99,99)" filter="url(#bl)"/>
<path d="M148.80,546.35 Q154.50,547.55 160.20,546.35 L160.50,547.70 L160.20,548.09 Q154.50,549.05 148.80,548.09 L148.50,547.70 Z" fill="rgb(99,99,99)"/>
<path d="M165.15,545.75 Q171.55,546.95 177.95,545.75 L178.25,547.70 L177.95,548.69 Q171.55,549.65 165.15,548.69 L164.85,547.70 Z" fill="rgb(99,99,99)" filter="url(#bl)"/>
<path d="M165.85,546.35 Q171.55,547.55 177.25,546.35 L177.55,547.70 L177.25,548.09 Q171.55,549.05 165.85,548.09 L165.55,547.70 Z" fill="rgb(99,99,99)"/>
<path d="M182.20,545.45 Q188.60,546.85 195.00,545.45 L195.30,547.60 L195.00,548.63 Q188.60,549.75 182.20,548.63 L181.90,547.60 Z" fill="rgb(68,68,68)" filter="url(#bl)"/>
<path d="M182.90,546.05 Q188.60,547.45 194.30,546.05 L194.60,547.60 L194.30,548.03 Q188.60,549.15 182.90,548.03 L182.60,547.60 Z" fill="rgb(68,68,68)"/>
<linearGradient id="g1248" x1="0" y1="0" x2="0" y2="1"><stop offset="0" stop-color="#d0d0d0"/><stop offset="1" stop-color="#d6d6d6"/></linearGradient>
<rect x="76.90" y="557.00" width="119.10" height="13.60" fill="url(#g1248)"/>
<path d="M78.50,560.15 Q86.30,562.15 94.10,560.15 L94.40,563.80 L94.10,565.85 Q86.30,567.45 78.50,565.85 L78.20,563.80 Z" fill="rgb(5,5,5)" filter="url(#bl)"/>
<path d="M79.20,560.75 Q86.30,562.75 93.40,560.75 L93.70,563.80 L93.40,565.25 Q86.30,566.85 79.20,565.25 L78.90,563.80 Z" fill="rgb(5,5,5)"/>
<path d="M95.55,560.15 Q103.35,562.15 111.15,560.15 L111.45,563.80 L111.15,565.85 Q103.35,567.45 95.55,565.85 L95.25,563.80 Z" fill="rgb(5,5,5)" filter="url(#bl)"/>
<path d="M96.25,560.75 Q103.35,562.75 110.45,560.75 L110.75,563.80 L110.45,565.25 Q103.35,566.85 96.25,565.25 L95.95,563.80 Z" fill="rgb(5,5,5)"/>
<path d="M112.60,560.15 Q120.40,562.15 128.20,560.15 L128.50,563.80 L128.20,565.85 Q120.40,567.45 112.60,565.85 L112.30,563.80 Z" fill="rgb(5,5,5)" filter="url(#bl)"/>
<path d="M113.30,560.75 Q120.40,562.75 127.50,560.75 L127.80,563.80 L127.50,565.25 Q120.40,566.85 113.30,565.25 L113.00,563.80 Z" fill="rgb(5,5,5)"/>
<path d="M129.65,560.15 Q137.45,562.15 145.25,560.15 L145.55,563.80 L145.25,565.85 Q137.45,567.45 129.65,565.85 L129.35,563.80 Z" fill="rgb(5,5,5)" filter="url(#bl)"/>
<path d="M130.35,560.75 Q137.45,562.75 144.55,560.75 L144.85,563.80 L144.55,565.25 Q137.45,566.85 130.35,565.25 L130.05,563.80 Z" fill="rgb(5,5,5)"/>
<path d="M146.70,560.15 Q154.50,562.15 162.30,560.15 L162.60,563.80 L162.30,565.85 Q154.50,567.45 146.70,565.85 L146.40,563.80 Z" fill="rgb(5,5,5)" filter="url(#bl)"/>
<path d="M147.40,560.75 Q154.50,562.75 161.60,560.75 L161.90,563.80 L161.60,565.25 Q154.50,566.85 147.40,565.25 L147.10,563.80 Z" fill="rgb(5,5,5)"/>
<path d="M163.75,560.15 Q171.55,562.15 179.35,560.15 L179.65,563.80 L179.35,565.85 Q171.55,567.45 163.75,565.85 L163.45,563.80 Z" fill="rgb(5,5,5)" filter="url(#bl)"/>
<path d="M164.45,560.75 Q171.55,562.75 178.65,560.75 L178.95,563.80 L178.65,565.25 Q171.55,566.85 164.45,565.25 L164.15,563.80 Z" fill="rgb(5,5,5)"/>
<path d="M180.80,560.15 Q188.60,562.15 196.40,560.15 L196.70,563.80 L196.40,565.85 Q188.60,567.45 180.80,565.85 L180.50,563.80 Z" fill="rgb(5,5,5)" filter="url(#bl)"/>
<path d="M181.50,560.75 Q188.60,562.75 195.70,560.75 L196.00,563.80 L195.70,565.25 Q188.60,566.85 181.50,565.25 L181.20,563.80 Z" fill="rgb(5,5,5)"/>
<text x="199.40" y="534.60" font-size="7.9" textLength="20.3" lengthAdjust="spacingAndGlyphs" fill="#231f20" stroke="#231f20" stroke-width="0.2">IKZF1</text>
<text x="199.40" y="552.90" font-size="7.9" textLength="21.0" lengthAdjust="spacingAndGlyphs" fill="#231f20" stroke="#231f20" stroke-width="0.2">IKZF3</text>
<text x="199.40" y="567.30" font-size="7.9" textLength="17.4" lengthAdjust="spacingAndGlyphs" fill="#231f20" stroke="#231f20" stroke-width="0.2">α-Tub</text>
<line x1="76.90" y1="574.00" x2="196.00" y2="574.00" stroke="#111" stroke-width="1.5"/>
<text x="136.50" y="584.20" font-size="8.2" text-anchor="middle" textLength="46.9" lengthAdjust="spacingAndGlyphs" fill="#231f20" stroke="#231f20" stroke-width="0.2">KARPAS-422</text>
<linearGradient id="g1269" x1="0" y1="0" x2="0" y2="1"><stop offset="0" stop-color="#d6d6d6"/><stop offset="1" stop-color="#dadada"/></linearGradient>
<rect x="338.00" y="525.10" width="119.20" height="15.10" fill="url(#g1269)"/>
<path d="M339.30,528.45 Q346.20,529.25 353.10,528.45 L353.40,530.20 L353.10,531.31 Q346.20,531.95 339.30,531.31 L339.00,530.20 Z" fill="rgb(36,36,36)" filter="url(#bl)"/>
<path d="M340.10,529.15 Q346.20,529.95 352.30,529.15 L352.60,530.20 L352.30,530.61 Q346.20,531.25 340.10,530.61 L339.80,530.20 Z" fill="rgb(36,36,36)"/>
<path d="M339.30,532.65 Q346.20,533.45 353.10,532.65 L353.40,534.60 L353.10,535.91 Q346.20,536.55 339.30,535.91 L339.00,534.60 Z" fill="rgb(5,5,5)" filter="url(#bl)"/>
<path d="M340.10,533.35 Q346.20,534.15 352.30,533.35 L352.60,534.60 L352.30,535.21 Q346.20,535.85 340.10,535.21 L339.80,534.60 Z" fill="rgb(5,5,5)"/>
<path d="M339.50,530.35 Q346.20,531.15 352.90,530.35 L353.20,532.40 L352.90,533.81 Q346.20,534.45 339.50,533.81 L339.20,532.40 Z" fill="rgb(26,26,26)" filter="url(#bl)"/>
<path d="M340.50,531.20 Q346.20,532.00 351.90,531.20 L352.20,532.40 L351.90,532.96 Q346.20,533.60 340.50,532.96 L340.20,532.40 Z" fill="rgb(26,26,26)"/>
<path d="M356.55,528.25 Q363.15,529.05 369.75,528.25 L370.05,530.00 L369.75,531.11 Q363.15,531.75 356.55,531.11 L356.25,530.00 Z" fill="rgb(177,177,177)" filter="url(#bl)"/>
<path d="M357.35,528.95 Q363.15,529.75 368.95,528.95 L369.25,530.00 L368.95,530.41 Q363.15,531.05 357.35,530.41 L357.05,530.00 Z" fill="rgb(177,177,177)"/>
<path d="M356.55,532.05 Q363.15,532.85 369.75,532.05 L370.05,534.00 L369.75,535.31 Q363.15,535.95 356.55,535.31 L356.25,534.00 Z" fill="rgb(162,162,162)" filter="url(#bl)"/>
<path d="M357.35,532.75 Q363.15,533.55 368.95,532.75 L369.25,534.00 L368.95,534.61 Q363.15,535.25 357.35,534.61 L357.05,534.00 Z" fill="rgb(162,162,162)"/>
<path d="M373.50,528.25 Q380.10,529.05 386.70,528.25 L387.00,530.00 L386.70,531.11 Q380.10,531.75 373.50,531.11 L373.20,530.00 Z" fill="rgb(173,173,173)" filter="url(#bl)"/>
<path d="M374.30,528.95 Q380.10,529.75 385.90,528.95 L386.20,530.00 L385.90,530.41 Q380.10,531.05 374.30,530.41 L374.00,530.00 Z" fill="rgb(173,173,173)"/>
<path d="M373.50,532.05 Q380.10,532.85 386.70,532.05 L387.00,534.00 L386.70,535.31 Q380.10,535.95 373.50,535.31 L373.20,534.00 Z" fill="rgb(156,156,156)" filter="url(#bl)"/>
<path d="M374.30,532.75 Q380.10,533.55 385.90,532.75 L386.20,534.00 L385.90,534.61 Q380.10,535.25 374.30,534.61 L374.00,534.00 Z" fill="rgb(156,156,156)"/>
<path d="M390.45,527.85 Q397.05,528.65 403.65,527.85 L403.95,529.60 L403.65,530.71 Q397.05,531.35 390.45,530.71 L390.15,529.60 Z" fill="rgb(51,51,51)" filter="url(#bl)"/>
<path d="M391.25,528.55 Q397.05,529.35 402.85,528.55 L403.15,529.60 L402.85,530.01 Q397.05,530.65 391.25,530.01 L390.95,529.60 Z" fill="rgb(51,51,51)"/>
<path d="M390.45,531.65 Q397.05,532.45 403.65,531.65 L403.95,533.60 L403.65,534.91 Q397.05,535.55 390.45,534.91 L390.15,533.60 Z" fill="rgb(36,36,36)" filter="url(#bl)"/>
<path d="M391.25,532.35 Q397.05,533.15 402.85,532.35 L403.15,533.60 L402.85,534.21 Q397.05,534.85 391.25,534.21 L390.95,533.60 Z" fill="rgb(36,36,36)"/>
<path d="M407.40,527.85 Q414.00,528.65 420.60,527.85 L420.90,529.60 L420.60,530.71 Q414.00,531.35 407.40,530.71 L407.10,529.60 Z" fill="rgb(43,43,43)" filter="url(#bl)"/>
<path d="M408.20,528.55 Q414.00,529.35 419.80,528.55 L420.10,529.60 L419.80,530.01 Q414.00,530.65 408.20,530.01 L407.90,529.60 Z" fill="rgb(43,43,43)"/>
<path d="M407.40,531.65 Q414.00,532.45 420.60,531.65 L420.90,533.60 L420.60,534.91 Q414.00,535.55 407.40,534.91 L407.10,533.60 Z" fill="rgb(22,22,22)" filter="url(#bl)"/>
<path d="M408.20,532.35 Q414.00,533.15 419.80,532.35 L420.10,533.60 L419.80,534.21 Q414.00,534.85 408.20,534.21 L407.90,533.60 Z" fill="rgb(22,22,22)"/>
<path d="M407.80,526.15 Q414.00,526.75 420.20,526.15 L420.50,527.20 L420.20,527.77 Q414.00,528.25 407.80,527.77 L407.50,527.20 Z" fill="rgb(152,152,152)" filter="url(#bl)"/>
<path d="M408.80,526.69 Q414.00,527.29 419.20,526.69 L419.50,527.20 L419.20,527.23 Q414.00,527.71 408.80,527.23 L408.50,527.20 Z" fill="rgb(152,152,152)"/>
<path d="M424.35,528.25 Q430.95,529.05 437.55,528.25 L437.85,530.00 L437.55,531.11 Q430.95,531.75 424.35,531.11 L424.05,530.00 Z" fill="rgb(173,173,173)" filter="url(#bl)"/>
<path d="M425.15,528.95 Q430.95,529.75 436.75,528.95 L437.05,530.00 L436.75,530.41 Q430.95,531.05 425.15,530.41 L424.85,530.00 Z" fill="rgb(173,173,173)"/>
<path d="M424.35,532.05 Q430.95,532.85 437.55,532.05 L437.85,534.00 L437.55,535.31 Q430.95,535.95 424.35,535.31 L424.05,534.00 Z" fill="rgb(156,156,156)" filter="url(#bl)"/>
<path d="M425.15,532.75 Q430.95,533.55 436.75,532.75 L437.05,534.00 L436.75,534.61 Q430.95,535.25 425.15,534.61 L424.85,534.00 Z" fill="rgb(156,156,156)"/>
<path d="M441.30,528.25 Q447.90,529.05 454.50,528.25 L454.80,530.00 L454.50,531.11 Q447.90,531.75 441.30,531.11 L441.00,530.00 Z" fill="rgb(152,152,152)" filter="url(#bl)"/>
<path d="M442.10,528.95 Q447.90,529.75 453.70,528.95 L454.00,530.00 L453.70,530.41 Q447.90,531.05 442.10,530.41 L441.80,530.00 Z" fill="rgb(152,152,152)"/>
<path d="M441.30,532.05 Q447.90,532.85 454.50,532.05 L454.80,534.00 L454.50,535.31 Q447.90,535.95 441.30,535.31 L441.00,534.00 Z" fill="rgb(142,142,142)" filter="url(#bl)"/>
<path d="M442.10,532.75 Q447.90,533.55 453.70,532.75 L454.00,534.00 L453.70,534.61 Q447.90,535.25 442.10,534.61 L441.80,534.00 Z" fill="rgb(142,142,142)"/>
<linearGradient id="g1303" x1="0" y1="0" x2="0" y2="1"><stop offset="0" stop-color="#d8d8d8"/><stop offset="1" stop-color="#dcdcdc"/></linearGradient>
<rect x="338.00" y="542.80" width="119.20" height="12.20" fill="url(#g1303)"/>
<path d="M339.40,546.95 Q346.20,548.55 353.00,546.95 L353.30,549.60 L353.00,550.97 Q346.20,552.25 339.40,550.97 L339.10,549.60 Z" fill="rgb(5,5,5)" filter="url(#bl)"/>
<path d="M340.10,547.55 Q346.20,549.15 352.30,547.55 L352.60,549.60 L352.30,550.37 Q346.20,551.65 340.10,550.37 L339.80,549.60 Z" fill="rgb(5,5,5)"/>
<path d="M356.55,546.75 Q363.15,548.35 369.75,546.75 L370.05,549.20 L369.75,550.37 Q363.15,551.65 356.55,550.37 L356.25,549.20 Z" fill="rgb(16,16,16)" filter="url(#bl)"/>
<path d="M357.25,547.35 Q363.15,548.95 369.05,547.35 L369.35,549.20 L369.05,549.77 Q363.15,551.05 357.25,549.77 L356.95,549.20 Z" fill="rgb(16,16,16)"/>
<path d="M373.50,545.75 Q380.10,547.35 386.70,545.75 L387.00,548.20 L386.70,549.37 Q380.10,550.65 373.50,549.37 L373.20,548.20 Z" fill="rgb(11,11,11)" filter="url(#bl)"/>
<path d="M374.20,546.35 Q380.10,547.95 386.00,546.35 L386.30,548.20 L386.00,548.77 Q380.10,550.05 374.20,548.77 L373.90,548.20 Z" fill="rgb(11,11,11)"/>
<path d="M390.65,546.85 Q397.05,547.85 403.45,546.85 L403.75,548.50 L403.45,549.35 Q397.05,550.15 390.65,549.35 L390.35,548.50 Z" fill="rgb(156,156,156)" filter="url(#bl)"/>
<path d="M391.35,547.45 Q397.05,548.45 402.75,547.45 L403.05,548.50 L402.75,548.75 Q397.05,549.55 391.35,548.75 L391.05,548.50 Z" fill="rgb(156,156,156)"/>
<path d="M407.60,546.85 Q414.00,547.85 420.40,546.85 L420.70,548.50 L420.40,549.35 Q414.00,550.15 407.60,549.35 L407.30,548.50 Z" fill="rgb(152,152,152)" filter="url(#bl)"/>
<path d="M408.30,547.45 Q414.00,548.45 419.70,547.45 L420.00,548.50 L419.70,548.75 Q414.00,549.55 408.30,548.75 L408.00,548.50 Z" fill="rgb(152,152,152)"/>
<path d="M424.55,545.85 Q430.95,546.85 437.35,545.85 L437.65,547.60 L437.35,548.55 Q430.95,549.35 424.55,548.55 L424.25,547.60 Z" fill="rgb(127,127,127)" filter="url(#bl)"/>
<path d="M425.25,546.45 Q430.95,547.45 436.65,546.45 L436.95,547.60 L436.65,547.95 Q430.95,548.75 425.25,547.95 L424.95,547.60 Z" fill="rgb(127,127,127)"/>
<path d="M441.50,545.85 Q447.90,546.85 454.30,545.85 L454.60,547.60 L454.30,548.55 Q447.90,549.35 441.50,548.55 L441.20,547.60 Z" fill="rgb(127,127,127)" filter="url(#bl)"/>
<path d="M442.20,546.45 Q447.90,547.45 453.60,546.45 L453.90,547.60 L453.60,547.95 Q447.90,548.75 442.20,547.95 L441.90,547.60 Z" fill="rgb(127,127,127)"/>
<linearGradient id="g1319" x1="0" y1="0" x2="0" y2="1"><stop offset="0" stop-color="#d0d0d0"/><stop offset="1" stop-color="#d6d6d6"/></linearGradient>
<rect x="338.00" y="557.40" width="119.20" height="13.60" fill="url(#g1319)"/>
<path d="M338.30,559.35 Q346.20,561.75 354.10,559.35 L354.40,564.00 L354.10,566.73 Q346.20,568.65 338.30,566.73 L338.00,564.00 Z" fill="rgb(5,5,5)" filter="url(#bl)"/>
<path d="M339.00,559.95 Q346.20,562.35 353.40,559.95 L353.70,564.00 L353.40,566.13 Q346.20,568.05 339.00,566.13 L338.70,564.00 Z" fill="rgb(5,5,5)"/>
<path d="M355.65,560.35 Q363.15,562.35 370.65,560.35 L370.95,564.00 L370.65,566.05 Q363.15,567.65 355.65,566.05 L355.35,564.00 Z" fill="rgb(5,5,5)" filter="url(#bl)"/>
<path d="M356.35,560.95 Q363.15,562.95 369.95,560.95 L370.25,564.00 L369.95,565.45 Q363.15,567.05 356.35,565.45 L356.05,564.00 Z" fill="rgb(5,5,5)"/>
<path d="M372.60,560.35 Q380.10,562.35 387.60,560.35 L387.90,564.00 L387.60,566.05 Q380.10,567.65 372.60,566.05 L372.30,564.00 Z" fill="rgb(5,5,5)" filter="url(#bl)"/>
<path d="M373.30,560.95 Q380.10,562.95 386.90,560.95 L387.20,564.00 L386.90,565.45 Q380.10,567.05 373.30,565.45 L373.00,564.00 Z" fill="rgb(5,5,5)"/>
<path d="M389.55,560.35 Q397.05,562.35 404.55,560.35 L404.85,564.00 L404.55,566.05 Q397.05,567.65 389.55,566.05 L389.25,564.00 Z" fill="rgb(5,5,5)" filter="url(#bl)"/>
<path d="M390.25,560.95 Q397.05,562.95 403.85,560.95 L404.15,564.00 L403.85,565.45 Q397.05,567.05 390.25,565.45 L389.95,564.00 Z" fill="rgb(5,5,5)"/>
<path d="M406.50,560.35 Q414.00,562.35 421.50,560.35 L421.80,564.00 L421.50,566.05 Q414.00,567.65 406.50,566.05 L406.20,564.00 Z" fill="rgb(5,5,5)" filter="url(#bl)"/>
<path d="M407.20,560.95 Q414.00,562.95 420.80,560.95 L421.10,564.00 L420.80,565.45 Q414.00,567.05 407.20,565.45 L406.90,564.00 Z" fill="rgb(5,5,5)"/>
<path d="M423.45,560.35 Q430.95,562.35 438.45,560.35 L438.75,564.00 L438.45,566.05 Q430.95,567.65 423.45,566.05 L423.15,564.00 Z" fill="rgb(5,5,5)" filter="url(#bl)"/>
<path d="M424.15,560.95 Q430.95,562.95 437.75,560.95 L438.05,564.00 L437.75,565.45 Q430.95,567.05 424.15,565.45 L423.85,564.00 Z" fill="rgb(5,5,5)"/>
<path d="M440.40,560.35 Q447.90,562.35 455.40,560.35 L455.70,564.00 L455.40,566.05 Q447.90,567.65 440.40,566.05 L440.10,564.00 Z" fill="rgb(5,5,5)" filter="url(#bl)"/>
<path d="M441.10,560.95 Q447.90,562.95 454.70,560.95 L455.00,564.00 L454.70,565.45 Q447.90,567.05 441.10,565.45 L440.80,564.00 Z" fill="rgb(5,5,5)"/>
<text x="460.60" y="533.20" font-size="7.9" textLength="20.3" lengthAdjust="spacingAndGlyphs" fill="#231f20" stroke="#231f20" stroke-width="0.2">IKZF1</text>
<text x="460.60" y="552.00" font-size="7.9" textLength="21.0" lengthAdjust="spacingAndGlyphs" fill="#231f20" stroke="#231f20" stroke-width="0.2">IKZF3</text>
<text x="460.60" y="564.90" font-size="7.9" textLength="17.4" lengthAdjust="spacingAndGlyphs" fill="#231f20" stroke="#231f20" stroke-width="0.2">α-Tub</text>
<line x1="338.00" y1="574.20" x2="457.20" y2="574.20" stroke="#111" stroke-width="1.5"/>
<text x="397.60" y="584.20" font-size="8.2" text-anchor="middle" textLength="36.3" lengthAdjust="spacingAndGlyphs" fill="#231f20" stroke="#231f20" stroke-width="0.2">SU-DHL-4</text>
<text x="68.10" y="164.40" font-size="8" text-anchor="middle" textLength="15.8" lengthAdjust="spacingAndGlyphs" fill="#231f20" stroke="#231f20" stroke-width="0.2">Nluc</text>
<text x="68.15" y="174.00" font-size="8" text-anchor="middle" textLength="16.7" lengthAdjust="spacingAndGlyphs" fill="#231f20" stroke="#231f20" stroke-width="0.2">GFP</text>
<text x="109.00" y="164.40" font-size="8" text-anchor="middle" textLength="20.7" lengthAdjust="spacingAndGlyphs" fill="#231f20" stroke="#231f20" stroke-width="0.2">IKZF1</text>
<text x="109.70" y="174.00" font-size="8" text-anchor="middle" textLength="26.0" lengthAdjust="spacingAndGlyphs" fill="#231f20" stroke="#231f20" stroke-width="0.2">G151A</text>
<text x="150.95" y="164.40" font-size="8" text-anchor="middle" textLength="21.1" lengthAdjust="spacingAndGlyphs" fill="#231f20" stroke="#231f20" stroke-width="0.2">IKZF3</text>
<text x="151.20" y="174.00" font-size="8" text-anchor="middle" textLength="26.4" lengthAdjust="spacingAndGlyphs" fill="#231f20" stroke="#231f20" stroke-width="0.2">G152A</text>
<text x="192.10" y="164.40" font-size="8" text-anchor="middle" textLength="23.4" lengthAdjust="spacingAndGlyphs" fill="#231f20" stroke="#231f20" stroke-width="0.2">ZFP91</text>
<text x="192.60" y="174.00" font-size="8" text-anchor="middle" textLength="25.6" lengthAdjust="spacingAndGlyphs" fill="#231f20" stroke="#231f20" stroke-width="0.2">G405A</text>
<line x1="47.80" y1="178.90" x2="88.00" y2="178.90" stroke="#3a3a3a" stroke-width="1.7"/>
<line x1="90.00" y1="178.90" x2="130.00" y2="178.90" stroke="#3a3a3a" stroke-width="1.7"/>
<line x1="131.20" y1="178.90" x2="171.20" y2="178.90" stroke="#3a3a3a" stroke-width="1.7"/>
<line x1="172.10" y1="178.90" x2="212.50" y2="178.90" stroke="#3a3a3a" stroke-width="1.7"/>
<text x="42.70" y="189.30" font-size="8.1" text-anchor="end" textLength="24.4" lengthAdjust="spacingAndGlyphs" fill="#231f20" stroke="#231f20" stroke-width="0.2">DMSO</text>
<text x="43.10" y="200.50" font-size="8.2" text-anchor="end" textLength="26.8" lengthAdjust="spacingAndGlyphs" fill="#231f20" stroke="#231f20" stroke-width="0.2">CC-122</text>
<line x1="52.20" y1="186.40" x2="54.00" y2="186.40" stroke="#555" stroke-width="1.0"/>
<line x1="52.20" y1="197.90" x2="54.00" y2="197.90" stroke="#555" stroke-width="1.0"/>
<line x1="59.20" y1="186.40" x2="63.80" y2="186.40" stroke="#333" stroke-width="0.95"/>
<line x1="61.50" y1="184.10" x2="61.50" y2="188.70" stroke="#333" stroke-width="0.95"/>
<line x1="60.60" y1="197.90" x2="62.40" y2="197.90" stroke="#555" stroke-width="1.0"/>
<line x1="69.80" y1="186.40" x2="71.60" y2="186.40" stroke="#555" stroke-width="1.0"/>
<text x="70.70" y="200.50" font-size="8.1" text-anchor="middle" fill="#231f20" stroke="#231f20" stroke-width="0.2">1</text>
<line x1="81.10" y1="186.40" x2="82.90" y2="186.40" stroke="#555" stroke-width="1.0"/>
<text x="82.00" y="200.50" font-size="8.1" text-anchor="middle" fill="#231f20" stroke="#231f20" stroke-width="0.2">10</text>
<line x1="91.40" y1="186.40" x2="93.20" y2="186.40" stroke="#555" stroke-width="1.0"/>
<line x1="91.40" y1="197.90" x2="93.20" y2="197.90" stroke="#555" stroke-width="1.0"/>
<line x1="98.90" y1="186.40" x2="103.50" y2="186.40" stroke="#333" stroke-width="0.95"/>
<line x1="101.20" y1="184.10" x2="101.20" y2="188.70" stroke="#333" stroke-width="0.95"/>
<line x1="100.30" y1="197.90" x2="102.10" y2="197.90" stroke="#555" stroke-width="1.0"/>
<line x1="109.30" y1="186.40" x2="111.10" y2="186.40" stroke="#555" stroke-width="1.0"/>
<text x="110.20" y="200.50" font-size="8.1" text-anchor="middle" fill="#231f20" stroke="#231f20" stroke-width="0.2">1</text>
<line x1="120.80" y1="186.40" x2="122.60" y2="186.40" stroke="#555" stroke-width="1.0"/>
<text x="121.70" y="200.50" font-size="8.1" text-anchor="middle" fill="#231f20" stroke="#231f20" stroke-width="0.2">10</text>
<line x1="132.20" y1="186.40" x2="134.00" y2="186.40" stroke="#555" stroke-width="1.0"/>
<line x1="132.20" y1="197.90" x2="134.00" y2="197.90" stroke="#555" stroke-width="1.0"/>
<line x1="139.00" y1="186.40" x2="143.60" y2="186.40" stroke="#333" stroke-width="0.95"/>
<line x1="141.30" y1="184.10" x2="141.30" y2="188.70" stroke="#333" stroke-width="0.95"/>
<line x1="140.40" y1="197.90" x2="142.20" y2="197.90" stroke="#555" stroke-width="1.0"/>
<line x1="149.50" y1="186.40" x2="151.30" y2="186.40" stroke="#555" stroke-width="1.0"/>
<text x="150.40" y="200.50" font-size="8.1" text-anchor="middle" fill="#231f20" stroke="#231f20" stroke-width="0.2">1</text>
<line x1="161.00" y1="186.40" x2="162.80" y2="186.40" stroke="#555" stroke-width="1.0"/>
<text x="161.90" y="200.50" font-size="8.1" text-anchor="middle" fill="#231f20" stroke="#231f20" stroke-width="0.2">10</text>
<line x1="172.60" y1="186.40" x2="174.40" y2="186.40" stroke="#555" stroke-width="1.0"/>
<line x1="172.60" y1="197.90" x2="174.40" y2="197.90" stroke="#555" stroke-width="1.0"/>
<line x1="179.40" y1="186.40" x2="184.00" y2="186.40" stroke="#333" stroke-width="0.95"/>
<line x1="181.70" y1="184.10" x2="181.70" y2="188.70" stroke="#333" stroke-width="0.95"/>
<line x1="180.80" y1="197.90" x2="182.60" y2="197.90" stroke="#555" stroke-width="1.0"/>
<line x1="189.90" y1="186.40" x2="191.70" y2="186.40" stroke="#555" stroke-width="1.0"/>
<text x="190.80" y="200.50" font-size="8.1" text-anchor="middle" fill="#231f20" stroke="#231f20" stroke-width="0.2">1</text>
<line x1="201.50" y1="186.40" x2="203.30" y2="186.40" stroke="#555" stroke-width="1.0"/>
<text x="202.40" y="200.50" font-size="8.1" text-anchor="middle" fill="#231f20" stroke="#231f20" stroke-width="0.2">10</text>
<text x="218.80" y="200.30" font-size="7.8" textLength="15.7" lengthAdjust="spacingAndGlyphs" fill="#231f20" stroke="#231f20" stroke-width="0.2">(µM)</text>
<text x="328.10" y="163.60" font-size="8" text-anchor="middle" textLength="15.8" lengthAdjust="spacingAndGlyphs" fill="#231f20" stroke="#231f20" stroke-width="0.2">Nluc</text>
<text x="328.15" y="173.20" font-size="8" text-anchor="middle" textLength="16.7" lengthAdjust="spacingAndGlyphs" fill="#231f20" stroke="#231f20" stroke-width="0.2">GFP</text>
<text x="369.50" y="163.60" font-size="8" text-anchor="middle" textLength="20.7" lengthAdjust="spacingAndGlyphs" fill="#231f20" stroke="#231f20" stroke-width="0.2">IKZF1</text>
<text x="370.15" y="173.20" font-size="8" text-anchor="middle" textLength="26.0" lengthAdjust="spacingAndGlyphs" fill="#231f20" stroke="#231f20" stroke-width="0.2">G151A</text>
<text x="411.30" y="163.60" font-size="8" text-anchor="middle" textLength="21.1" lengthAdjust="spacingAndGlyphs" fill="#231f20" stroke="#231f20" stroke-width="0.2">IKZF3</text>
<text x="411.70" y="173.20" font-size="8" text-anchor="middle" textLength="26.4" lengthAdjust="spacingAndGlyphs" fill="#231f20" stroke="#231f20" stroke-width="0.2">G152A</text>
<text x="453.20" y="163.60" font-size="8" text-anchor="middle" textLength="23.4" lengthAdjust="spacingAndGlyphs" fill="#231f20" stroke="#231f20" stroke-width="0.2">ZFP91</text>
<text x="453.60" y="173.20" font-size="8" text-anchor="middle" textLength="25.6" lengthAdjust="spacingAndGlyphs" fill="#231f20" stroke="#231f20" stroke-width="0.2">G405A</text>
<line x1="307.80" y1="177.90" x2="348.00" y2="177.90" stroke="#3a3a3a" stroke-width="1.7"/>
<line x1="350.40" y1="177.90" x2="390.00" y2="177.90" stroke="#3a3a3a" stroke-width="1.7"/>
<line x1="391.90" y1="177.90" x2="431.90" y2="177.90" stroke="#3a3a3a" stroke-width="1.7"/>
<line x1="433.80" y1="177.90" x2="473.80" y2="177.90" stroke="#3a3a3a" stroke-width="1.7"/>
<text x="300.90" y="188.30" font-size="8.1" text-anchor="end" textLength="24.4" lengthAdjust="spacingAndGlyphs" fill="#231f20" stroke="#231f20" stroke-width="0.2">DMSO</text>
<text x="301.80" y="199.60" font-size="8.2" text-anchor="end" textLength="26.8" lengthAdjust="spacingAndGlyphs" fill="#231f20" stroke="#231f20" stroke-width="0.2">CC-122</text>
<line x1="310.60" y1="185.40" x2="312.40" y2="185.40" stroke="#555" stroke-width="1.0"/>
<line x1="310.60" y1="197.00" x2="312.40" y2="197.00" stroke="#555" stroke-width="1.0"/>
<line x1="317.60" y1="185.40" x2="322.20" y2="185.40" stroke="#333" stroke-width="0.95"/>
<line x1="319.90" y1="183.10" x2="319.90" y2="187.70" stroke="#333" stroke-width="0.95"/>
<line x1="319.00" y1="197.00" x2="320.80" y2="197.00" stroke="#555" stroke-width="1.0"/>
<line x1="328.30" y1="185.40" x2="330.10" y2="185.40" stroke="#555" stroke-width="1.0"/>
<text x="329.20" y="199.60" font-size="8.1" text-anchor="middle" fill="#231f20" stroke="#231f20" stroke-width="0.2">1</text>
<line x1="339.60" y1="185.40" x2="341.40" y2="185.40" stroke="#555" stroke-width="1.0"/>
<text x="340.50" y="199.60" font-size="8.1" text-anchor="middle" fill="#231f20" stroke="#231f20" stroke-width="0.2">10</text>
<line x1="352.00" y1="185.40" x2="353.80" y2="185.40" stroke="#555" stroke-width="1.0"/>
<line x1="352.00" y1="197.00" x2="353.80" y2="197.00" stroke="#555" stroke-width="1.0"/>
<line x1="359.20" y1="185.40" x2="363.80" y2="185.40" stroke="#333" stroke-width="0.95"/>
<line x1="361.50" y1="183.10" x2="361.50" y2="187.70" stroke="#333" stroke-width="0.95"/>
<line x1="360.60" y1="197.00" x2="362.40" y2="197.00" stroke="#555" stroke-width="1.0"/>
<line x1="369.90" y1="185.40" x2="371.70" y2="185.40" stroke="#555" stroke-width="1.0"/>
<text x="370.80" y="199.60" font-size="8.1" text-anchor="middle" fill="#231f20" stroke="#231f20" stroke-width="0.2">1</text>
<line x1="381.40" y1="185.40" x2="383.20" y2="185.40" stroke="#555" stroke-width="1.0"/>
<text x="382.30" y="199.60" font-size="8.1" text-anchor="middle" fill="#231f20" stroke="#231f20" stroke-width="0.2">10</text>
<line x1="394.50" y1="185.40" x2="396.30" y2="185.40" stroke="#555" stroke-width="1.0"/>
<line x1="394.50" y1="197.00" x2="396.30" y2="197.00" stroke="#555" stroke-width="1.0"/>
<line x1="401.40" y1="185.40" x2="406.00" y2="185.40" stroke="#333" stroke-width="0.95"/>
<line x1="403.70" y1="183.10" x2="403.70" y2="187.70" stroke="#333" stroke-width="0.95"/>
<line x1="402.80" y1="197.00" x2="404.60" y2="197.00" stroke="#555" stroke-width="1.0"/>
<line x1="412.20" y1="185.40" x2="414.00" y2="185.40" stroke="#555" stroke-width="1.0"/>
<text x="413.10" y="199.60" font-size="8.1" text-anchor="middle" fill="#231f20" stroke="#231f20" stroke-width="0.2">1</text>
<line x1="423.70" y1="185.40" x2="425.50" y2="185.40" stroke="#555" stroke-width="1.0"/>
<text x="424.60" y="199.60" font-size="8.1" text-anchor="middle" fill="#231f20" stroke="#231f20" stroke-width="0.2">10</text>
<line x1="436.80" y1="185.40" x2="438.60" y2="185.40" stroke="#555" stroke-width="1.0"/>
<line x1="436.80" y1="197.00" x2="438.60" y2="197.00" stroke="#555" stroke-width="1.0"/>
<line x1="444.00" y1="185.40" x2="448.60" y2="185.40" stroke="#333" stroke-width="0.95"/>
<line x1="446.30" y1="183.10" x2="446.30" y2="187.70" stroke="#333" stroke-width="0.95"/>
<line x1="445.40" y1="197.00" x2="447.20" y2="197.00" stroke="#555" stroke-width="1.0"/>
<line x1="454.90" y1="185.40" x2="456.70" y2="185.40" stroke="#555" stroke-width="1.0"/>
<text x="455.80" y="199.60" font-size="8.1" text-anchor="middle" fill="#231f20" stroke="#231f20" stroke-width="0.2">1</text>
<line x1="466.60" y1="185.40" x2="468.40" y2="185.40" stroke="#555" stroke-width="1.0"/>
<text x="467.50" y="199.60" font-size="8.1" text-anchor="middle" fill="#231f20" stroke="#231f20" stroke-width="0.2">10</text>
<text x="479.60" y="199.40" font-size="7.8" textLength="15.7" lengthAdjust="spacingAndGlyphs" fill="#231f20" stroke="#231f20" stroke-width="0.2">(µM)</text>
<rect x="0.5" y="0.5" width="519" height="592" fill="none" stroke="#000" stroke-width="1.2"/>
</svg></body></html>
